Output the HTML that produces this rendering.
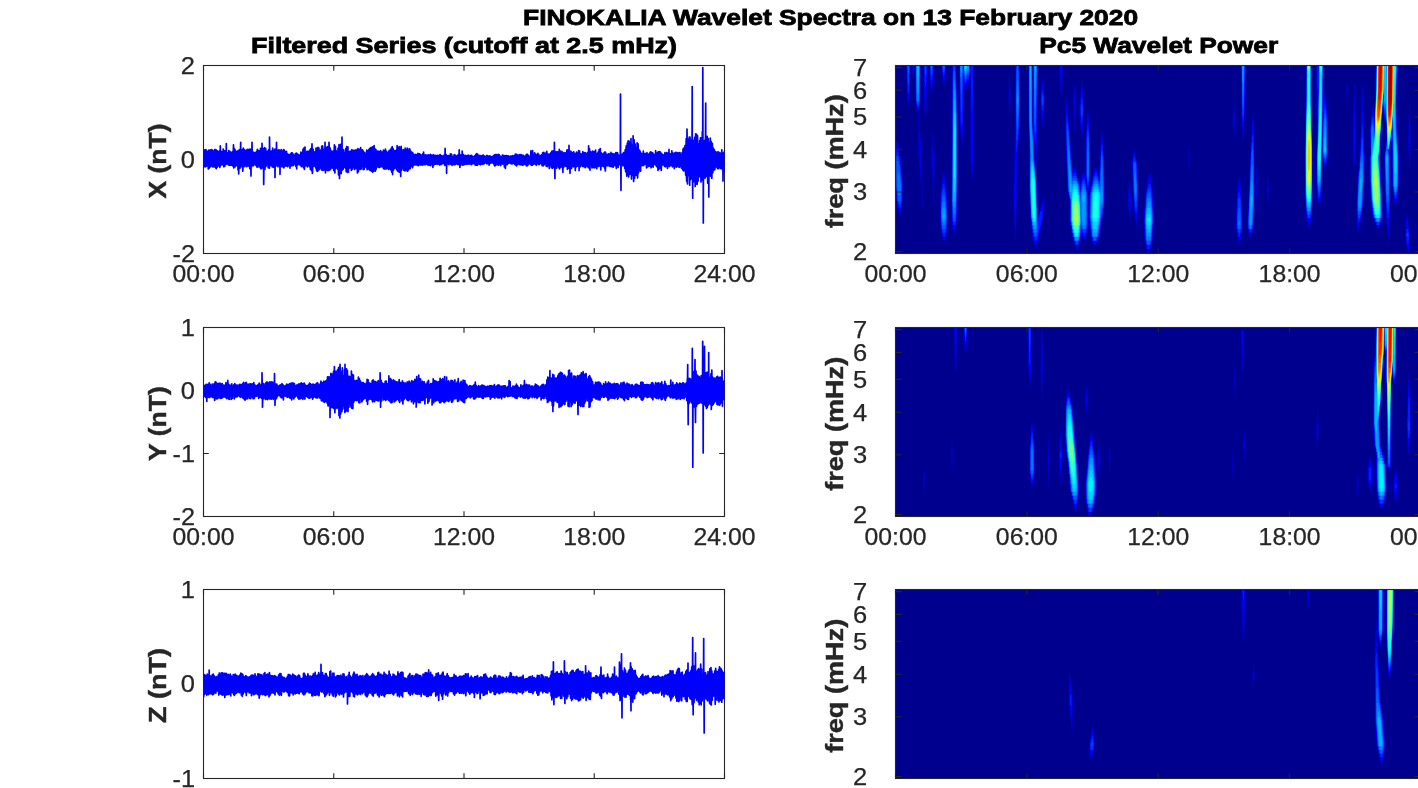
<!DOCTYPE html>
<html><head><meta charset="utf-8"><style>html,body{margin:0;padding:0;background:#fff;overflow:hidden}svg{display:block;will-change:transform}</style></head>
<body><svg width="1418" height="788" viewBox="0 0 1418 788">
<rect width="1418" height="788" fill="#fff"/>
<text x="830.60" y="25.25" font-family="&quot;Liberation Sans&quot;, sans-serif" font-size="22.7" font-weight="bold" text-anchor="middle" fill="#000" textLength="615" lengthAdjust="spacingAndGlyphs"  stroke="#000" stroke-width="0.8">FINOKALIA Wavelet Spectra on 13 February 2020</text>
<text x="464.00" y="53.30" font-family="&quot;Liberation Sans&quot;, sans-serif" font-size="22.7" font-weight="bold" text-anchor="middle" fill="#000" textLength="426" lengthAdjust="spacingAndGlyphs"  stroke="#000" stroke-width="0.8">Filtered Series (cutoff at 2.5 mHz)</text>
<text x="1158.70" y="53.30" font-family="&quot;Liberation Sans&quot;, sans-serif" font-size="22.7" font-weight="bold" text-anchor="middle" fill="#000" textLength="239" lengthAdjust="spacingAndGlyphs"  stroke="#000" stroke-width="0.8">Pc5 Wavelet Power</text>
<defs><filter id="blr" x="-5%" y="-5%" width="110%" height="110%"><feGaussianBlur stdDeviation="0.6"/></filter><clipPath id="cl1"><rect x="203.5" y="65.5" width="521" height="188"/></clipPath><clipPath id="cl2"><rect x="203.5" y="327.5" width="521" height="189"/></clipPath><clipPath id="cl3"><rect x="203.5" y="589.5" width="521" height="189"/></clipPath></defs>
<rect x="203.5" y="65.5" width="521.0" height="188.0" fill="none" stroke="#262626" stroke-width="1.1"/>
<path d="M203.50 253.5V248.2M203.50 65.5V70.8M333.75 253.5V248.2M333.75 65.5V70.8M464.00 253.5V248.2M464.00 65.5V70.8M594.25 253.5V248.2M594.25 65.5V70.8M724.50 253.5V248.2M724.50 65.5V70.8M203.5 65.50H208.8M724.5 65.50H719.2M203.5 159.50H208.8M724.5 159.50H719.2M203.5 253.50H208.8M724.5 253.50H719.2" stroke="#262626" stroke-width="1.1" fill="none"/>
<text x="195.00" y="73.70" font-family="&quot;Liberation Sans&quot;, sans-serif" font-size="23.2" font-weight="normal" text-anchor="end" fill="#262626" textLength="14.2" lengthAdjust="spacingAndGlyphs"  stroke="#262626" stroke-width="0.25">2</text>
<text x="195.00" y="167.70" font-family="&quot;Liberation Sans&quot;, sans-serif" font-size="23.2" font-weight="normal" text-anchor="end" fill="#262626" textLength="14.2" lengthAdjust="spacingAndGlyphs"  stroke="#262626" stroke-width="0.25">0</text>
<text x="195.00" y="261.70" font-family="&quot;Liberation Sans&quot;, sans-serif" font-size="23.2" font-weight="normal" text-anchor="end" fill="#262626" textLength="22.5" lengthAdjust="spacingAndGlyphs"  stroke="#262626" stroke-width="0.25">-2</text>
<text x="203.50" y="281.90" font-family="&quot;Liberation Sans&quot;, sans-serif" font-size="23.2" font-weight="normal" text-anchor="middle" fill="#262626" textLength="62" lengthAdjust="spacingAndGlyphs"  stroke="#262626" stroke-width="0.25">00:00</text>
<text x="333.75" y="281.90" font-family="&quot;Liberation Sans&quot;, sans-serif" font-size="23.2" font-weight="normal" text-anchor="middle" fill="#262626" textLength="62" lengthAdjust="spacingAndGlyphs"  stroke="#262626" stroke-width="0.25">06:00</text>
<text x="464.00" y="281.90" font-family="&quot;Liberation Sans&quot;, sans-serif" font-size="23.2" font-weight="normal" text-anchor="middle" fill="#262626" textLength="62" lengthAdjust="spacingAndGlyphs"  stroke="#262626" stroke-width="0.25">12:00</text>
<text x="594.25" y="281.90" font-family="&quot;Liberation Sans&quot;, sans-serif" font-size="23.2" font-weight="normal" text-anchor="middle" fill="#262626" textLength="62" lengthAdjust="spacingAndGlyphs"  stroke="#262626" stroke-width="0.25">18:00</text>
<text x="724.50" y="281.90" font-family="&quot;Liberation Sans&quot;, sans-serif" font-size="23.2" font-weight="normal" text-anchor="middle" fill="#262626" textLength="62" lengthAdjust="spacingAndGlyphs"  stroke="#262626" stroke-width="0.25">24:00</text>
<text transform="translate(165.5 161.0) rotate(-90)" font-family="&quot;Liberation Sans&quot;, sans-serif" font-size="23.2" font-weight="bold" text-anchor="middle" fill="#262626" stroke="#262626" stroke-width="0.4" textLength="75" lengthAdjust="spacingAndGlyphs">X (nT)</text>
<rect x="203.5" y="327.5" width="521.0" height="189.0" fill="none" stroke="#262626" stroke-width="1.1"/>
<path d="M203.50 516.5V511.2M203.50 327.5V332.8M333.75 516.5V511.2M333.75 327.5V332.8M464.00 516.5V511.2M464.00 327.5V332.8M594.25 516.5V511.2M594.25 327.5V332.8M724.50 516.5V511.2M724.50 327.5V332.8M203.5 327.50H208.8M724.5 327.50H719.2M203.5 390.50H208.8M724.5 390.50H719.2M203.5 453.50H208.8M724.5 453.50H719.2M203.5 516.50H208.8M724.5 516.50H719.2" stroke="#262626" stroke-width="1.1" fill="none"/>
<text x="195.00" y="335.70" font-family="&quot;Liberation Sans&quot;, sans-serif" font-size="23.2" font-weight="normal" text-anchor="end" fill="#262626" textLength="14.2" lengthAdjust="spacingAndGlyphs"  stroke="#262626" stroke-width="0.25">1</text>
<text x="195.00" y="398.70" font-family="&quot;Liberation Sans&quot;, sans-serif" font-size="23.2" font-weight="normal" text-anchor="end" fill="#262626" textLength="14.2" lengthAdjust="spacingAndGlyphs"  stroke="#262626" stroke-width="0.25">0</text>
<text x="195.00" y="461.70" font-family="&quot;Liberation Sans&quot;, sans-serif" font-size="23.2" font-weight="normal" text-anchor="end" fill="#262626" textLength="22.5" lengthAdjust="spacingAndGlyphs"  stroke="#262626" stroke-width="0.25">-1</text>
<text x="195.00" y="524.70" font-family="&quot;Liberation Sans&quot;, sans-serif" font-size="23.2" font-weight="normal" text-anchor="end" fill="#262626" textLength="22.5" lengthAdjust="spacingAndGlyphs"  stroke="#262626" stroke-width="0.25">-2</text>
<text x="203.50" y="544.90" font-family="&quot;Liberation Sans&quot;, sans-serif" font-size="23.2" font-weight="normal" text-anchor="middle" fill="#262626" textLength="62" lengthAdjust="spacingAndGlyphs"  stroke="#262626" stroke-width="0.25">00:00</text>
<text x="333.75" y="544.90" font-family="&quot;Liberation Sans&quot;, sans-serif" font-size="23.2" font-weight="normal" text-anchor="middle" fill="#262626" textLength="62" lengthAdjust="spacingAndGlyphs"  stroke="#262626" stroke-width="0.25">06:00</text>
<text x="464.00" y="544.90" font-family="&quot;Liberation Sans&quot;, sans-serif" font-size="23.2" font-weight="normal" text-anchor="middle" fill="#262626" textLength="62" lengthAdjust="spacingAndGlyphs"  stroke="#262626" stroke-width="0.25">12:00</text>
<text x="594.25" y="544.90" font-family="&quot;Liberation Sans&quot;, sans-serif" font-size="23.2" font-weight="normal" text-anchor="middle" fill="#262626" textLength="62" lengthAdjust="spacingAndGlyphs"  stroke="#262626" stroke-width="0.25">18:00</text>
<text x="724.50" y="544.90" font-family="&quot;Liberation Sans&quot;, sans-serif" font-size="23.2" font-weight="normal" text-anchor="middle" fill="#262626" textLength="62" lengthAdjust="spacingAndGlyphs"  stroke="#262626" stroke-width="0.25">24:00</text>
<text transform="translate(165.5 423.5) rotate(-90)" font-family="&quot;Liberation Sans&quot;, sans-serif" font-size="23.2" font-weight="bold" text-anchor="middle" fill="#262626" stroke="#262626" stroke-width="0.4" textLength="75" lengthAdjust="spacingAndGlyphs">Y (nT)</text>
<rect x="203.5" y="589.5" width="521.0" height="189.0" fill="none" stroke="#262626" stroke-width="1.1"/>
<path d="M203.50 778.5V773.2M203.50 589.5V594.8M333.75 778.5V773.2M333.75 589.5V594.8M464.00 778.5V773.2M464.00 589.5V594.8M594.25 778.5V773.2M594.25 589.5V594.8M724.50 778.5V773.2M724.50 589.5V594.8M203.5 589.50H208.8M724.5 589.50H719.2M203.5 684.00H208.8M724.5 684.00H719.2M203.5 778.50H208.8M724.5 778.50H719.2" stroke="#262626" stroke-width="1.1" fill="none"/>
<text x="195.00" y="597.70" font-family="&quot;Liberation Sans&quot;, sans-serif" font-size="23.2" font-weight="normal" text-anchor="end" fill="#262626" textLength="14.2" lengthAdjust="spacingAndGlyphs"  stroke="#262626" stroke-width="0.25">1</text>
<text x="195.00" y="692.20" font-family="&quot;Liberation Sans&quot;, sans-serif" font-size="23.2" font-weight="normal" text-anchor="end" fill="#262626" textLength="14.2" lengthAdjust="spacingAndGlyphs"  stroke="#262626" stroke-width="0.25">0</text>
<text x="195.00" y="786.70" font-family="&quot;Liberation Sans&quot;, sans-serif" font-size="23.2" font-weight="normal" text-anchor="end" fill="#262626" textLength="22.5" lengthAdjust="spacingAndGlyphs"  stroke="#262626" stroke-width="0.25">-1</text>
<text transform="translate(165.5 685.5) rotate(-90)" font-family="&quot;Liberation Sans&quot;, sans-serif" font-size="23.2" font-weight="bold" text-anchor="middle" fill="#262626" stroke="#262626" stroke-width="0.4" textLength="75" lengthAdjust="spacingAndGlyphs">Z (nT)</text>
<g clip-path="url(#cl1)">
<polyline points="203.5,166.2 203.7,167.2 203.8,157.8 204.0,150.1 204.2,152.2 204.3,159.1 204.5,166.4 204.7,166.1 204.8,155.3 205.0,149.8 205.2,153.0 205.3,159.9 205.5,166.8 205.7,164.5 205.8,156.2 206.0,149.5 206.2,155.4 206.3,166.3 206.5,166.2 206.7,156.9 206.8,152.0 207.0,155.5 207.2,162.6 207.3,163.8 207.5,159.1 207.7,151.5 207.8,151.1 208.0,153.8 208.2,164.9 208.3,169.1 208.5,158.6 208.7,150.4 208.8,150.2 209.0,164.3 209.2,168.2 209.3,155.6 209.5,151.1 209.7,150.1 209.8,154.6 210.0,162.3 210.2,166.1 210.3,166.9 210.5,163.1 210.7,151.3 210.8,149.9 211.0,157.6 211.2,165.7 211.3,165.8 211.5,154.8 211.7,149.6 211.8,153.3 212.0,158.9 212.2,164.8 212.3,166.6 212.5,162.0 212.7,155.3 212.8,150.3 213.0,153.9 213.2,160.4 213.3,166.9 213.5,164.4 213.7,160.3 213.8,155.3 214.0,151.0 214.2,157.3 214.3,166.6 214.5,163.2 214.7,156.0 214.8,149.5 215.0,153.8 215.2,163.1 215.3,167.6 215.5,159.3 215.7,151.8 215.8,149.5 216.0,152.0 216.2,160.7 216.3,168.7 216.5,158.6 216.7,150.6 216.8,153.0 217.0,164.1 217.2,167.2 217.3,158.5 217.5,151.1 217.7,151.2 217.8,156.5 218.0,164.9 218.2,165.2 218.3,156.9 218.5,152.7 218.7,152.0 218.8,161.3 219.0,166.2 219.2,159.2 219.3,151.1 219.5,152.6 219.7,158.1 219.8,167.5 220.0,165.3 220.2,153.0 220.3,145.9 220.5,154.9 220.7,165.6 220.8,164.8 221.0,156.5 221.2,151.4 221.3,153.8 221.5,158.6 221.7,164.5 221.8,161.9 222.0,154.2 222.2,152.1 222.3,153.7 222.5,159.7 222.7,164.8 222.8,163.2 223.0,156.6 223.2,149.0 223.3,154.3 223.5,161.1 223.7,165.1 223.8,166.8 224.0,155.9 224.2,150.7 224.3,150.8 224.5,160.3 224.7,166.5 224.8,162.9 225.0,158.0 225.2,151.1 225.3,153.2 225.5,158.2 225.7,164.7 225.8,161.3 226.0,152.9 226.2,154.2 226.3,143.5 226.5,164.0 226.7,157.7 226.8,153.5 227.0,153.6 227.2,159.0 227.3,163.5 227.5,164.0 227.7,161.0 227.8,157.1 228.0,152.5 228.2,153.3 228.3,161.0 228.5,165.0 228.7,158.1 228.8,150.7 229.0,155.1 229.2,163.6 229.3,165.5 229.5,161.5 229.7,156.9 229.8,151.3 230.0,153.4 230.2,161.6 230.3,165.1 230.5,163.4 230.7,157.5 230.8,152.4 231.0,152.9 231.2,155.7 231.3,161.2 231.5,165.1 231.7,161.6 231.8,156.7 232.0,152.1 232.2,154.4 232.3,163.2 232.5,165.8 232.7,164.3 232.8,159.4 233.0,153.1 233.2,150.6 233.3,150.9 233.5,144.9 233.7,163.9 233.8,168.1 234.0,160.8 234.2,152.2 234.3,148.4 234.5,149.8 234.7,157.8 234.8,164.4 235.0,167.0 235.2,158.4 235.3,150.0 235.5,151.6 235.7,155.1 235.8,160.6 236.0,166.0 236.2,164.6 236.3,156.1 236.5,152.1 236.7,151.6 236.8,158.3 237.0,164.5 237.2,164.8 237.3,155.3 237.5,151.0 237.7,151.1 237.8,158.3 238.0,169.8 238.2,163.1 238.3,151.4 238.5,150.5 238.7,173.8 238.8,168.3 239.0,165.7 239.2,156.2 239.3,150.0 239.5,149.6 239.7,155.5 239.8,161.4 240.0,168.3 240.2,160.1 240.3,150.4 240.5,151.2 240.7,142.3 240.8,163.4 241.0,165.8 241.2,158.3 241.3,151.0 241.5,155.5 241.7,162.5 241.8,166.9 242.0,163.6 242.2,154.6 242.3,149.7 242.5,151.0 242.7,161.9 242.8,171.2 243.0,166.5 243.2,156.3 243.3,148.2 243.5,149.9 243.7,156.8 243.8,164.7 244.0,166.4 244.2,154.6 244.3,149.5 244.5,155.7 244.7,165.3 244.8,166.6 245.0,161.9 245.2,152.8 245.3,150.6 245.5,158.9 245.7,165.0 245.8,163.9 246.0,155.6 246.2,150.3 246.3,154.9 246.5,161.2 246.7,165.1 246.8,166.7 247.0,161.5 247.2,151.9 247.3,149.3 247.5,157.9 247.7,164.6 247.8,165.7 248.0,161.0 248.2,154.0 248.3,149.7 248.5,151.9 248.7,159.7 248.8,166.1 249.0,164.5 249.2,154.2 249.3,149.4 249.5,153.2 249.7,165.9 249.8,168.6 250.0,158.3 250.2,149.1 250.3,153.6 250.5,163.0 250.7,167.2 250.8,161.2 251.0,175.9 251.2,153.0 251.3,158.2 251.5,163.5 251.7,163.1 251.8,158.0 252.0,142.3 252.2,154.6 252.3,159.8 252.5,164.8 252.7,165.8 252.8,159.0 253.0,152.2 253.2,152.1 253.3,155.8 253.5,164.0 253.7,165.6 253.8,160.7 254.0,152.6 254.2,152.9 254.3,156.8 254.5,163.9 254.7,162.4 254.8,155.8 255.0,152.6 255.2,154.6 255.3,160.3 255.5,164.1 255.7,165.2 255.9,162.7 256.0,157.8 256.2,152.6 256.4,151.8 256.5,159.6 256.7,167.0 256.9,162.5 257.0,156.6 257.2,150.1 257.4,149.4 257.5,155.8 257.7,162.5 257.9,167.2 258.0,167.0 258.2,161.6 258.4,151.3 258.5,150.6 258.7,158.2 258.9,163.6 259.0,165.9 259.2,161.5 259.4,156.4 259.5,150.8 259.7,153.3 259.9,163.8 260.0,167.6 260.2,165.3 260.4,151.9 260.5,148.3 260.7,151.3 260.9,165.8 261.0,168.9 261.2,163.1 261.4,152.5 261.5,149.6 261.7,159.6 261.9,167.8 262.0,143.3 262.2,154.0 262.4,149.2 262.5,154.4 262.7,165.1 262.9,168.0 263.0,161.7 263.2,151.3 263.4,148.9 263.5,154.1 263.7,184.5 263.9,168.1 264.0,164.7 264.2,154.2 264.4,147.7 264.5,150.2 264.7,155.4 264.9,169.4 265.0,168.2 265.2,165.5 265.4,156.2 265.5,148.9 265.7,148.3 265.9,160.9 266.0,166.4 266.2,165.4 266.4,159.1 266.5,151.3 266.7,151.5 266.9,157.0 267.0,162.8 267.2,164.6 267.4,158.6 267.5,151.2 267.7,152.0 267.9,155.7 268.0,162.7 268.2,167.8 268.4,163.4 268.5,154.6 268.7,149.7 268.9,149.8 269.0,159.1 269.2,164.9 269.4,168.2 269.5,137.2 269.7,150.4 269.9,150.8 270.0,156.1 270.2,165.4 270.4,165.5 270.5,158.8 270.7,153.4 270.9,151.2 271.0,158.3 271.2,162.9 271.4,165.3 271.5,163.0 271.7,153.7 271.9,151.1 272.0,157.3 272.2,166.0 272.4,167.0 272.5,153.1 272.7,148.2 272.9,150.8 273.0,156.7 273.2,166.4 273.4,167.3 273.5,156.5 273.7,151.7 273.9,150.7 274.0,157.9 274.2,164.0 274.4,166.8 274.5,161.2 274.7,150.5 274.9,149.0 275.0,177.4 275.2,161.1 275.4,166.7 275.5,162.1 275.7,153.4 275.9,150.6 276.0,154.0 276.2,164.6 276.4,164.5 276.5,142.3 276.7,150.2 276.9,157.6 277.0,165.6 277.2,165.0 277.4,160.6 277.5,151.9 277.7,151.5 277.9,162.8 278.0,166.8 278.2,160.9 278.4,153.9 278.5,149.9 278.7,161.3 278.9,166.0 279.0,165.9 279.2,156.3 279.4,150.2 279.5,157.4 279.7,162.7 279.9,165.6 280.0,174.3 280.2,155.7 280.4,150.8 280.5,153.5 280.7,165.1 280.9,164.7 281.0,157.8 281.2,149.5 281.4,151.8 281.5,159.5 281.7,165.4 281.9,166.9 282.0,162.2 282.2,157.1 282.4,151.0 282.5,151.4 282.7,160.3 282.9,165.8 283.0,166.5 283.2,162.7 283.4,153.5 283.5,149.6 283.7,159.4 283.9,168.0 284.0,163.2 284.2,153.4 284.4,150.2 284.5,151.8 284.7,163.0 284.9,166.3 285.0,161.8 285.2,156.6 285.4,152.2 285.5,152.0 285.7,157.1 285.9,165.9 286.0,166.0 286.2,159.0 286.4,154.2 286.5,151.4 286.7,156.4 286.9,164.0 287.0,166.0 287.2,162.4 287.4,154.4 287.5,153.8 287.7,158.7 287.9,166.8 288.0,165.6 288.2,160.8 288.4,157.0 288.5,154.6 288.7,157.9 288.9,164.5 289.0,165.2 289.2,161.8 289.4,156.6 289.5,154.6 289.7,160.8 289.9,164.5 290.0,168.2 290.2,159.8 290.4,154.9 290.5,154.0 290.7,160.8 290.9,166.2 291.0,163.8 291.2,156.9 291.4,152.9 291.5,157.0 291.7,165.2 291.9,164.8 292.0,156.2 292.2,152.8 292.4,158.7 292.5,165.3 292.7,165.6 292.9,161.5 293.0,154.2 293.2,154.2 293.4,159.8 293.5,165.3 293.7,164.1 293.9,157.3 294.0,155.5 294.2,157.0 294.4,162.0 294.5,164.0 294.7,163.7 294.9,160.8 295.0,156.6 295.2,153.9 295.4,156.9 295.5,161.8 295.7,166.3 295.9,162.7 296.0,154.6 296.2,153.2 296.4,158.5 296.5,163.9 296.7,168.9 296.9,158.7 297.0,153.7 297.2,154.6 297.4,161.3 297.5,165.2 297.7,162.9 297.9,156.4 298.0,154.3 298.2,155.2 298.4,161.1 298.5,164.3 298.7,159.7 298.9,155.5 299.0,156.6 299.2,159.3 299.4,162.0 299.5,164.4 299.7,161.4 299.9,155.3 300.0,154.7 300.2,158.1 300.4,165.4 300.5,165.4 300.7,159.8 300.9,152.0 301.0,155.7 301.2,161.8 301.4,166.7 301.5,163.4 301.7,157.1 301.9,153.0 302.0,154.3 302.2,160.7 302.4,165.6 302.5,164.2 302.7,156.6 302.9,151.1 303.0,149.4 303.2,164.3 303.4,167.7 303.5,162.1 303.7,154.6 303.9,148.0 304.0,154.8 304.2,162.6 304.4,169.5 304.5,167.4 304.7,158.5 304.9,147.9 305.0,147.2 305.2,158.0 305.4,165.0 305.5,165.9 305.7,158.6 305.9,152.9 306.0,154.0 306.2,163.0 306.4,165.7 306.5,159.7 306.7,153.9 306.9,151.3 307.0,156.7 307.2,163.2 307.4,166.9 307.5,165.4 307.7,159.7 307.9,151.3 308.0,155.4 308.2,160.5 308.4,165.1 308.5,163.8 308.7,153.3 308.9,151.5 309.0,158.0 309.2,164.3 309.4,166.6 309.5,156.7 309.7,150.2 309.9,150.7 310.0,154.2 310.2,166.6 310.4,169.4 310.5,164.9 310.7,153.2 310.9,148.6 311.0,152.8 311.2,161.9 311.4,168.8 311.5,170.7 311.7,161.8 311.9,147.3 312.0,143.9 312.2,152.7 312.4,173.4 312.5,171.9 312.7,167.1 312.9,155.5 313.0,150.0 313.2,149.5 313.4,157.3 313.5,166.1 313.7,165.2 313.9,156.9 314.0,152.5 314.2,152.3 314.4,159.6 314.5,166.2 314.7,166.1 314.9,159.7 315.0,153.1 315.2,151.6 315.4,157.7 315.5,164.7 315.7,167.9 315.9,157.8 316.0,148.1 316.2,155.0 316.4,164.8 316.5,170.6 316.7,163.7 316.9,150.2 317.0,148.4 317.2,158.1 317.4,171.3 317.5,170.6 317.7,164.8 317.9,149.1 318.0,147.3 318.2,156.1 318.4,170.5 318.5,167.2 318.7,155.5 318.9,147.9 319.0,158.3 319.2,169.4 319.4,167.7 319.5,161.0 319.7,153.7 319.9,150.3 320.0,155.7 320.2,165.9 320.4,168.0 320.5,165.7 320.7,157.6 320.9,149.8 321.0,154.9 321.2,164.8 321.4,169.6 321.5,158.2 321.7,146.3 321.9,149.6 322.0,162.6 322.2,170.3 322.4,160.0 322.5,145.9 322.7,147.6 322.9,154.2 323.0,165.0 323.2,170.3 323.4,162.4 323.5,150.4 323.7,149.6 323.9,161.2 324.0,167.3 324.2,169.9 324.4,164.5 324.5,151.3 324.7,149.5 324.9,161.3 325.0,142.3 325.2,163.4 325.4,150.1 325.5,172.8 325.7,164.4 325.9,168.6 326.0,157.0 326.2,147.5 326.4,150.5 326.5,155.9 326.7,169.9 326.9,170.1 327.0,161.5 327.2,152.9 327.4,146.7 327.5,150.4 327.7,166.1 327.9,170.7 328.0,164.1 328.2,148.9 328.4,146.5 328.5,160.6 328.7,170.5 328.9,164.0 329.0,142.3 329.2,147.0 329.4,149.9 329.5,164.5 329.7,170.2 329.9,166.4 330.0,155.2 330.2,148.0 330.4,151.8 330.5,166.2 330.7,169.1 330.9,167.1 331.0,158.7 331.2,150.9 331.4,152.1 331.5,163.2 331.7,167.7 331.9,166.4 332.0,161.4 332.2,151.7 332.4,151.9 332.5,158.1 332.7,167.6 332.9,168.1 333.0,163.3 333.2,151.1 333.4,150.9 333.5,159.7 333.7,169.7 333.9,170.6 334.0,164.0 334.2,150.0 334.4,144.9 334.5,153.6 334.7,169.7 334.9,173.0 335.0,163.3 335.2,152.4 335.4,146.6 335.5,153.5 335.7,166.5 335.9,168.5 336.0,159.6 336.2,151.7 336.4,151.0 336.5,158.4 336.7,167.3 336.9,165.6 337.0,157.7 337.2,151.0 337.4,152.6 337.5,164.1 337.7,169.4 337.9,163.1 338.0,148.4 338.2,149.2 338.4,162.1 338.5,174.8 338.7,166.8 338.9,150.9 339.0,144.7 339.2,155.2 339.4,165.8 339.5,178.4 339.7,157.1 339.9,146.5 340.0,148.4 340.2,165.5 340.4,172.7 340.5,158.4 340.7,144.4 340.9,148.5 341.0,164.0 341.2,173.7 341.4,164.5 341.5,154.6 341.7,145.0 341.9,148.3 342.0,137.2 342.2,170.1 342.4,165.2 342.5,152.6 342.7,149.8 342.9,159.5 343.0,168.1 343.2,169.2 343.4,164.1 343.5,153.8 343.7,149.6 343.9,155.0 344.0,161.5 344.2,167.2 344.4,167.1 344.5,157.1 344.7,152.6 344.9,152.5 345.0,159.6 345.2,165.5 345.4,168.1 345.5,160.4 345.7,153.2 345.9,148.4 346.0,159.5 346.2,171.6 346.4,169.5 346.5,160.8 346.7,146.7 346.9,149.1 347.0,158.4 347.2,170.2 347.4,172.5 347.5,162.7 347.7,151.7 347.9,146.9 348.0,152.6 348.2,167.3 348.4,172.2 348.5,168.0 348.7,155.8 348.9,151.9 349.0,153.5 349.2,161.5 349.4,168.2 349.5,164.8 349.7,153.2 349.9,151.4 350.0,153.3 350.2,162.6 350.4,167.9 350.5,166.3 350.7,156.2 350.9,151.1 351.0,153.1 351.2,162.7 351.4,170.5 351.5,167.5 351.7,160.1 351.9,149.7 352.0,150.5 352.2,158.0 352.4,169.1 352.5,166.5 352.7,162.1 352.9,156.0 353.0,151.1 353.2,157.6 353.4,167.3 353.5,166.8 353.7,161.4 353.9,155.0 354.0,150.0 354.2,151.9 354.4,163.3 354.5,169.5 354.7,166.8 354.9,157.7 355.0,150.8 355.2,151.2 355.4,161.9 355.5,168.7 355.7,165.0 355.9,153.3 356.0,149.6 356.2,158.4 356.4,168.2 356.5,166.4 356.7,157.0 356.9,150.8 357.0,151.8 357.2,161.9 357.4,173.0 357.5,166.8 357.7,152.5 357.9,148.6 358.0,158.8 358.2,170.6 358.4,171.7 358.5,166.4 358.7,156.7 358.9,149.7 359.0,151.2 359.2,158.0 359.4,168.8 359.5,167.3 359.7,158.4 359.9,149.1 360.1,156.8 360.2,169.5 360.4,167.1 360.6,153.2 360.7,147.5 360.9,157.6 361.1,164.5 361.2,169.1 361.4,161.9 361.6,153.2 361.7,150.4 361.9,156.1 362.1,166.7 362.2,166.5 362.4,155.8 362.6,149.8 362.7,152.4 362.9,157.9 363.1,168.3 363.2,169.7 363.4,164.6 363.6,156.3 363.7,151.5 363.9,160.1 364.1,169.4 364.2,165.0 364.4,159.8 364.6,152.8 364.7,153.2 364.9,159.3 365.1,166.0 365.2,166.3 365.4,161.7 365.6,153.6 365.7,153.4 365.9,163.5 366.1,167.6 366.2,165.9 366.4,161.2 366.6,153.3 366.7,150.1 366.9,150.2 367.1,163.1 367.2,169.7 367.4,168.1 367.6,159.8 367.7,151.5 367.9,150.9 368.1,157.1 368.2,165.5 368.4,168.9 368.6,164.4 368.7,151.9 368.9,149.4 369.1,151.9 369.2,162.0 369.4,169.9 369.6,169.6 369.7,155.5 369.9,148.4 370.1,154.6 370.2,167.0 370.4,170.6 370.6,168.1 370.7,162.7 370.9,147.7 371.1,151.3 371.2,157.7 371.4,165.2 371.6,170.7 371.7,171.1 371.9,164.1 372.1,147.1 372.2,151.0 372.4,168.6 372.6,172.2 372.7,158.4 372.9,146.8 373.1,150.3 373.2,163.5 373.4,171.5 373.6,169.2 373.7,154.3 373.9,149.1 374.1,145.5 374.2,162.9 374.4,170.8 374.6,169.4 374.7,161.5 374.9,151.4 375.1,148.9 375.2,160.2 375.4,171.2 375.6,165.5 375.7,151.5 375.9,149.7 376.1,162.2 376.2,169.2 376.4,165.8 376.6,158.9 376.7,150.8 376.9,151.3 377.1,157.9 377.2,166.6 377.4,166.5 377.6,155.5 377.7,151.0 377.9,156.3 378.1,164.8 378.2,167.2 378.4,161.7 378.6,151.9 378.7,151.4 378.9,155.6 379.1,166.2 379.2,167.6 379.4,158.0 379.6,152.2 379.7,151.5 379.9,157.4 380.1,167.0 380.2,165.9 380.4,157.3 380.6,150.5 380.7,153.2 380.9,160.5 381.1,167.0 381.2,165.6 381.4,157.8 381.6,152.4 381.7,156.8 381.9,166.1 382.1,165.4 382.2,160.1 382.4,152.2 382.6,152.3 382.7,157.0 382.9,166.0 383.1,167.9 383.2,157.1 383.4,150.2 383.6,150.4 383.7,158.9 383.9,169.0 384.1,168.2 384.2,162.8 384.4,152.2 384.6,151.1 384.7,162.4 384.9,168.1 385.1,168.9 385.2,156.3 385.4,149.1 385.6,152.2 385.7,157.6 385.9,169.0 386.1,168.0 386.2,159.9 386.4,151.3 386.6,154.5 386.7,166.0 386.9,168.7 387.1,161.6 387.2,154.5 387.4,153.0 387.6,161.5 387.7,167.4 387.9,161.7 388.1,154.2 388.2,152.1 388.4,156.2 388.6,169.5 388.7,168.4 388.9,162.9 389.1,157.0 389.2,150.3 389.4,153.3 389.6,164.0 389.7,169.0 389.9,166.3 390.1,154.7 390.2,150.1 390.4,156.9 390.6,166.0 390.7,169.8 390.9,165.4 391.1,158.6 391.2,148.3 391.4,152.6 391.6,162.1 391.7,172.1 391.9,171.9 392.1,157.1 392.2,146.7 392.4,158.4 392.6,174.6 392.7,166.8 392.9,156.4 393.1,148.6 393.2,149.5 393.4,159.0 393.6,170.1 393.7,164.9 393.9,154.4 394.1,150.6 394.2,156.9 394.4,166.3 394.6,168.3 394.7,160.9 394.9,155.3 395.1,150.8 395.2,156.7 395.4,163.5 395.6,167.9 395.7,163.6 395.9,156.7 396.1,150.3 396.2,152.6 396.4,160.0 396.6,169.7 396.7,168.4 396.9,156.8 397.1,145.7 397.2,155.8 397.4,164.0 397.6,171.1 397.7,166.2 397.9,154.5 398.1,147.9 398.2,156.0 398.4,164.2 398.6,171.8 398.7,160.3 398.9,148.9 399.1,146.6 399.2,156.8 399.4,171.7 399.6,172.2 399.7,163.6 399.9,154.4 400.1,148.1 400.2,149.3 400.4,163.4 400.6,170.2 400.7,176.5 400.9,162.2 401.1,146.3 401.2,147.3 401.4,157.7 401.6,166.3 401.7,170.1 401.9,160.4 402.1,152.6 402.2,153.9 402.4,163.6 402.6,168.0 402.7,163.7 402.9,153.3 403.1,149.5 403.2,152.8 403.4,159.6 403.6,167.1 403.7,170.1 403.9,164.9 404.1,150.0 404.2,150.7 404.4,157.5 404.6,167.6 404.7,170.8 404.9,166.8 405.1,155.5 405.2,148.2 405.4,156.6 405.6,166.9 405.7,170.6 405.9,158.8 406.1,150.9 406.2,149.9 406.4,158.1 406.6,165.8 406.7,170.6 406.9,163.2 407.1,155.7 407.2,148.2 407.4,155.1 407.6,162.4 407.7,171.2 407.9,161.5 408.1,151.8 408.2,150.8 408.4,162.6 408.6,169.8 408.7,165.5 408.9,153.5 409.1,148.8 409.2,155.3 409.4,168.7 409.6,168.0 409.7,155.4 409.9,149.1 410.1,160.7 410.2,168.6 410.4,167.0 410.6,156.1 410.7,151.2 410.9,154.1 411.1,158.5 411.2,164.1 411.4,166.2 411.6,161.5 411.7,155.0 411.9,152.2 412.1,156.1 412.2,163.2 412.4,167.2 412.6,167.6 412.7,158.0 412.9,153.1 413.1,154.0 413.2,158.7 413.4,162.8 413.6,165.3 413.7,162.3 413.9,158.2 414.1,155.4 414.2,157.0 414.4,162.1 414.6,164.9 414.7,163.0 414.9,158.4 415.1,154.4 415.2,154.8 415.4,156.9 415.6,162.7 415.7,164.8 415.9,158.6 416.1,154.6 416.2,157.5 416.4,163.0 416.6,164.7 416.7,159.5 416.9,154.8 417.1,156.7 417.2,161.9 417.4,165.5 417.6,163.2 417.7,159.3 417.9,153.3 418.1,154.3 418.2,162.3 418.4,165.6 418.6,162.9 418.7,154.1 418.9,153.8 419.1,156.2 419.2,164.6 419.4,164.2 419.6,157.2 419.7,153.9 419.9,158.7 420.1,164.9 420.2,163.7 420.4,156.8 420.6,154.9 420.7,156.7 420.9,164.1 421.1,164.8 421.2,158.5 421.4,155.3 421.6,155.6 421.7,160.5 421.9,164.1 422.1,165.2 422.2,162.8 422.4,156.2 422.6,154.0 422.7,158.4 422.9,161.9 423.1,164.9 423.2,163.1 423.4,157.8 423.6,152.0 423.7,157.3 423.9,161.0 424.1,164.3 424.2,162.7 424.4,156.9 424.6,155.4 424.7,155.6 424.9,161.6 425.1,164.4 425.2,164.8 425.4,159.8 425.6,154.8 425.7,157.4 425.9,162.5 426.1,164.1 426.2,160.5 426.4,157.6 426.6,155.4 426.7,157.6 426.9,162.3 427.1,164.1 427.2,162.0 427.4,155.9 427.6,155.0 427.7,160.5 427.9,164.9 428.1,165.1 428.2,161.0 428.4,156.2 428.6,154.8 428.7,158.4 428.9,164.2 429.1,164.9 429.2,161.2 429.4,156.0 429.6,155.8 429.7,161.2 429.9,165.4 430.1,162.4 430.2,157.0 430.4,154.4 430.6,160.6 430.7,165.6 430.9,165.1 431.1,160.7 431.2,156.2 431.4,155.2 431.6,156.5 431.7,162.2 431.9,164.1 432.1,161.9 432.2,158.5 432.4,155.9 432.6,156.5 432.7,160.6 432.9,167.4 433.1,161.8 433.2,154.5 433.4,156.0 433.6,162.4 433.7,164.8 433.9,164.8 434.1,162.4 434.2,156.5 434.4,155.4 434.6,157.8 434.7,161.8 434.9,164.3 435.1,161.4 435.2,157.6 435.4,155.4 435.6,156.6 435.7,161.9 435.9,164.1 436.1,162.5 436.2,159.3 436.4,156.4 436.6,155.5 436.7,158.8 436.9,163.4 437.1,164.0 437.2,157.5 437.4,155.4 437.6,157.4 437.7,163.0 437.9,164.5 438.1,161.5 438.2,156.0 438.4,156.7 438.6,159.4 438.7,163.5 438.9,163.0 439.1,158.7 439.2,155.2 439.4,156.4 439.6,161.6 439.7,165.1 439.9,161.8 440.1,157.1 440.2,154.6 440.4,157.8 440.6,161.4 440.7,164.5 440.9,163.4 441.1,157.6 441.2,155.6 441.4,157.7 441.6,164.3 441.7,163.5 441.9,158.9 442.1,155.9 442.2,157.1 442.4,159.5 442.6,162.4 442.7,163.5 442.9,162.5 443.1,158.5 443.2,156.0 443.4,156.9 443.6,161.6 443.7,163.4 443.9,163.6 444.1,160.2 444.2,156.2 444.4,154.5 444.6,156.7 444.7,161.7 444.9,165.5 445.1,148.4 445.2,154.2 445.4,154.6 445.6,158.6 445.7,165.1 445.9,163.9 446.1,156.8 446.2,154.7 446.4,156.1 446.6,173.3 446.7,163.9 446.9,164.0 447.1,161.8 447.2,156.8 447.4,155.9 447.6,159.4 447.7,162.8 447.9,163.7 448.1,160.9 448.2,156.4 448.4,155.6 448.6,158.5 448.7,161.8 448.9,164.6 449.1,160.4 449.2,157.1 449.4,155.9 449.6,156.4 449.7,159.6 449.9,163.4 450.1,162.7 450.2,158.4 450.4,153.8 450.6,157.7 450.7,162.2 450.9,164.5 451.1,164.0 451.2,159.2 451.4,154.1 451.6,154.6 451.7,160.7 451.9,164.1 452.1,165.3 452.2,161.7 452.4,156.0 452.6,156.7 452.7,161.2 452.9,163.0 453.1,161.3 453.2,157.2 453.4,156.5 453.6,162.0 453.7,164.6 453.9,161.4 454.1,157.9 454.2,154.6 454.4,156.2 454.6,159.7 454.7,164.3 454.9,164.8 455.1,159.3 455.2,155.2 455.4,155.3 455.6,157.4 455.7,162.9 455.9,164.2 456.1,159.3 456.2,155.9 456.4,157.4 456.6,159.9 456.7,163.3 456.9,161.2 457.1,158.5 457.2,156.0 457.4,157.7 457.6,162.6 457.7,164.4 457.9,161.7 458.1,155.6 458.2,154.5 458.4,157.6 458.6,164.1 458.7,164.5 458.9,162.0 459.1,158.2 459.2,149.8 459.4,154.5 459.6,157.2 459.7,163.8 459.9,167.5 460.1,162.5 460.2,157.7 460.4,155.0 460.6,156.5 460.7,162.4 460.9,165.0 461.1,160.6 461.2,155.7 461.4,154.9 461.6,159.0 461.7,164.3 461.9,162.9 462.1,158.6 462.2,151.1 462.4,156.5 462.6,162.6 462.7,165.1 462.9,161.1 463.1,157.2 463.2,154.5 463.4,156.8 463.6,161.1 463.7,165.0 463.9,162.9 464.1,159.3 464.3,155.5 464.4,156.5 464.6,160.8 464.8,164.5 464.9,164.1 465.1,160.2 465.3,155.3 465.4,156.6 465.6,160.5 465.8,164.1 465.9,163.4 466.1,157.2 466.3,155.8 466.4,158.1 466.6,161.4 466.8,164.2 466.9,163.0 467.1,159.6 467.3,155.6 467.4,156.5 467.6,159.0 467.8,163.9 467.9,163.6 468.1,160.1 468.3,156.2 468.4,155.0 468.6,156.3 468.8,162.0 468.9,164.2 469.1,163.4 469.3,158.3 469.4,156.1 469.6,156.4 469.8,158.6 469.9,162.2 470.1,163.7 470.3,162.7 470.4,160.3 470.6,155.7 470.8,155.4 470.9,161.9 471.1,164.3 471.3,164.7 471.4,158.2 471.6,155.9 471.8,155.5 471.9,159.4 472.1,163.9 472.3,163.8 472.4,159.4 472.6,156.6 472.8,156.9 472.9,158.7 473.1,161.6 473.3,163.5 473.4,163.3 473.6,159.8 473.8,156.7 473.9,157.4 474.1,162.3 474.3,164.0 474.4,161.3 474.6,156.0 474.8,155.6 474.9,158.0 475.1,162.8 475.3,165.1 475.4,160.6 475.6,155.4 475.8,154.4 475.9,157.0 476.1,162.1 476.3,165.2 476.4,164.7 476.6,159.8 476.8,153.7 476.9,155.6 477.1,159.9 477.3,165.2 477.4,164.9 477.6,159.3 477.8,154.8 477.9,154.4 478.1,159.5 478.3,164.0 478.4,162.4 478.6,159.6 478.8,156.1 478.9,156.8 479.1,160.1 479.3,164.2 479.4,163.3 479.6,159.8 479.8,156.8 479.9,155.3 480.1,158.6 480.3,161.8 480.4,164.8 480.6,163.8 480.8,159.0 480.9,156.3 481.1,155.9 481.3,161.0 481.4,163.8 481.6,164.0 481.8,161.9 481.9,157.0 482.1,155.6 482.3,157.9 482.4,161.0 482.6,164.3 482.8,161.0 482.9,156.1 483.1,155.1 483.3,160.1 483.4,163.1 483.6,164.0 483.8,161.7 483.9,155.7 484.1,156.3 484.3,160.5 484.4,163.7 484.6,162.6 484.8,158.7 484.9,156.3 485.1,157.1 485.3,160.9 485.4,162.5 485.6,162.1 485.8,157.7 485.9,156.4 486.1,158.0 486.3,161.0 486.4,163.3 486.6,163.6 486.8,159.5 486.9,155.4 487.1,157.1 487.3,161.0 487.4,163.6 487.6,160.9 487.8,156.9 487.9,156.1 488.1,157.3 488.3,161.4 488.4,163.5 488.6,159.4 488.8,156.1 488.9,157.9 489.1,165.2 489.3,163.6 489.4,159.9 489.6,157.2 489.8,155.9 489.9,157.7 490.1,160.8 490.3,163.3 490.4,160.0 490.6,156.8 490.8,156.5 490.9,161.4 491.1,162.8 491.3,159.0 491.4,157.0 491.6,156.9 491.8,159.1 491.9,161.6 492.1,163.0 492.3,160.4 492.4,156.6 492.6,157.4 492.8,159.6 492.9,162.9 493.1,162.8 493.3,159.8 493.4,156.5 493.6,155.6 493.8,157.9 493.9,163.5 494.1,164.9 494.3,160.5 494.4,155.4 494.6,154.8 494.8,160.8 494.9,165.9 495.1,160.0 495.3,154.6 495.4,154.6 495.6,160.3 495.8,165.4 495.9,163.4 496.1,158.7 496.3,154.6 496.4,154.6 496.6,160.1 496.8,164.0 496.9,163.9 497.1,159.1 497.3,155.1 497.4,158.0 497.6,162.3 497.8,164.9 497.9,163.5 498.1,158.3 498.3,154.4 498.4,155.5 498.6,161.6 498.8,165.3 498.9,163.6 499.1,156.9 499.3,154.8 499.4,158.0 499.6,162.8 499.8,163.9 499.9,161.1 500.1,157.0 500.3,156.2 500.4,159.6 500.6,162.6 500.8,165.6 500.9,159.9 501.1,156.9 501.3,156.8 501.4,158.5 501.6,161.6 501.8,163.5 501.9,161.9 502.1,158.0 502.3,155.2 502.4,157.2 502.6,161.0 502.8,164.1 502.9,163.0 503.1,158.1 503.3,155.3 503.4,157.7 503.6,163.8 503.8,163.0 503.9,158.2 504.1,155.5 504.3,160.6 504.4,167.0 504.6,163.5 504.8,159.1 504.9,156.0 505.1,157.4 505.3,161.0 505.4,168.4 505.6,161.9 505.8,156.1 505.9,155.5 506.1,159.1 506.3,164.3 506.4,164.6 506.6,161.1 506.8,155.6 506.9,156.2 507.1,162.5 507.3,164.6 507.4,159.9 507.6,156.3 507.8,155.8 507.9,160.6 508.1,163.3 508.3,163.1 508.4,158.2 508.6,156.0 508.8,159.2 508.9,163.2 509.1,163.1 509.3,159.0 509.4,156.8 509.6,158.0 509.8,162.4 509.9,162.8 510.1,158.9 510.3,156.2 510.4,157.7 510.6,159.8 510.8,162.3 510.9,163.7 511.1,159.7 511.3,156.4 511.4,157.4 511.6,161.0 511.8,163.4 511.9,164.0 512.1,158.8 512.3,155.7 512.4,158.3 512.6,162.4 512.8,163.6 512.9,160.6 513.1,157.2 513.3,156.0 513.4,158.1 513.6,163.2 513.8,162.8 513.9,160.2 514.1,156.0 514.3,155.7 514.4,157.6 514.6,161.6 514.8,164.5 514.9,162.6 515.1,157.5 515.3,154.2 515.4,155.6 515.6,162.9 515.8,165.2 515.9,161.7 516.1,155.7 516.3,154.4 516.4,161.0 516.6,165.9 516.8,162.1 516.9,154.9 517.1,154.6 517.3,156.6 517.4,161.6 517.6,164.3 517.8,163.2 517.9,157.6 518.1,155.8 518.3,156.8 518.4,159.8 518.6,163.7 518.8,163.3 518.9,157.0 519.1,154.6 519.3,158.5 519.4,164.6 519.6,163.7 519.8,158.1 519.9,155.1 520.1,154.9 520.3,157.7 520.4,161.9 520.6,164.8 520.8,163.4 520.9,159.9 521.1,154.6 521.3,155.7 521.4,159.4 521.6,164.8 521.8,162.7 521.9,158.0 522.1,155.1 522.3,155.7 522.4,161.6 522.6,165.2 522.8,163.6 522.9,160.5 523.1,156.0 523.3,155.3 523.4,158.1 523.6,164.8 523.8,163.0 523.9,158.5 524.1,156.2 524.3,156.4 524.4,161.5 524.6,164.0 524.8,163.7 524.9,161.9 525.1,156.6 525.3,156.2 525.4,161.2 525.6,164.8 525.8,162.5 525.9,156.4 526.1,154.8 526.3,159.4 526.4,163.7 526.6,165.8 526.8,164.6 526.9,159.3 527.1,154.2 527.3,156.3 527.4,160.9 527.6,165.6 527.8,162.4 527.9,156.1 528.1,155.0 528.3,160.7 528.4,164.3 528.6,163.2 528.8,159.4 528.9,156.4 529.1,156.1 529.3,160.1 529.4,162.8 529.6,163.4 529.8,161.0 529.9,156.8 530.1,156.2 530.3,162.1 530.4,164.3 530.6,160.6 530.8,155.2 530.9,150.8 531.1,160.6 531.3,165.3 531.4,163.5 531.6,155.8 531.8,154.1 531.9,158.0 532.1,163.7 532.3,165.2 532.4,159.6 532.6,150.7 532.8,156.2 532.9,162.4 533.1,164.3 533.3,164.2 533.4,158.2 533.6,155.7 533.8,156.7 533.9,159.7 534.1,163.9 534.3,162.3 534.4,156.4 534.6,152.8 534.8,157.6 534.9,161.9 535.1,164.2 535.3,162.3 535.4,158.6 535.6,155.5 535.8,154.2 535.9,159.0 536.1,162.6 536.3,165.3 536.4,163.7 536.6,157.3 536.8,155.1 536.9,155.7 537.1,160.3 537.3,163.4 537.4,163.0 537.6,158.8 537.8,156.0 537.9,153.4 538.1,161.5 538.3,164.4 538.4,161.5 538.6,156.7 538.8,154.6 538.9,157.7 539.1,164.0 539.3,164.5 539.4,160.6 539.6,156.0 539.8,156.3 539.9,160.0 540.1,163.0 540.3,163.3 540.4,158.5 540.6,155.6 540.8,156.4 540.9,160.9 541.1,163.4 541.3,161.5 541.4,158.8 541.6,154.8 541.8,156.4 541.9,163.5 542.1,165.7 542.3,164.7 542.4,159.6 542.6,152.8 542.8,155.1 542.9,164.3 543.1,166.0 543.3,162.2 543.4,157.4 543.6,153.5 543.8,152.3 543.9,158.0 544.1,165.0 544.3,163.4 544.4,157.1 544.6,153.3 544.8,156.9 544.9,162.7 545.1,163.5 545.3,160.7 545.4,154.6 545.6,153.2 545.8,155.7 545.9,160.8 546.1,166.2 546.3,166.1 546.4,162.2 546.6,154.8 546.8,151.4 546.9,157.3 547.1,161.7 547.3,166.7 547.4,165.1 547.6,158.5 547.8,154.6 547.9,154.2 548.1,160.2 548.3,165.5 548.4,164.7 548.6,159.2 548.8,155.3 548.9,154.0 549.1,159.9 549.3,168.6 549.4,163.3 549.6,160.1 549.8,154.0 549.9,155.1 550.1,158.2 550.3,165.3 550.4,164.7 550.6,160.3 550.8,155.6 550.9,152.7 551.1,158.0 551.3,166.9 551.4,167.6 551.6,162.3 551.8,156.9 551.9,151.2 552.1,152.3 552.3,161.8 552.4,168.2 552.6,167.7 552.8,159.7 552.9,151.5 553.1,150.9 553.3,160.5 553.4,167.7 553.6,166.6 553.8,157.9 553.9,151.2 554.1,155.6 554.3,166.1 554.4,142.3 554.6,164.0 554.8,156.4 554.9,178.4 555.1,154.3 555.3,159.7 555.4,165.4 555.6,166.4 555.8,156.8 555.9,151.9 556.1,152.2 556.3,157.0 556.4,162.8 556.6,168.2 556.8,163.9 556.9,154.4 557.1,151.6 557.3,153.0 557.4,158.0 557.6,166.5 557.8,166.0 557.9,158.5 558.1,153.6 558.3,152.1 558.4,158.0 558.6,164.3 558.8,167.8 558.9,159.9 559.1,153.1 559.3,149.4 559.4,161.0 559.6,169.0 559.8,159.9 559.9,154.1 560.1,150.9 560.3,156.1 560.4,165.5 560.6,167.1 560.8,159.2 560.9,152.3 561.1,154.3 561.3,160.9 561.4,166.8 561.6,166.7 561.8,160.2 561.9,151.4 562.1,152.1 562.3,159.2 562.4,166.9 562.6,168.0 562.8,157.7 562.9,172.3 563.1,154.3 563.3,159.9 563.4,167.6 563.6,167.5 563.8,159.6 563.9,152.5 564.1,152.7 564.3,158.5 564.4,163.1 564.6,165.6 564.8,157.9 564.9,153.0 565.1,157.8 565.3,162.8 565.4,166.1 565.6,161.7 565.8,155.2 565.9,152.8 566.1,155.1 566.3,159.6 566.4,165.8 566.6,166.3 566.8,157.8 566.9,150.0 567.1,155.5 567.3,167.4 567.4,169.4 567.6,162.0 567.8,152.2 567.9,149.8 568.1,151.3 568.3,157.2 568.5,166.7 568.6,168.1 568.8,164.6 569.0,145.4 569.1,153.1 569.3,161.2 569.5,166.9 569.6,160.6 569.8,152.6 570.0,173.3 570.1,168.5 570.3,167.7 570.5,162.3 570.6,155.3 570.8,151.2 571.0,155.2 571.1,166.0 571.3,167.4 571.5,168.4 571.6,159.0 571.8,152.4 572.0,154.3 572.1,158.6 572.3,166.0 572.5,164.9 572.6,158.0 572.8,152.7 573.0,157.9 573.1,163.4 573.3,167.0 573.5,164.0 573.6,156.1 573.8,151.9 574.0,152.9 574.1,158.4 574.3,165.4 574.5,166.5 574.6,160.8 574.8,154.2 575.0,154.8 575.1,163.2 575.3,170.6 575.5,163.6 575.6,154.7 575.8,153.4 576.0,159.7 576.1,167.3 576.3,164.2 576.5,155.9 576.6,152.1 576.8,155.2 577.0,163.7 577.1,166.2 577.3,159.7 577.5,154.6 577.6,153.6 577.8,155.8 578.0,161.6 578.1,166.2 578.3,162.9 578.5,154.3 578.6,150.6 578.8,153.2 579.0,163.0 579.1,170.6 579.3,161.6 579.5,151.7 579.6,151.0 579.8,157.4 580.0,164.7 580.1,166.9 580.3,162.9 580.5,154.8 580.6,153.8 580.8,161.9 581.0,165.1 581.1,165.4 581.3,161.3 581.5,156.2 581.6,154.0 581.8,157.0 582.0,161.6 582.1,164.9 582.3,166.4 582.5,160.7 582.6,155.4 582.8,151.7 583.0,153.7 583.1,162.5 583.3,166.5 583.5,162.5 583.6,157.7 583.8,152.8 584.0,159.4 584.1,165.4 584.3,166.8 584.5,163.4 584.6,158.0 584.8,152.7 585.0,152.7 585.1,158.8 585.3,167.7 585.5,165.8 585.6,160.5 585.8,153.2 586.0,154.5 586.1,160.6 586.3,166.3 586.5,165.6 586.6,158.1 586.8,154.2 587.0,153.5 587.1,161.9 587.3,166.4 587.5,161.1 587.6,152.7 587.8,154.0 588.0,159.4 588.1,166.7 588.3,167.7 588.5,161.9 588.6,145.9 588.8,153.2 589.0,166.0 589.1,168.0 589.3,158.1 589.5,148.8 589.6,153.5 589.8,167.7 590.0,170.2 590.1,158.9 590.3,151.3 590.5,152.6 590.6,159.3 590.8,164.5 591.0,163.4 591.1,157.1 591.3,152.4 591.5,154.8 591.6,161.0 591.8,166.0 592.0,167.9 592.1,161.9 592.3,156.1 592.5,151.0 592.6,159.1 592.8,167.2 593.0,166.0 593.1,161.4 593.3,154.1 593.5,151.6 593.6,155.9 593.8,163.3 594.0,167.2 594.1,167.9 594.3,160.9 594.5,151.5 594.6,154.2 594.8,161.0 595.0,167.6 595.1,164.6 595.3,158.5 595.5,154.9 595.6,150.2 595.8,162.2 596.0,165.7 596.1,162.4 596.3,154.2 596.5,153.6 596.6,160.5 596.8,168.7 597.0,163.7 597.1,157.8 597.3,153.3 597.5,155.5 597.6,158.8 597.8,165.3 598.0,165.9 598.1,159.4 598.3,151.8 598.5,156.6 598.6,166.5 598.8,165.1 599.0,158.6 599.1,149.6 599.3,153.4 599.5,157.3 599.6,165.7 599.8,165.4 600.0,161.1 600.1,156.6 600.3,148.6 600.5,160.6 600.6,165.8 600.8,169.9 601.0,162.4 601.1,153.2 601.3,152.9 601.5,160.7 601.6,165.8 601.8,165.7 602.0,155.7 602.1,153.7 602.3,157.3 602.5,162.1 602.6,166.1 602.8,162.2 603.0,155.2 603.1,154.4 603.3,159.8 603.5,166.0 603.6,166.3 603.8,157.1 604.0,152.9 604.1,152.8 604.3,159.2 604.5,168.1 604.6,163.6 604.8,156.1 605.0,151.8 605.1,157.4 605.3,171.0 605.5,168.1 605.6,161.9 605.8,152.9 606.0,155.0 606.1,163.0 606.3,165.8 606.5,161.3 606.6,154.8 606.8,155.4 607.0,161.6 607.1,164.9 607.3,165.6 607.5,163.4 607.6,160.3 607.8,156.8 608.0,154.0 608.1,156.1 608.3,163.9 608.5,165.7 608.6,162.1 608.8,157.6 609.0,153.6 609.1,157.9 609.3,164.3 609.5,166.1 609.6,160.9 609.8,154.7 610.0,154.5 610.1,157.8 610.3,162.3 610.5,166.4 610.6,164.8 610.8,157.9 611.0,152.3 611.1,159.7 611.3,166.7 611.5,166.3 611.6,161.8 611.8,153.6 612.0,156.3 612.1,160.8 612.3,165.1 612.5,167.0 612.6,164.2 612.8,156.1 613.0,153.6 613.1,157.9 613.3,167.1 613.5,165.4 613.6,162.4 613.8,154.6 614.0,155.0 614.1,160.4 614.3,164.9 614.5,164.3 614.6,157.6 614.8,153.9 615.0,159.0 615.1,165.6 615.3,165.6 615.5,160.8 615.6,153.0 615.8,152.7 616.0,157.3 616.1,164.8 616.3,168.5 616.5,160.6 616.6,153.2 616.8,152.5 617.0,159.0 617.1,166.7 617.3,165.7 617.5,156.2 617.6,152.8 617.8,155.2 618.0,163.1 618.1,167.5 618.3,165.0 618.5,154.8 618.6,155.0 618.8,161.0 619.0,164.3 619.1,161.9 619.3,155.9 619.5,155.8 619.6,159.2 619.8,163.8 620.0,164.9 620.1,162.2 620.3,156.7 620.5,94.1 620.6,158.2 620.8,165.1 621.0,190.3 621.1,161.8 621.3,157.4 621.5,154.6 621.6,156.6 621.8,161.7 622.0,164.7 622.1,163.9 622.3,156.6 622.5,154.2 622.6,155.9 622.8,163.6 623.0,165.9 623.1,161.5 623.3,156.7 623.5,152.5 623.6,159.2 623.8,165.0 624.0,164.5 624.1,156.9 624.3,152.8 624.5,157.1 624.6,163.0 624.8,168.5 625.0,158.4 625.1,151.2 625.3,149.7 625.5,162.5 625.6,171.6 625.8,170.1 626.0,160.7 626.1,148.2 626.3,145.8 626.5,157.7 626.6,173.1 626.8,176.2 627.0,169.5 627.1,154.6 627.3,143.1 627.5,149.9 627.6,172.9 627.8,173.3 628.0,149.4 628.1,140.8 628.3,152.7 628.5,172.2 628.6,177.1 628.8,169.9 629.0,157.7 629.1,141.2 629.3,152.6 629.5,167.5 629.6,174.5 629.8,169.9 630.0,149.2 630.1,143.3 630.3,149.9 630.5,163.0 630.6,174.2 630.8,174.2 631.0,138.7 631.1,145.4 631.3,144.3 631.5,178.9 631.6,171.0 631.8,171.9 632.0,156.6 632.1,146.5 632.3,146.1 632.5,168.8 632.6,175.5 632.8,168.1 633.0,147.7 633.1,135.8 633.3,152.9 633.5,169.0 633.6,181.5 633.8,162.2 634.0,150.0 634.1,139.8 634.3,153.7 634.5,176.4 634.6,178.3 634.8,167.2 635.0,154.2 635.1,144.0 635.3,152.1 635.5,164.4 635.6,175.3 635.8,167.9 636.0,149.0 636.1,148.1 636.3,155.9 636.5,165.9 636.6,175.3 636.8,171.0 637.0,152.8 637.1,142.8 637.3,147.2 637.5,159.9 637.6,177.9 637.8,167.6 638.0,145.5 638.1,143.9 638.3,152.9 638.5,173.0 638.6,172.1 638.8,157.6 639.0,149.7 639.1,152.9 639.3,160.1 639.5,168.9 639.6,170.4 639.8,158.7 640.0,152.9 640.1,151.2 640.3,155.4 640.5,161.2 640.6,171.2 640.8,161.5 641.0,154.0 641.1,153.2 641.3,156.7 641.5,161.6 641.6,165.6 641.8,163.6 642.0,156.2 642.1,154.1 642.3,158.7 642.5,164.9 642.6,165.4 642.8,163.8 643.0,160.4 643.1,154.4 643.3,151.2 643.5,158.7 643.6,164.3 643.8,165.7 644.0,159.0 644.1,155.0 644.3,158.1 644.5,163.4 644.6,164.2 644.8,159.9 645.0,156.0 645.1,153.4 645.3,159.9 645.5,162.9 645.6,164.2 645.8,160.4 646.0,155.2 646.1,154.0 646.3,161.1 646.5,168.0 646.6,166.1 646.8,156.5 647.0,152.7 647.1,154.9 647.3,162.6 647.5,166.9 647.6,163.0 647.8,154.0 648.0,155.1 648.1,162.6 648.3,166.5 648.5,159.9 648.6,154.6 648.8,154.1 649.0,161.0 649.1,165.7 649.3,161.9 649.5,154.9 649.6,153.1 649.8,159.8 650.0,165.7 650.1,166.4 650.3,162.1 650.5,154.8 650.6,151.9 650.8,154.7 651.0,160.2 651.1,167.8 651.3,161.6 651.5,156.1 651.6,152.4 651.8,157.1 652.0,162.3 652.1,166.2 652.3,164.2 652.5,157.9 652.6,152.8 652.8,157.3 653.0,164.5 653.1,167.2 653.3,161.4 653.5,156.5 653.6,154.2 653.8,158.5 654.0,164.3 654.1,164.2 654.3,161.9 654.5,155.7 654.6,155.6 654.8,159.0 655.0,164.3 655.1,164.4 655.3,159.0 655.5,154.6 655.6,150.6 655.8,161.5 656.0,165.8 656.1,165.7 656.3,158.0 656.5,154.0 656.6,153.6 656.8,162.8 657.0,167.0 657.1,164.7 657.3,156.5 657.5,152.3 657.6,154.5 657.8,163.5 658.0,170.5 658.1,163.5 658.3,155.7 658.5,151.9 658.6,156.9 658.8,166.7 659.0,169.1 659.1,165.7 659.3,159.3 659.5,151.5 659.6,153.8 659.8,160.0 660.0,168.3 660.1,165.4 660.3,160.6 660.5,152.1 660.6,152.4 660.8,155.6 661.0,162.5 661.1,167.7 661.3,170.5 661.5,160.3 661.6,155.8 661.8,153.5 662.0,158.9 662.1,163.7 662.3,165.1 662.5,162.2 662.6,158.6 662.8,155.7 663.0,154.8 663.1,158.7 663.3,164.5 663.5,164.8 663.6,161.6 663.8,157.0 664.0,155.2 664.1,157.8 664.3,164.9 664.5,166.5 664.6,163.4 664.8,153.8 665.0,152.5 665.1,155.2 665.3,161.9 665.5,166.8 665.6,164.0 665.8,158.2 666.0,153.5 666.1,158.5 666.3,165.6 666.5,166.1 666.6,157.3 666.8,152.5 667.0,153.0 667.1,156.3 667.3,161.8 667.5,168.5 667.6,164.8 667.8,159.0 668.0,153.1 668.1,153.4 668.3,157.4 668.5,163.9 668.6,166.5 668.8,159.3 669.0,149.4 669.1,156.8 669.3,165.3 669.5,166.4 669.6,160.9 669.8,153.5 670.0,154.6 670.1,158.7 670.3,165.7 670.5,163.5 670.6,158.1 670.8,154.4 671.0,155.9 671.1,161.4 671.3,165.2 671.5,164.4 671.6,157.6 671.8,150.9 672.0,156.1 672.1,164.1 672.3,166.5 672.5,166.8 672.7,159.1 672.8,152.9 673.0,153.9 673.2,159.4 673.3,163.8 673.5,166.1 673.7,162.5 673.8,155.1 674.0,153.9 674.2,157.4 674.3,168.6 674.5,165.5 674.7,161.2 674.8,156.4 675.0,152.5 675.2,154.2 675.3,160.8 675.5,166.7 675.7,165.3 675.8,155.5 676.0,152.4 676.2,156.0 676.3,165.4 676.5,167.1 676.7,160.4 676.8,156.0 677.0,152.5 677.2,153.8 677.3,162.2 677.5,166.5 677.7,160.4 677.8,155.2 678.0,153.4 678.2,158.9 678.3,164.0 678.5,166.9 678.7,160.9 678.8,154.5 679.0,152.6 679.2,155.2 679.3,160.9 679.5,167.3 679.7,164.6 679.8,156.1 680.0,152.6 680.2,155.9 680.3,164.6 680.5,166.3 680.7,161.6 680.8,154.5 681.0,154.6 681.2,158.6 681.3,166.0 681.5,168.2 681.7,166.2 681.8,161.8 682.0,152.9 682.2,153.1 682.3,160.7 682.5,167.3 682.7,169.9 682.8,161.5 683.0,149.4 683.2,149.0 683.3,153.7 683.5,163.6 683.7,170.9 683.8,168.2 684.0,153.6 684.2,147.7 684.3,162.7 684.5,170.3 684.7,170.3 684.8,158.3 685.0,145.6 685.2,149.8 685.3,160.7 685.5,169.3 685.7,175.1 685.8,163.7 686.0,149.3 686.2,138.7 686.3,144.9 686.5,177.1 686.7,181.3 686.8,148.9 687.0,129.0 687.2,145.5 687.3,178.6 687.5,184.0 687.7,162.1 687.8,148.7 688.0,139.4 688.2,142.2 688.3,156.8 688.5,175.4 688.7,175.6 688.8,159.9 689.0,144.3 689.2,137.2 689.3,148.4 689.5,165.4 689.7,185.2 689.8,163.8 690.0,137.2 690.2,144.4 690.3,174.0 690.5,179.8 690.7,166.2 690.8,140.1 691.0,144.9 691.2,172.9 691.3,177.8 691.5,158.9 691.7,140.3 691.8,141.6 692.0,156.8 692.2,86.5 692.3,179.3 692.5,163.3 692.7,198.2 692.8,143.1 693.0,155.9 693.2,176.3 693.3,177.8 693.5,162.0 693.7,140.3 693.8,148.6 694.0,175.2 694.2,181.7 694.3,167.9 694.5,149.8 694.7,137.4 694.8,142.0 695.0,164.4 695.2,186.5 695.3,179.6 695.5,156.7 695.7,133.9 695.8,148.8 696.0,170.6 696.2,184.1 696.3,178.8 696.5,157.6 696.7,134.4 696.8,147.2 697.0,177.4 697.2,184.3 697.3,155.1 697.5,135.5 697.7,141.1 697.8,166.1 698.0,181.4 698.2,179.5 698.3,159.4 698.5,146.2 698.7,143.8 698.8,158.6 699.0,169.7 699.2,176.8 699.3,166.8 699.5,151.5 699.7,140.7 699.8,163.8 700.0,176.3 700.2,175.7 700.3,157.8 700.5,137.8 700.7,152.8 700.8,174.3 701.0,182.1 701.2,163.2 701.3,137.9 701.5,144.3 701.7,166.1 701.8,180.1 702.0,178.1 702.2,160.4 702.3,131.8 702.5,138.5 702.7,163.4 702.8,67.5 703.0,176.7 703.2,157.8 703.3,223.0 703.5,141.7 703.7,154.5 703.8,167.1 704.0,174.8 704.2,164.1 704.3,141.3 704.5,140.7 704.7,148.6 704.8,172.7 705.0,178.3 705.2,166.2 705.3,140.8 705.5,137.1 705.7,103.0 705.8,176.7 706.0,176.6 706.2,152.6 706.3,139.9 706.5,147.0 706.7,174.4 706.8,175.1 707.0,156.1 707.2,136.4 707.3,142.1 707.5,166.1 707.7,183.1 707.8,179.2 708.0,147.9 708.2,138.5 708.3,143.1 708.5,155.5 708.7,170.7 708.8,197.0 709.0,155.3 709.2,142.5 709.3,145.7 709.5,158.0 709.7,175.3 709.8,168.6 710.0,157.1 710.2,142.9 710.3,138.2 710.5,147.7 710.7,176.2 710.8,175.5 711.0,157.4 711.2,141.5 711.3,148.2 711.5,163.8 711.7,176.4 711.8,178.4 712.0,169.9 712.2,157.4 712.3,143.4 712.5,149.5 712.7,162.9 712.8,172.8 713.0,162.1 713.2,152.2 713.3,148.0 713.5,154.9 713.7,163.8 713.8,170.2 714.0,165.9 714.2,156.7 714.3,149.6 714.5,150.8 714.7,159.5 714.8,169.7 715.0,164.1 715.2,152.1 715.3,151.5 715.5,158.5 715.7,167.3 715.8,165.0 716.0,156.3 716.2,152.0 716.3,154.8 716.5,162.9 716.7,166.6 716.8,160.8 717.0,153.6 717.2,155.2 717.3,162.2 717.5,168.6 717.7,163.5 717.8,156.5 718.0,151.7 718.2,154.7 718.3,160.8 718.5,166.5 718.7,168.7 718.8,160.6 719.0,152.4 719.2,153.5 719.3,158.0 719.5,166.8 719.7,166.0 719.8,161.0 720.0,154.3 720.2,153.2 720.3,161.2 720.5,168.4 720.7,163.9 720.8,153.9 721.0,153.0 721.2,160.9 721.3,168.7 721.5,167.1 721.7,158.0 721.8,149.8 722.0,157.8 722.2,167.9 722.3,169.2 722.5,159.5 722.7,153.1 722.8,153.5 723.0,181.0 723.2,169.0 723.3,163.6 723.5,153.4 723.7,153.0 723.8,162.8 724.0,171.1 724.2,168.9 724.3,159.7 724.5,151.0" fill="none" stroke="#0000ff" stroke-width="1.7" stroke-linejoin="round" stroke-linecap="round"/>
</g>
<g clip-path="url(#cl2)">
<polyline points="203.5,396.1 203.7,396.6 203.8,391.9 204.0,386.3 204.2,385.6 204.3,388.9 204.5,395.3 204.7,396.2 204.8,393.5 205.0,389.8 205.2,385.4 205.3,386.4 205.5,393.4 205.7,397.4 205.8,393.8 206.0,387.7 206.2,384.4 206.3,387.0 206.5,393.2 206.7,398.2 206.8,401.5 207.0,391.9 207.2,384.6 207.3,384.5 207.5,389.5 207.7,396.9 207.8,396.6 208.0,389.5 208.2,384.7 208.3,386.0 208.5,390.3 208.7,395.7 208.8,397.3 209.0,391.2 209.2,382.8 209.3,384.3 209.5,392.5 209.7,397.7 209.8,396.5 210.0,386.8 210.2,384.3 210.3,387.5 210.5,393.7 210.7,396.3 210.8,391.9 211.0,386.3 211.2,386.7 211.3,389.7 211.5,393.1 211.7,396.8 211.8,392.7 212.0,385.3 212.2,384.2 212.3,394.5 212.5,397.4 212.7,391.8 212.8,387.1 213.0,385.0 213.2,388.9 213.3,394.8 213.5,397.3 213.7,394.9 213.8,390.8 214.0,383.8 214.2,385.0 214.3,392.9 214.5,398.8 214.7,400.4 214.8,396.7 215.0,389.0 215.2,381.8 215.3,390.0 215.5,397.9 215.7,396.9 215.8,387.4 216.0,382.0 216.2,387.7 216.3,396.6 216.5,399.0 216.7,395.0 216.8,384.4 217.0,384.0 217.2,395.9 217.3,398.4 217.5,398.5 217.7,394.0 217.8,386.5 218.0,383.4 218.2,386.5 218.3,391.7 218.5,398.0 218.7,396.0 218.8,387.0 219.0,383.7 219.2,388.9 219.3,395.1 219.5,397.8 219.7,392.3 219.8,386.7 220.0,383.2 220.2,386.6 220.3,391.8 220.5,396.1 220.7,398.5 220.8,394.9 221.0,389.4 221.2,384.1 221.3,385.9 221.5,393.7 221.7,398.2 221.8,394.2 222.0,385.7 222.2,383.7 222.3,391.0 222.5,395.2 222.7,397.6 222.8,391.6 223.0,385.6 223.2,385.0 223.3,386.6 223.5,395.3 223.7,397.0 223.8,391.3 224.0,386.1 224.2,385.6 224.3,388.7 224.5,396.9 224.7,395.9 224.8,386.6 225.0,385.0 225.2,390.4 225.3,395.1 225.5,397.1 225.7,391.5 225.8,384.5 226.0,382.6 226.2,388.3 226.3,394.9 226.5,398.6 226.7,390.9 226.8,386.6 227.0,385.1 227.2,387.9 227.3,395.4 227.5,395.9 227.7,390.4 227.8,380.4 228.0,389.3 228.2,397.0 228.3,398.9 228.5,394.9 228.7,385.8 228.8,384.4 229.0,390.7 229.2,396.6 229.3,399.4 229.5,388.7 229.7,385.3 229.8,387.7 230.0,391.4 230.2,395.0 230.3,396.5 230.5,390.3 230.7,385.4 230.8,386.4 231.0,391.3 231.2,399.4 231.3,397.2 231.5,390.7 231.7,384.3 231.8,383.9 232.0,389.3 232.2,396.6 232.3,398.5 232.5,395.9 232.7,390.9 232.8,386.7 233.0,386.9 233.2,390.2 233.3,395.8 233.5,395.6 233.7,387.8 233.8,384.8 234.0,386.1 234.2,394.9 234.3,398.8 234.5,397.7 234.7,389.5 234.8,383.6 235.0,386.4 235.2,393.9 235.3,396.8 235.5,396.1 235.7,387.3 235.8,385.3 236.0,391.9 236.2,397.0 236.3,395.5 236.5,387.7 236.7,385.1 236.8,386.4 237.0,394.3 237.2,396.8 237.3,394.0 237.5,388.9 237.7,385.1 237.8,387.7 238.0,391.4 238.2,395.3 238.3,395.0 238.5,390.0 238.7,386.0 238.8,385.4 239.0,387.7 239.2,395.8 239.3,396.2 239.5,390.0 239.7,384.3 239.8,387.5 240.0,394.1 240.2,397.3 240.3,397.3 240.5,391.3 240.7,384.7 240.8,385.5 241.0,392.3 241.2,396.2 241.3,396.3 241.5,389.8 241.7,384.9 241.8,388.3 242.0,396.6 242.2,397.3 242.3,389.5 242.5,383.8 242.7,384.6 242.8,392.9 243.0,398.1 243.2,393.0 243.3,387.8 243.5,382.3 243.7,392.6 243.8,396.5 244.0,398.9 244.2,389.4 244.3,385.8 244.5,385.6 244.7,388.7 244.8,396.1 245.0,400.2 245.2,388.3 245.3,382.8 245.5,385.0 245.7,395.6 245.8,398.8 246.0,399.3 246.2,391.1 246.3,382.3 246.5,384.9 246.7,396.7 246.8,398.1 247.0,390.7 247.2,384.5 247.3,384.3 247.5,393.0 247.7,398.8 247.8,395.7 248.0,386.4 248.2,384.4 248.3,388.2 248.5,394.1 248.7,396.7 248.8,396.0 249.0,388.2 249.2,384.1 249.3,388.2 249.5,396.7 249.7,398.4 249.8,393.9 250.0,385.2 250.2,383.8 250.3,388.6 250.5,394.0 250.7,398.7 250.8,395.9 251.0,386.9 251.2,384.4 251.3,389.4 251.5,395.5 251.7,396.5 251.8,388.2 252.0,383.8 252.2,386.7 252.3,396.3 252.5,397.7 252.7,391.8 252.8,385.4 253.0,383.8 253.2,392.3 253.3,398.8 253.5,396.0 253.7,387.0 253.8,382.6 254.0,387.1 254.2,392.9 254.3,398.3 254.5,396.3 254.7,387.6 254.8,384.8 255.0,389.8 255.2,394.0 255.3,396.4 255.5,395.4 255.7,387.7 255.9,385.9 256.0,386.1 256.2,394.0 256.4,396.1 256.5,394.5 256.7,389.5 256.9,385.5 257.0,387.9 257.2,391.9 257.4,396.0 257.5,395.4 257.7,392.6 257.9,388.5 258.0,384.7 258.2,385.7 258.4,390.3 258.5,395.5 258.7,398.4 258.9,391.7 259.0,386.2 259.2,383.1 259.4,387.8 259.5,397.1 259.7,396.5 259.9,391.3 260.0,385.2 260.2,386.0 260.4,389.0 260.5,396.2 260.7,397.3 260.9,390.7 261.0,386.2 261.2,384.2 261.4,388.2 261.5,396.9 261.7,398.4 261.9,396.1 262.0,372.8 262.2,385.4 262.4,385.1 262.5,407.2 262.7,399.8 262.9,395.1 263.0,384.1 263.2,383.6 263.4,388.1 263.5,394.6 263.7,398.6 263.9,397.1 264.0,389.3 264.2,385.3 264.4,385.2 264.5,390.7 264.7,397.5 264.9,395.5 265.0,386.3 265.2,383.6 265.4,389.3 265.5,399.5 265.7,398.1 265.9,386.2 266.0,382.5 266.2,389.4 266.4,398.4 266.5,398.9 266.7,394.7 266.9,383.8 267.0,381.9 267.2,392.3 267.4,397.7 267.5,399.7 267.7,394.0 267.9,383.7 268.0,383.5 268.2,389.9 268.4,396.6 268.5,398.6 268.7,389.2 268.9,382.5 269.0,386.7 269.2,391.9 269.4,397.0 269.5,398.9 269.7,391.1 269.9,381.9 270.0,386.9 270.2,398.7 270.4,396.7 270.5,384.6 270.7,382.8 270.9,389.3 271.0,398.7 271.2,399.2 271.4,388.3 271.5,381.9 271.7,382.7 271.9,391.8 272.0,398.1 272.2,398.3 272.4,392.4 272.5,384.5 272.7,382.1 272.9,384.8 273.0,393.5 273.2,399.3 273.4,398.1 273.5,394.4 273.7,383.6 273.9,384.0 274.0,387.9 274.2,393.5 274.4,398.2 274.5,373.7 274.7,390.6 274.9,384.9 275.0,405.3 275.2,395.3 275.4,398.6 275.5,395.5 275.7,387.7 275.9,384.1 276.0,384.9 276.2,394.6 276.4,398.7 276.5,394.4 276.7,388.1 276.9,384.2 277.0,387.4 277.2,391.5 277.4,395.0 277.5,396.7 277.7,392.9 277.9,386.9 278.0,386.4 278.2,390.7 278.4,395.1 278.5,394.4 278.7,390.2 278.9,385.9 279.0,386.3 279.2,392.6 279.4,395.3 279.5,394.9 279.7,390.1 279.9,385.0 280.0,388.5 280.2,393.1 280.4,396.5 280.5,397.0 280.7,392.7 280.9,386.1 281.0,384.6 281.2,386.9 281.4,393.3 281.5,398.0 281.7,396.0 281.9,389.6 282.0,383.7 282.2,386.4 282.4,395.7 282.5,397.5 282.7,393.2 282.9,385.2 283.0,384.9 283.2,392.3 283.4,399.9 283.5,393.8 283.7,388.0 283.9,385.8 284.0,387.6 284.2,390.5 284.4,396.0 284.5,393.8 284.7,390.2 284.9,386.0 285.0,387.8 285.2,393.7 285.4,396.1 285.5,393.6 285.7,387.1 285.9,385.3 286.0,390.0 286.2,395.7 286.4,395.8 286.5,391.3 286.7,384.2 286.9,385.4 287.0,393.8 287.2,397.4 287.4,391.0 287.5,384.6 287.7,385.0 287.9,387.7 288.0,395.3 288.2,396.7 288.4,389.3 288.5,384.6 288.7,390.0 288.9,395.5 289.0,397.3 289.2,396.1 289.4,386.9 289.5,383.9 289.7,387.6 289.9,395.7 290.0,398.2 290.2,391.3 290.4,385.7 290.5,383.4 290.7,394.3 290.9,398.2 291.0,395.6 291.2,385.3 291.4,383.4 291.5,393.6 291.7,399.9 291.9,395.2 292.0,385.3 292.2,382.9 292.4,384.8 292.5,392.8 292.7,396.6 292.9,397.3 293.0,388.2 293.2,383.2 293.4,385.2 293.5,390.0 293.7,399.0 293.9,398.2 294.0,394.1 294.2,387.1 294.4,383.6 294.5,387.8 294.7,392.4 294.9,396.8 295.0,397.0 295.2,389.3 295.4,386.0 295.5,386.3 295.7,392.5 295.9,395.6 296.0,396.2 296.2,390.1 296.4,385.2 296.5,389.3 296.7,395.6 296.9,394.7 297.0,391.5 297.2,387.5 297.4,385.2 297.5,388.8 297.7,394.6 297.9,398.0 298.0,393.7 298.2,387.2 298.4,384.1 298.5,386.6 298.7,395.5 298.9,399.2 299.0,396.8 299.2,388.0 299.4,384.0 299.5,385.8 299.7,393.4 299.9,398.8 300.0,394.2 300.2,384.9 300.4,383.6 300.5,390.1 300.7,398.7 300.9,397.6 301.0,391.8 301.2,385.6 301.4,382.8 301.5,388.6 301.7,395.7 301.9,398.2 302.0,394.1 302.2,387.1 302.4,383.8 302.5,388.1 302.7,393.4 302.9,399.4 303.0,392.3 303.2,383.6 303.4,383.6 303.5,388.2 303.7,397.9 303.9,396.5 304.0,389.0 304.2,383.8 304.4,383.2 304.5,392.5 304.7,397.3 304.9,399.1 305.0,395.3 305.2,386.8 305.4,385.1 305.5,390.9 305.7,396.1 305.9,392.9 306.0,387.6 306.2,385.5 306.4,390.2 306.5,393.5 306.7,396.4 306.9,393.1 307.0,388.7 307.2,385.8 307.4,386.4 307.5,392.7 307.7,397.3 307.9,396.3 308.0,392.2 308.2,385.3 308.4,384.8 308.5,387.4 308.7,395.9 308.9,398.2 309.0,393.3 309.2,385.8 309.4,383.1 309.5,389.3 309.7,394.6 309.9,398.2 310.0,397.5 310.2,389.8 310.4,383.8 310.5,387.5 310.7,394.3 310.9,397.0 311.0,393.3 311.2,386.5 311.4,385.7 311.5,389.8 311.7,397.5 311.9,397.4 312.0,390.0 312.2,384.3 312.4,386.2 312.5,396.2 312.7,399.2 312.9,395.3 313.0,389.4 313.2,384.2 313.4,386.7 313.5,395.3 313.7,397.4 313.9,391.5 314.0,385.2 314.2,384.5 314.4,389.1 314.5,396.5 314.7,395.6 314.9,389.4 315.0,385.2 315.2,384.9 315.4,390.6 315.5,397.5 315.7,397.7 315.9,395.2 316.0,387.9 316.2,383.6 316.4,389.3 316.5,395.5 316.7,398.0 316.9,390.4 317.0,382.8 317.2,388.5 317.4,396.8 317.5,398.0 317.7,390.9 317.9,383.0 318.0,385.0 318.2,389.5 318.4,394.4 318.5,396.6 318.7,391.0 318.9,387.0 319.0,385.7 319.2,387.5 319.4,393.3 319.5,397.9 319.7,392.2 319.9,384.0 320.0,384.4 320.2,389.0 320.4,398.5 320.5,397.5 320.7,389.9 320.9,381.2 321.0,388.9 321.2,398.5 321.4,400.8 321.5,399.1 321.7,390.0 321.9,382.7 322.0,385.0 322.2,395.1 322.4,400.6 322.5,392.4 322.7,385.8 322.9,382.6 323.0,386.5 323.2,395.0 323.4,401.7 323.5,396.6 323.7,388.7 323.9,381.2 324.0,383.5 324.2,392.2 324.4,402.3 324.5,397.8 324.7,384.5 324.9,381.8 325.0,392.1 325.2,400.3 325.4,401.6 325.5,393.4 325.7,382.0 325.9,380.8 326.0,388.5 326.2,396.1 326.4,401.5 326.5,390.5 326.7,380.0 326.9,385.5 327.0,400.1 327.2,403.2 327.4,388.4 327.5,376.9 327.7,379.2 327.9,390.3 328.0,405.2 328.2,405.9 328.4,393.2 328.5,380.0 328.7,376.9 328.9,387.1 329.0,398.8 329.2,404.3 329.4,395.9 329.5,384.8 329.7,377.1 329.9,378.8 330.0,417.5 330.2,401.8 330.4,407.9 330.5,399.8 330.7,379.7 330.9,373.3 331.0,387.2 331.2,404.5 331.4,407.3 331.5,388.9 331.7,378.7 331.9,374.6 332.0,380.0 332.2,401.0 332.4,407.6 332.5,392.3 332.7,373.9 332.9,384.5 333.0,407.6 333.2,404.1 333.4,379.8 333.5,371.6 333.7,393.4 333.9,407.7 334.0,408.6 334.2,389.2 334.4,366.6 334.5,380.2 334.7,399.5 334.9,412.7 335.0,403.7 335.2,390.7 335.4,371.3 335.5,371.9 335.7,385.1 335.9,405.3 336.0,408.5 336.2,393.9 336.4,372.8 336.5,371.4 336.7,378.9 336.9,397.0 337.0,407.7 337.2,399.6 337.4,388.0 337.5,376.0 337.7,369.7 337.9,382.6 338.0,403.6 338.2,408.6 338.4,391.2 338.5,367.8 338.7,377.7 338.9,407.0 339.0,415.6 339.2,395.3 339.4,366.9 339.5,372.4 339.7,397.4 339.9,417.9 340.0,364.4 340.2,371.9 340.4,372.8 340.5,392.6 340.7,413.9 340.9,406.5 341.0,393.8 341.2,373.6 341.4,371.5 341.5,380.5 341.7,397.1 341.9,411.6 342.0,402.5 342.2,381.0 342.4,367.8 342.5,379.1 342.7,405.1 342.9,409.0 343.0,394.9 343.2,384.0 343.4,376.1 343.5,377.1 343.7,384.8 343.9,398.8 344.0,406.3 344.2,404.6 344.4,382.9 344.5,369.9 344.7,390.6 344.9,412.5 345.0,364.4 345.2,390.8 345.4,371.6 345.5,370.7 345.7,387.8 345.9,407.4 346.0,411.1 346.2,391.8 346.4,370.5 346.5,368.8 346.7,391.2 346.9,409.0 347.0,410.9 347.2,394.0 347.4,370.6 347.5,374.3 347.7,394.5 347.9,405.9 348.0,411.6 348.2,387.1 348.4,376.4 348.5,376.4 348.7,391.1 348.9,407.2 349.0,397.6 349.2,378.2 349.4,376.4 349.5,392.8 349.7,404.4 349.9,402.2 350.0,384.6 350.2,377.0 350.4,382.5 350.5,390.8 350.7,401.2 350.9,406.9 351.0,402.7 351.2,385.5 351.4,371.0 351.5,379.5 351.7,404.6 351.9,408.4 352.0,393.3 352.2,375.1 352.4,374.6 352.5,384.3 352.7,399.3 352.9,408.6 353.0,395.4 353.2,383.9 353.4,375.1 353.5,380.1 353.7,396.1 353.9,402.1 354.0,392.9 354.2,381.9 354.4,380.5 354.5,386.0 354.7,393.2 354.9,400.5 355.0,395.9 355.2,385.8 355.4,381.1 355.5,386.6 355.7,394.0 355.9,400.1 356.0,396.2 356.2,387.7 356.4,381.7 356.5,380.3 356.7,392.9 356.9,400.3 357.0,400.8 357.2,385.7 357.4,381.1 357.5,386.7 357.7,398.8 357.9,400.0 358.0,392.8 358.2,381.7 358.4,377.2 358.5,385.6 358.7,396.6 358.9,402.6 359.0,396.1 359.2,386.9 359.4,378.9 359.5,382.1 359.7,392.1 359.9,402.8 360.1,397.0 360.2,389.1 360.4,381.0 360.6,385.1 360.7,392.7 360.9,398.8 361.1,396.6 361.2,389.5 361.4,382.5 361.6,389.1 361.7,395.3 361.9,401.9 362.1,390.9 362.2,383.2 362.4,382.9 362.6,393.9 362.7,400.1 362.9,396.7 363.1,385.1 363.2,382.6 363.4,389.5 363.6,398.7 363.7,399.1 363.9,395.0 364.1,387.1 364.2,383.7 364.4,388.6 364.6,394.1 364.7,398.1 364.9,397.7 365.1,392.4 365.2,384.3 365.4,387.2 365.6,395.1 365.7,398.5 365.9,396.4 366.1,384.8 366.2,383.2 366.4,394.1 366.6,401.2 366.7,399.2 366.9,388.1 367.1,379.4 367.2,382.4 367.4,398.9 367.6,404.4 367.7,395.2 367.9,382.5 368.1,379.9 368.2,387.3 368.4,394.6 368.6,399.8 368.7,398.2 368.9,388.0 369.1,382.9 369.2,386.2 369.4,391.5 369.6,398.9 369.7,397.8 369.9,392.5 370.1,384.9 370.2,383.4 370.4,391.3 370.6,399.1 370.7,394.0 370.9,386.5 371.1,384.1 371.2,386.7 371.4,392.4 371.6,399.7 371.7,398.8 371.9,387.9 372.1,381.9 372.2,380.9 372.4,393.0 372.6,401.9 372.7,400.0 372.9,391.2 373.1,379.8 373.2,386.5 373.4,394.5 373.6,399.3 373.7,401.1 373.9,389.9 374.1,381.3 374.2,383.8 374.4,393.6 374.6,401.7 374.7,399.7 374.9,389.9 375.1,381.4 375.2,381.6 375.4,389.6 375.6,400.0 375.7,399.9 375.9,396.5 376.1,390.5 376.2,382.1 376.4,385.4 376.6,392.8 376.7,400.2 376.9,391.8 377.1,383.3 377.2,382.4 377.4,390.3 377.6,396.9 377.7,400.7 377.9,397.6 378.1,389.5 378.2,380.7 378.4,382.8 378.6,392.3 378.7,400.9 378.9,398.9 379.1,391.9 379.2,381.3 379.4,385.0 379.6,390.7 379.7,396.4 379.9,399.4 380.1,372.8 380.2,382.5 380.4,386.4 380.6,407.2 380.7,401.3 380.9,395.9 381.1,384.0 381.2,380.4 381.4,391.5 381.6,399.5 381.7,400.9 381.9,395.8 382.1,386.9 382.2,382.8 382.4,386.5 382.6,395.5 382.7,397.6 382.9,392.8 383.1,387.7 383.2,383.8 383.4,391.2 383.6,397.9 383.7,400.0 383.9,392.8 384.1,385.3 384.2,383.8 384.4,385.8 384.6,392.4 384.7,399.1 384.9,395.9 385.1,386.0 385.2,381.4 385.4,385.2 385.6,391.9 385.7,400.4 385.9,397.8 386.1,390.6 386.2,381.0 386.4,386.2 386.6,398.1 386.7,399.5 386.9,392.3 387.1,386.6 387.2,383.5 387.4,387.2 387.6,396.1 387.7,399.0 387.9,392.5 388.1,384.0 388.2,384.9 388.4,394.1 388.6,400.3 388.7,393.2 388.9,375.9 389.1,387.0 389.2,398.3 389.4,400.8 389.6,391.2 389.7,379.7 389.9,385.7 390.1,398.3 390.2,401.6 390.4,389.6 390.6,378.7 390.7,384.5 390.9,394.9 391.1,403.0 391.2,399.7 391.4,390.6 391.6,380.1 391.7,387.7 391.9,397.4 392.1,402.5 392.2,392.6 392.4,383.7 392.6,381.6 392.7,388.8 392.9,399.1 393.1,399.3 393.2,390.8 393.4,379.9 393.6,383.4 393.7,392.7 393.9,399.2 394.1,402.0 394.2,390.1 394.4,380.8 394.6,381.3 394.7,393.4 394.9,401.4 395.1,398.4 395.2,386.7 395.4,381.4 395.6,382.3 395.7,390.8 395.9,396.9 396.1,400.3 396.2,389.1 396.4,381.9 396.6,386.3 396.7,393.2 396.9,399.1 397.1,393.0 397.2,383.9 397.4,383.5 397.6,391.9 397.7,399.2 397.9,394.7 398.1,386.5 398.2,381.8 398.4,391.8 398.6,398.4 398.7,400.6 398.9,392.6 399.1,383.8 399.2,379.5 399.4,384.5 399.6,394.6 399.7,402.4 399.9,401.4 400.1,393.2 400.2,384.0 400.4,382.6 400.6,387.3 400.7,395.6 400.9,397.9 401.1,392.2 401.2,387.2 401.4,383.2 401.6,385.7 401.7,395.7 401.9,400.9 402.1,395.7 402.2,386.8 402.4,380.9 402.6,384.3 402.7,396.0 402.9,403.9 403.1,397.5 403.2,386.9 403.4,382.6 403.6,385.3 403.7,391.3 403.9,399.7 404.1,394.5 404.2,385.3 404.4,384.5 404.6,394.3 404.7,398.7 404.9,391.0 405.1,382.8 405.2,387.8 405.4,397.2 405.6,397.3 405.7,393.8 405.9,388.4 406.1,383.9 406.2,384.4 406.4,387.7 406.6,395.4 406.7,399.1 406.9,399.3 407.1,388.0 407.2,381.8 407.4,388.4 407.6,400.4 407.7,399.1 407.9,391.9 408.1,383.1 408.2,383.6 408.4,395.5 408.6,400.7 408.7,394.3 408.9,383.0 409.1,381.1 409.2,387.5 409.4,399.6 409.6,399.5 409.7,388.0 409.9,381.9 410.1,382.9 410.2,390.1 410.4,397.3 410.6,398.2 410.7,392.8 410.9,383.9 411.1,383.8 411.2,393.9 411.4,401.8 411.6,396.1 411.7,389.7 411.9,380.5 412.1,385.7 412.2,393.2 412.4,400.4 412.6,396.5 412.7,385.2 412.9,382.1 413.1,385.3 413.2,395.3 413.4,403.8 413.6,394.8 413.7,386.3 413.9,381.4 414.1,382.4 414.2,392.5 414.4,401.7 414.6,394.4 414.7,383.1 414.9,379.4 415.1,387.6 415.2,397.9 415.4,401.7 415.6,395.5 415.7,384.3 415.9,380.2 416.1,390.5 416.2,407.1 416.4,399.8 416.6,386.9 416.7,376.6 416.9,382.7 417.1,396.6 417.2,401.0 417.4,393.3 417.6,383.1 417.7,379.9 417.9,384.8 418.1,396.3 418.2,402.3 418.4,391.4 418.6,382.3 418.7,375.0 418.9,383.8 419.1,397.6 419.2,402.6 419.4,393.7 419.6,378.6 419.7,381.5 419.9,389.5 420.1,402.1 420.2,402.6 420.4,388.5 420.6,379.0 420.7,387.1 420.9,398.5 421.1,400.3 421.2,389.2 421.4,382.4 421.6,386.2 421.7,393.3 421.9,398.4 422.1,400.5 422.2,386.3 422.4,381.4 422.6,384.9 422.7,392.3 422.9,398.1 423.1,400.1 423.2,392.1 423.4,383.9 423.6,382.1 423.7,391.7 423.9,399.2 424.1,396.1 424.2,381.8 424.4,383.8 424.6,391.1 424.7,395.4 424.9,404.0 425.1,394.0 425.2,389.3 425.4,384.0 425.6,385.0 425.7,393.5 425.9,397.8 426.1,395.3 426.2,386.5 426.4,384.0 426.6,387.6 426.7,395.7 426.9,397.0 427.1,392.6 427.2,382.8 427.4,382.0 427.6,385.3 427.7,393.1 427.9,403.2 428.1,396.7 428.2,386.8 428.4,380.3 428.6,381.1 428.7,390.3 428.9,401.3 429.1,399.8 429.2,396.1 429.4,388.8 429.6,384.8 429.7,385.6 429.9,391.4 430.1,396.7 430.2,398.1 430.4,394.4 430.6,389.8 430.7,383.5 430.9,387.1 431.1,395.8 431.2,397.1 431.4,390.7 431.6,385.1 431.7,385.2 431.9,392.5 432.1,404.9 432.2,391.5 432.4,383.2 432.6,382.9 432.7,396.5 432.9,402.5 433.1,389.1 433.2,378.8 433.4,386.7 433.6,401.3 433.7,402.8 433.9,389.8 434.1,380.6 434.2,382.5 434.4,392.7 434.6,400.8 434.7,398.1 434.9,386.8 435.1,380.8 435.2,381.4 435.4,386.9 435.6,397.7 435.7,401.1 435.9,393.5 436.1,385.3 436.2,381.4 436.4,388.2 436.6,400.5 436.7,396.3 436.9,385.4 437.1,383.1 437.2,391.2 437.4,399.7 437.6,393.9 437.7,388.3 437.9,381.8 438.1,387.7 438.2,398.3 438.4,400.7 438.6,398.6 438.7,390.6 438.9,381.7 439.1,381.6 439.2,388.9 439.4,397.7 439.6,402.6 439.7,397.7 439.9,381.6 440.1,378.3 440.2,396.9 440.4,402.6 440.6,399.1 440.7,385.3 440.9,379.6 441.1,389.2 441.2,402.0 441.4,401.1 441.6,396.3 441.7,385.2 441.9,379.8 442.1,389.5 442.2,397.7 442.4,401.0 442.6,392.6 442.7,378.7 442.9,382.7 443.1,392.8 443.2,401.3 443.4,396.7 443.6,384.4 443.7,380.7 443.9,394.3 444.1,402.7 444.2,393.5 444.4,381.7 444.6,376.5 444.7,389.2 444.9,400.5 445.1,401.7 445.2,392.7 445.4,382.9 445.6,382.3 445.7,393.1 445.9,400.9 446.1,399.9 446.2,389.9 446.4,384.5 446.6,377.1 446.7,387.4 446.9,398.1 447.1,400.9 447.2,394.7 447.4,382.7 447.6,381.6 447.7,387.4 447.9,400.7 448.1,400.5 448.2,395.9 448.4,383.6 448.6,380.8 448.7,391.5 448.9,401.6 449.1,393.8 449.2,382.0 449.4,384.2 449.6,395.6 449.7,399.9 449.9,398.0 450.1,386.8 450.2,383.6 450.4,394.1 450.6,400.0 450.7,388.9 450.9,381.2 451.1,380.4 451.2,385.1 451.4,392.5 451.6,401.9 451.7,402.2 451.9,396.6 452.1,383.1 452.2,380.7 452.4,392.2 452.6,401.8 452.7,394.1 452.9,386.2 453.1,381.3 453.2,385.9 453.4,395.7 453.6,399.7 453.7,393.6 453.9,384.4 454.1,383.0 454.2,389.0 454.4,397.5 454.6,398.1 454.7,389.9 454.9,379.8 455.1,388.8 455.2,395.5 455.4,398.6 455.6,394.0 455.7,389.0 455.9,384.1 456.1,386.4 456.2,393.4 456.4,398.4 456.6,396.3 456.7,391.1 456.9,384.2 457.1,382.1 457.2,384.3 457.4,394.8 457.6,401.4 457.7,401.5 457.9,393.6 458.1,383.3 458.2,378.6 458.4,387.0 458.6,394.5 458.7,401.0 458.9,392.6 459.1,385.0 459.2,384.7 459.4,392.5 459.6,397.3 459.7,398.5 459.9,394.2 460.1,383.1 460.2,383.5 460.4,393.2 460.6,399.8 460.7,397.0 460.9,386.8 461.1,381.3 461.2,386.1 461.4,399.2 461.6,400.5 461.7,395.2 461.9,389.3 462.1,384.2 462.2,383.2 462.4,393.7 462.6,401.4 462.7,400.1 462.9,390.7 463.1,380.1 463.2,382.4 463.4,395.0 463.6,402.3 463.7,398.1 463.9,389.5 464.1,381.4 464.3,381.0 464.4,393.5 464.6,402.7 464.8,394.9 464.9,380.7 465.1,383.5 465.3,396.9 465.4,398.7 465.6,394.1 465.8,388.1 465.9,383.9 466.1,388.9 466.3,395.6 466.4,398.3 466.6,394.1 466.8,388.0 466.9,384.8 467.1,388.9 467.3,394.6 467.4,397.2 467.6,394.1 467.8,390.2 467.9,386.7 468.1,387.5 468.3,392.7 468.4,396.8 468.6,395.6 468.8,391.0 468.9,386.3 469.1,389.7 469.3,395.0 469.4,396.8 469.6,393.4 469.8,388.9 469.9,385.7 470.1,389.2 470.3,397.9 470.4,396.1 470.6,391.8 470.8,387.7 470.9,385.9 471.1,387.0 471.3,389.9 471.4,393.6 471.6,397.0 471.8,394.9 471.9,391.2 472.1,387.1 472.3,386.5 472.4,389.6 472.6,396.1 472.8,396.2 472.9,390.5 473.1,385.7 473.3,387.5 473.4,392.2 473.6,398.8 473.8,397.4 473.9,394.7 474.1,390.7 474.3,384.6 474.4,388.6 474.6,393.9 474.8,398.9 474.9,396.8 475.1,388.8 475.3,382.2 475.4,387.6 475.6,391.8 475.8,396.5 475.9,397.8 476.1,390.8 476.3,385.5 476.4,386.0 476.6,390.3 476.8,394.1 476.9,396.8 477.1,395.7 477.3,390.7 477.4,387.5 477.6,387.1 477.8,389.3 477.9,395.3 478.1,396.8 478.3,393.1 478.4,388.1 478.6,385.7 478.8,388.8 478.9,395.5 479.1,397.1 479.3,395.2 479.4,390.4 479.6,386.9 479.8,387.5 479.9,394.4 480.1,396.6 480.3,392.5 480.4,386.0 480.6,386.1 480.8,389.8 480.9,394.3 481.1,397.2 481.3,395.0 481.4,390.1 481.6,386.0 481.8,385.1 481.9,389.6 482.1,396.2 482.3,398.2 482.4,395.9 482.6,391.4 482.8,385.4 482.9,386.6 483.1,390.5 483.3,398.1 483.4,398.3 483.6,392.9 483.8,387.0 483.9,385.6 484.1,388.1 484.3,391.3 484.4,396.5 484.6,395.5 484.8,391.0 484.9,387.9 485.1,386.4 485.3,389.8 485.4,394.9 485.6,396.8 485.8,392.6 485.9,387.3 486.1,386.8 486.3,388.6 486.4,394.4 486.6,396.3 486.8,394.5 486.9,391.6 487.1,386.7 487.3,389.6 487.4,395.3 487.6,396.5 487.8,390.5 487.9,386.2 488.1,387.9 488.3,394.6 488.4,396.2 488.6,393.6 488.8,388.7 488.9,386.7 489.1,390.9 489.3,394.2 489.4,396.6 489.6,394.8 489.8,390.8 489.9,385.6 490.1,387.6 490.3,392.7 490.4,399.2 490.6,395.0 490.8,386.2 490.9,385.9 491.1,395.1 491.3,397.7 491.4,393.0 491.6,388.3 491.8,385.7 491.9,392.0 492.1,397.1 492.3,396.7 492.4,391.4 492.6,386.6 492.8,387.9 492.9,393.0 493.1,396.7 493.3,393.8 493.4,388.6 493.6,385.9 493.8,388.4 493.9,397.3 494.1,396.2 494.3,386.9 494.4,384.5 494.6,389.0 494.8,394.9 494.9,398.2 495.1,394.4 495.3,386.8 495.4,388.2 495.6,392.7 495.8,395.6 495.9,393.0 496.1,388.5 496.3,386.4 496.4,387.3 496.6,391.3 496.8,395.2 496.9,397.1 497.1,393.2 497.3,385.7 497.4,387.8 497.6,395.6 497.8,397.8 497.9,393.0 498.1,384.9 498.3,386.6 498.4,393.3 498.6,397.6 498.8,397.8 498.9,391.1 499.1,385.0 499.3,389.1 499.4,394.9 499.6,397.8 499.8,395.1 499.9,391.5 500.1,386.1 500.3,389.4 500.4,395.0 500.6,397.1 500.8,393.3 500.9,388.5 501.1,386.7 501.3,390.0 501.4,395.4 501.6,398.8 501.8,390.6 501.9,386.3 502.1,388.3 502.3,392.1 502.4,396.0 502.6,396.5 502.8,393.0 502.9,389.5 503.1,385.9 503.3,387.8 503.4,390.8 503.6,394.3 503.8,396.8 503.9,396.4 504.1,391.4 504.3,386.5 504.4,385.8 504.6,390.6 504.8,397.3 504.9,396.0 505.1,389.0 505.3,385.9 505.4,389.7 505.6,394.4 505.8,395.9 505.9,392.9 506.1,388.6 506.3,387.5 506.4,390.4 506.6,395.4 506.8,394.7 506.9,389.4 507.1,387.4 507.3,391.0 507.4,394.7 507.6,396.6 507.8,394.6 507.9,388.0 508.1,386.3 508.3,389.4 508.4,395.4 508.6,396.2 508.8,390.4 508.9,387.3 509.1,380.6 509.3,391.3 509.4,396.1 509.6,395.1 509.8,392.0 509.9,387.3 510.1,381.6 510.3,393.1 510.4,395.8 510.6,394.1 510.8,390.6 510.9,387.7 511.1,387.9 511.3,389.8 511.4,393.5 511.6,395.4 511.8,391.6 511.9,388.1 512.1,388.5 512.3,391.4 512.4,396.4 512.6,394.8 512.8,390.1 512.9,386.2 513.1,390.5 513.3,394.3 513.4,396.4 513.6,391.0 513.8,386.6 513.9,388.0 514.1,393.4 514.3,396.8 514.4,391.8 514.6,386.8 514.8,386.4 514.9,395.4 515.1,398.0 515.3,395.3 515.4,387.0 515.6,385.8 515.8,389.9 515.9,397.3 516.1,397.8 516.3,392.6 516.4,384.1 516.6,385.2 516.8,393.7 516.9,398.5 517.1,397.7 517.3,393.7 517.4,388.5 517.6,385.8 517.8,388.3 517.9,392.7 518.1,396.1 518.3,396.4 518.4,392.7 518.6,390.0 518.8,387.5 518.9,389.5 519.1,392.9 519.3,394.9 519.4,395.6 519.6,392.1 519.8,387.8 519.9,388.0 520.1,391.2 520.3,394.5 520.4,397.1 520.6,392.1 520.8,386.7 520.9,384.9 521.1,392.5 521.3,396.2 521.4,393.5 521.6,388.3 521.8,387.2 521.9,393.1 522.1,396.7 522.3,395.2 522.4,388.1 522.6,386.2 522.8,390.8 522.9,396.9 523.1,397.9 523.3,393.9 523.4,386.6 523.6,385.0 523.8,389.6 523.9,397.9 524.1,396.5 524.3,388.5 524.4,380.7 524.6,384.6 524.8,390.0 524.9,395.2 525.1,398.2 525.3,394.1 525.4,388.9 525.6,385.4 525.8,393.1 525.9,397.7 526.1,395.6 526.3,390.5 526.4,384.3 526.6,386.9 526.8,392.2 526.9,397.4 527.1,396.9 527.3,393.5 527.4,385.0 527.6,386.6 527.8,394.2 527.9,398.8 528.1,397.5 528.3,392.6 528.4,386.7 528.6,385.0 528.8,388.6 528.9,397.2 529.1,398.1 529.3,393.9 529.4,387.0 529.6,385.2 529.8,387.3 529.9,393.5 530.1,396.9 530.3,394.8 530.4,388.5 530.6,387.0 530.8,391.2 530.9,394.8 531.1,395.4 531.3,393.0 531.4,388.3 531.6,386.0 531.8,388.0 531.9,393.6 532.1,397.6 532.3,393.9 532.4,390.0 532.6,386.1 532.8,389.0 532.9,393.9 533.1,395.9 533.3,395.1 533.4,392.0 533.6,388.5 533.8,387.3 533.9,391.6 534.1,396.3 534.3,397.6 534.4,391.5 534.6,385.8 534.8,386.0 534.9,390.1 535.1,396.4 535.3,396.6 535.4,384.1 535.6,385.2 535.8,388.5 535.9,394.3 536.1,397.5 536.3,391.6 536.4,384.8 536.6,386.0 536.8,391.4 536.9,397.0 537.1,398.3 537.3,393.6 537.4,385.5 537.6,386.3 537.8,391.6 537.9,397.2 538.1,397.0 538.3,392.0 538.4,386.3 538.6,386.2 538.8,389.7 538.9,394.6 539.1,396.5 539.3,394.2 539.4,391.2 539.6,387.9 539.8,388.0 539.9,391.2 540.1,395.8 540.3,394.1 540.4,388.7 540.6,386.3 540.8,387.7 540.9,394.0 541.1,400.0 541.3,394.9 541.4,390.0 541.6,386.3 541.8,385.1 541.9,387.8 542.1,394.0 542.3,397.6 542.4,397.8 542.6,395.0 542.8,386.9 542.9,384.3 543.1,385.8 543.3,394.5 543.4,398.6 543.6,389.3 543.8,384.7 543.9,387.1 544.1,395.1 544.3,398.2 544.4,395.4 544.6,390.2 544.8,386.3 544.9,386.5 545.1,388.9 545.3,393.5 545.4,396.1 545.6,396.0 545.8,391.7 545.9,384.7 546.1,385.9 546.3,390.3 546.4,398.4 546.6,395.8 546.8,386.7 546.9,380.5 547.1,379.6 547.3,392.6 547.4,402.4 547.6,394.8 547.8,377.0 547.9,380.6 548.1,398.5 548.3,401.8 548.4,398.0 548.6,384.4 548.8,377.8 548.9,384.3 549.1,393.4 549.3,400.6 549.4,395.7 549.6,388.1 549.8,380.0 549.9,370.7 550.1,394.6 550.3,399.8 550.4,393.6 550.6,386.5 550.8,378.4 550.9,380.7 551.1,395.0 551.3,401.3 551.4,394.8 551.6,384.4 551.8,378.2 551.9,386.1 552.1,395.7 552.3,405.5 552.4,404.2 552.6,392.2 552.8,374.4 552.9,411.4 553.1,386.4 553.3,399.6 553.4,406.2 553.6,403.1 553.8,382.2 553.9,375.1 554.1,380.6 554.3,392.3 554.4,400.7 554.6,397.2 554.8,386.7 554.9,378.5 555.1,382.4 555.3,397.7 555.4,401.0 555.6,391.1 555.8,378.1 555.9,383.4 556.1,396.9 556.3,400.9 556.4,390.8 556.6,378.0 556.8,378.5 556.9,386.4 557.1,397.4 557.3,402.4 557.4,399.9 557.6,384.7 557.8,375.9 557.9,385.6 558.1,400.6 558.3,400.3 558.4,380.8 558.6,374.1 558.8,383.7 558.9,400.9 559.1,407.4 559.3,393.7 559.4,375.9 559.6,373.3 559.8,393.6 559.9,406.0 560.1,403.3 560.3,386.8 560.4,372.3 560.6,382.7 560.8,398.6 560.9,406.7 561.1,399.0 561.3,381.5 561.4,373.0 561.6,372.7 561.8,388.9 561.9,402.3 562.1,405.4 562.3,386.5 562.4,373.6 562.6,375.3 562.8,391.7 562.9,403.0 563.1,402.3 563.3,394.4 563.4,380.6 563.6,376.2 563.8,385.5 563.9,399.1 564.1,404.3 564.3,387.3 564.4,375.2 564.6,377.0 564.8,391.9 564.9,404.4 565.1,396.7 565.3,383.7 565.4,376.3 565.6,382.5 565.8,393.3 565.9,401.5 566.1,398.3 566.3,382.6 566.4,378.4 566.6,379.4 566.8,388.6 566.9,397.9 567.1,399.7 567.3,390.7 567.4,380.5 567.6,376.3 567.8,384.0 567.9,397.1 568.1,406.2 568.3,400.3 568.5,385.5 568.6,370.6 568.8,384.6 569.0,399.5 569.1,406.6 569.3,386.5 569.5,370.0 569.6,372.3 569.8,385.3 570.0,399.4 570.1,401.8 570.3,390.4 570.5,380.7 570.6,374.1 570.8,382.5 571.0,400.1 571.1,406.6 571.3,398.5 571.5,375.1 571.6,373.2 571.8,379.9 572.0,393.0 572.1,404.8 572.3,395.5 572.5,385.2 572.6,379.3 572.8,379.9 573.0,391.1 573.1,402.2 573.3,400.3 573.5,383.6 573.6,376.2 573.8,383.3 574.0,392.7 574.1,403.0 574.3,399.3 574.5,386.2 574.6,376.0 574.8,379.2 575.0,394.5 575.1,403.2 575.3,391.6 575.5,381.2 575.6,376.6 575.8,380.6 576.0,390.8 576.1,400.8 576.3,390.2 576.5,379.6 576.6,379.2 576.8,391.5 577.0,398.7 577.1,400.5 577.3,385.9 577.5,375.7 577.6,388.9 577.8,398.4 578.0,414.4 578.1,397.9 578.3,378.3 578.5,378.8 578.6,399.1 578.8,404.8 579.0,390.1 579.1,376.4 579.3,375.6 579.5,382.3 579.6,403.3 579.8,405.1 580.0,399.9 580.1,388.1 580.3,375.1 580.5,379.9 580.6,395.5 580.8,406.3 581.0,402.2 581.1,388.1 581.3,372.8 581.5,381.7 581.6,394.0 581.8,403.5 582.0,405.8 582.1,394.0 582.3,373.6 582.5,380.9 582.6,399.4 582.8,406.6 583.0,388.4 583.1,371.5 583.3,377.7 583.5,391.1 583.6,401.2 583.8,406.5 584.0,392.3 584.1,374.4 584.3,377.9 584.5,391.7 584.6,403.5 584.8,400.8 585.0,381.8 585.1,374.4 585.3,385.9 585.5,400.1 585.6,401.4 585.8,392.9 586.0,382.3 586.1,373.5 586.3,389.6 586.5,397.7 586.6,398.2 586.8,385.4 587.0,379.5 587.1,381.0 587.3,395.1 587.5,400.7 587.6,390.9 587.8,378.9 588.0,381.2 588.1,397.8 588.3,400.6 588.5,389.7 588.6,376.8 588.8,376.6 589.0,398.7 589.1,407.3 589.3,390.8 589.5,377.3 589.6,375.5 589.8,398.9 590.0,406.7 590.1,402.7 590.3,388.4 590.5,377.6 590.6,379.7 590.8,388.0 591.0,401.8 591.1,400.2 591.3,390.1 591.5,379.3 591.6,380.1 591.8,396.3 592.0,400.4 592.1,397.8 592.3,389.7 592.5,383.4 592.6,381.8 592.8,388.4 593.0,397.1 593.1,396.5 593.3,389.9 593.5,385.7 593.6,385.0 593.8,391.9 594.0,397.6 594.1,393.1 594.3,387.5 594.5,385.1 594.6,386.3 594.8,389.6 595.0,397.2 595.1,398.0 595.3,390.1 595.5,382.4 595.6,384.0 595.8,391.8 596.0,399.0 596.1,399.1 596.3,393.2 596.5,386.5 596.6,382.7 596.8,382.4 597.0,392.5 597.1,396.8 597.3,398.3 597.5,395.1 597.6,389.0 597.8,382.4 598.0,385.7 598.1,399.7 598.3,399.1 598.5,388.9 598.6,382.2 598.8,387.6 599.0,396.6 599.1,399.7 599.3,393.4 599.5,385.2 599.6,382.4 599.8,386.5 600.0,400.0 600.1,398.3 600.3,393.2 600.5,386.2 600.6,383.4 600.8,387.3 601.0,396.3 601.1,397.4 601.3,393.5 601.5,386.1 601.6,385.4 601.8,389.4 602.0,395.6 602.1,393.8 602.3,389.6 602.5,386.3 602.6,386.4 602.8,391.9 603.0,395.1 603.1,397.2 603.3,393.2 603.5,386.9 603.6,383.7 603.8,387.6 604.0,393.9 604.1,396.8 604.3,397.2 604.5,391.4 604.6,385.3 604.8,388.8 605.0,392.2 605.1,396.4 605.3,391.6 605.5,387.3 605.6,381.9 605.8,391.2 606.0,396.1 606.1,395.4 606.3,388.3 606.5,386.1 606.6,388.5 606.8,395.3 607.0,397.4 607.1,389.2 607.3,384.0 607.5,383.6 607.6,388.5 607.8,394.4 608.0,400.3 608.1,396.6 608.3,389.4 608.5,382.1 608.6,389.0 608.8,398.0 609.0,399.3 609.1,395.1 609.3,384.9 609.5,383.3 609.6,387.9 609.8,397.5 610.0,396.9 610.1,390.1 610.3,383.4 610.5,384.9 610.6,395.7 610.8,398.2 611.0,390.9 611.1,385.5 611.3,385.0 611.5,393.7 611.6,398.0 611.8,395.2 612.0,386.4 612.1,384.0 612.3,386.1 612.5,390.4 612.6,395.5 612.8,398.1 613.0,391.7 613.1,384.4 613.3,385.6 613.5,394.6 613.6,398.1 613.8,398.0 614.0,393.6 614.1,386.5 614.3,383.4 614.5,387.6 614.6,392.8 614.8,398.7 615.0,396.1 615.1,387.0 615.3,384.4 615.5,391.3 615.6,396.4 615.8,397.2 616.0,391.1 616.1,383.8 616.3,388.9 616.5,396.7 616.6,397.0 616.8,388.0 617.0,383.6 617.1,388.3 617.3,393.2 617.5,399.2 617.6,394.7 617.8,386.0 618.0,384.0 618.1,392.1 618.3,398.2 618.5,395.5 618.6,391.7 618.8,387.1 619.0,385.5 619.1,390.2 619.3,394.2 619.5,396.0 619.6,394.4 619.8,387.1 620.0,385.0 620.1,388.0 620.3,397.0 620.5,397.2 620.6,393.0 620.8,385.7 621.0,382.8 621.1,387.4 621.3,395.9 621.5,397.6 621.6,391.1 621.8,385.6 622.0,384.8 622.1,386.2 622.3,395.0 622.5,397.7 622.6,395.6 622.8,383.3 623.0,382.7 623.1,384.6 623.3,392.0 623.5,399.3 623.6,394.8 623.8,385.3 624.0,382.2 624.1,387.1 624.3,397.8 624.5,400.6 624.6,390.2 624.8,385.1 625.0,384.0 625.1,392.0 625.3,397.3 625.5,396.4 625.6,392.0 625.8,386.2 626.0,385.7 626.1,389.1 626.3,394.7 626.5,398.2 626.6,394.6 626.8,388.5 627.0,383.0 627.1,390.2 627.3,395.5 627.5,399.2 627.6,389.3 627.8,383.9 628.0,384.6 628.1,388.4 628.3,396.5 628.5,399.5 628.6,396.0 628.8,388.5 629.0,384.1 629.1,385.4 629.3,388.7 629.5,395.7 629.6,396.4 629.8,388.7 630.0,385.0 630.1,388.0 630.3,392.8 630.5,396.2 630.6,395.6 630.8,390.6 631.0,385.4 631.1,386.7 631.3,392.0 631.5,397.4 631.6,395.9 631.8,391.3 632.0,386.9 632.1,384.5 632.3,386.4 632.5,391.4 632.6,396.0 632.8,396.3 633.0,392.3 633.1,387.1 633.3,386.1 633.5,389.6 633.6,395.0 633.8,396.4 634.0,393.0 634.1,386.8 634.3,386.4 634.5,392.3 634.6,396.3 634.8,394.0 635.0,386.5 635.1,384.8 635.3,389.6 635.5,395.9 635.6,397.6 635.8,393.7 636.0,386.9 636.1,384.2 636.3,389.4 636.5,396.6 636.6,397.5 636.8,392.9 637.0,384.7 637.1,385.5 637.3,388.8 637.5,396.0 637.6,395.9 637.8,389.0 638.0,385.1 638.1,389.6 638.3,394.4 638.5,395.4 638.6,392.7 638.8,387.6 639.0,386.0 639.1,388.7 639.3,392.5 639.5,397.0 639.6,391.8 639.8,386.7 640.0,385.5 640.1,392.3 640.3,397.5 640.5,397.6 640.6,387.2 640.8,382.4 641.0,386.8 641.1,394.5 641.3,399.8 641.5,394.9 641.6,387.9 641.8,383.9 642.0,382.1 642.1,387.6 642.3,396.4 642.5,400.2 642.6,396.0 642.8,387.1 643.0,382.6 643.1,385.1 643.3,394.8 643.5,399.0 643.6,391.9 643.8,384.7 644.0,385.0 644.1,394.1 644.3,396.9 644.5,393.6 644.6,386.7 644.8,384.5 645.0,386.6 645.1,393.4 645.3,396.5 645.5,394.5 645.6,386.8 645.8,385.1 646.0,390.1 646.1,396.2 646.3,396.4 646.5,389.0 646.6,384.5 646.8,388.7 647.0,395.2 647.1,397.6 647.3,396.7 647.5,387.4 647.6,384.6 647.8,385.9 648.0,390.8 648.1,395.7 648.3,397.2 648.5,390.9 648.6,384.8 648.8,387.1 649.0,392.2 649.1,396.7 649.3,395.4 649.5,388.0 649.6,385.1 649.8,390.0 650.0,396.6 650.1,396.2 650.3,392.1 650.5,386.8 650.6,384.9 650.8,391.3 651.0,396.8 651.1,397.4 651.3,389.6 651.5,383.1 651.6,389.6 651.8,397.6 652.0,398.3 652.1,393.2 652.3,386.9 652.5,382.6 652.6,390.8 652.8,399.8 653.0,398.9 653.1,393.3 653.3,386.2 653.5,384.2 653.6,390.9 653.8,395.3 654.0,395.9 654.1,390.4 654.3,385.9 654.5,386.4 654.6,388.9 654.8,394.5 655.0,397.5 655.1,396.6 655.3,391.4 655.5,385.2 655.6,382.6 655.8,384.3 656.0,392.6 656.1,398.0 656.3,398.3 656.5,388.5 656.6,384.4 656.8,383.7 657.0,392.6 657.1,396.5 657.3,397.1 657.5,389.0 657.6,384.9 657.8,383.0 658.0,389.9 658.1,398.1 658.3,398.7 658.5,392.3 658.6,387.0 658.8,382.9 659.0,385.2 659.1,393.4 659.3,397.9 659.5,394.0 659.6,387.8 659.8,384.5 660.0,385.6 660.1,389.7 660.3,397.6 660.5,396.0 660.6,387.0 660.8,383.3 661.0,387.0 661.1,392.7 661.3,399.7 661.5,399.0 661.6,390.3 661.8,381.9 662.0,386.3 662.1,391.5 662.3,399.2 662.5,397.8 662.6,389.2 662.8,385.0 663.0,384.8 663.1,389.3 663.3,394.3 663.5,395.6 663.6,392.2 663.8,387.1 664.0,385.5 664.1,391.7 664.3,397.0 664.5,398.8 664.6,389.5 664.8,381.4 665.0,384.6 665.1,394.4 665.3,400.5 665.5,396.7 665.6,391.1 665.8,383.9 666.0,388.6 666.1,395.0 666.3,398.0 666.5,394.9 666.6,390.3 666.8,385.8 667.0,387.6 667.1,393.8 667.3,396.0 667.5,393.9 667.6,387.2 667.8,386.3 668.0,391.5 668.1,395.9 668.3,394.1 668.5,389.5 668.6,385.7 668.8,387.3 669.0,391.4 669.1,395.8 669.3,394.0 669.5,390.8 669.6,386.7 669.8,385.9 670.0,389.3 670.1,395.4 670.3,397.8 670.5,394.6 670.6,385.8 670.8,380.0 671.0,389.3 671.1,393.7 671.3,396.5 671.5,392.4 671.6,385.6 671.8,384.8 672.0,389.4 672.1,397.0 672.3,397.9 672.5,392.9 672.7,386.0 672.8,382.4 673.0,387.2 673.2,392.5 673.3,397.8 673.5,397.6 673.7,390.2 673.8,385.4 674.0,385.1 674.2,394.1 674.3,397.6 674.5,393.5 674.7,388.6 674.8,385.0 675.0,386.7 675.2,395.0 675.3,397.6 675.5,390.9 675.7,384.5 675.8,387.1 676.0,393.0 676.2,399.3 676.3,393.0 676.5,387.8 676.7,382.9 676.8,385.5 677.0,391.8 677.2,398.8 677.3,397.1 677.5,389.0 677.7,384.0 677.8,385.1 678.0,391.0 678.2,398.3 678.3,398.6 678.5,390.9 678.7,384.5 678.8,385.0 679.0,392.3 679.2,397.0 679.3,396.9 679.5,386.1 679.7,383.2 679.8,385.8 680.0,393.9 680.2,399.5 680.3,396.0 680.5,391.3 680.7,383.5 680.8,387.8 681.0,395.0 681.2,398.3 681.3,396.4 681.5,387.7 681.7,384.2 681.8,384.1 682.0,393.7 682.2,398.3 682.3,397.9 682.5,390.7 682.7,383.6 682.8,382.8 683.0,390.7 683.2,396.7 683.3,397.7 683.5,386.9 683.7,383.2 683.8,389.8 684.0,398.1 684.2,398.6 684.3,394.4 684.5,388.2 684.7,384.3 684.8,390.5 685.0,397.1 685.2,394.9 685.3,386.7 685.5,384.0 685.7,387.9 685.8,396.1 686.0,396.7 686.2,392.6 686.3,384.3 686.5,382.6 686.7,389.2 686.8,400.4 687.0,399.6 687.2,387.4 687.3,379.1 687.5,380.5 687.7,364.6 687.8,403.4 688.0,387.0 688.2,424.6 688.3,379.7 688.5,392.4 688.7,400.9 688.8,404.0 689.0,391.5 689.2,380.4 689.3,378.4 689.5,393.6 689.7,402.7 689.8,398.1 690.0,390.7 690.2,381.0 690.3,378.8 690.5,387.3 690.7,398.5 690.8,400.9 691.0,396.0 691.2,387.7 691.3,380.0 691.5,381.0 691.7,396.7 691.8,403.0 692.0,397.5 692.2,379.2 692.3,348.4 692.5,393.1 692.7,403.6 692.8,467.2 693.0,387.8 693.2,376.0 693.3,378.7 693.5,395.3 693.7,407.0 693.8,390.3 694.0,371.7 694.2,379.5 694.3,397.5 694.5,405.0 694.7,397.3 694.8,378.6 695.0,359.6 695.2,392.7 695.3,408.7 695.5,422.5 695.7,390.3 695.8,376.5 696.0,371.1 696.2,380.8 696.3,404.9 696.5,406.2 696.7,393.4 696.8,382.8 697.0,374.9 697.2,384.9 697.3,398.6 697.5,404.1 697.7,397.5 697.8,384.6 698.0,377.9 698.2,376.1 698.3,388.6 698.5,399.2 698.7,403.5 698.8,399.5 699.0,381.8 699.2,376.5 699.3,382.5 699.5,392.0 699.7,402.8 699.8,402.9 700.0,395.4 700.2,378.2 700.3,378.3 700.5,389.5 700.7,402.1 700.8,397.2 701.0,383.9 701.2,375.6 701.3,384.2 701.5,393.0 701.7,402.9 701.8,402.4 702.0,391.3 702.2,377.7 702.3,382.0 702.5,399.9 702.7,341.3 702.8,390.4 703.0,383.0 703.2,453.0 703.3,386.7 703.5,397.4 703.7,400.2 703.8,393.7 704.0,384.7 704.2,378.2 704.3,385.4 704.5,346.4 704.7,404.6 704.8,392.0 705.0,378.0 705.2,374.9 705.3,383.1 705.5,403.4 705.7,406.3 705.8,390.6 706.0,372.8 706.2,378.3 706.3,397.5 706.5,408.5 706.7,394.7 706.8,372.4 707.0,374.0 707.2,392.4 707.3,407.4 707.5,403.6 707.7,381.2 707.8,372.2 708.0,380.3 708.2,399.2 708.3,405.2 708.5,398.7 708.7,352.5 708.8,378.1 709.0,384.9 709.2,398.0 709.3,403.3 709.5,399.4 709.7,383.1 709.8,377.6 710.0,384.1 710.2,395.6 710.3,403.5 710.5,404.2 710.7,394.1 710.8,378.1 711.0,373.6 711.2,391.3 711.3,409.5 711.5,400.4 711.7,381.1 711.8,370.0 712.0,381.5 712.2,402.8 712.3,405.3 712.5,388.1 712.7,379.2 712.8,377.4 713.0,391.9 713.2,404.5 713.3,399.9 713.5,386.8 713.7,378.4 713.8,378.4 714.0,395.1 714.2,402.9 714.3,397.3 714.5,383.2 714.7,378.2 714.8,384.2 715.0,396.7 715.2,400.8 715.3,395.2 715.5,382.2 715.7,382.5 715.8,393.9 716.0,400.9 716.2,401.9 716.3,388.5 716.5,377.1 716.7,380.5 716.8,398.8 717.0,404.5 717.2,392.4 717.3,377.7 717.5,376.3 717.7,383.2 717.8,391.3 718.0,404.8 718.2,396.8 718.3,378.8 718.5,377.6 718.7,382.7 718.8,394.2 719.0,404.6 719.2,399.1 719.3,381.7 719.5,377.7 719.7,385.3 719.8,405.2 720.0,403.4 720.2,392.4 720.3,377.0 720.5,383.0 720.7,399.4 720.8,403.3 721.0,395.0 721.2,385.4 721.3,379.1 721.5,381.3 721.7,394.7 721.8,402.3 722.0,370.7 722.2,389.9 722.3,378.8 722.5,406.3 722.7,399.9 722.8,396.5 723.0,390.3 723.2,384.2 723.3,382.2 723.5,385.8 723.7,394.0 723.8,399.5 724.0,388.3 724.2,380.9 724.3,382.2 724.5,385.9" fill="none" stroke="#0000ff" stroke-width="1.7" stroke-linejoin="round" stroke-linecap="round"/>
</g>
<g clip-path="url(#cl3)">
<polyline points="203.5,694.4 203.7,696.7 203.8,685.2 204.0,677.9 204.2,674.7 204.3,680.8 204.5,694.4 204.7,691.4 204.8,682.2 205.0,676.0 205.2,675.2 205.3,680.8 205.5,691.4 205.7,693.5 205.8,685.7 206.0,680.0 206.2,675.9 206.3,678.0 206.5,686.4 206.7,693.0 206.8,695.3 207.0,685.9 207.2,674.0 207.3,675.3 207.5,685.6 207.7,692.4 207.8,694.2 208.0,682.5 208.2,675.0 208.3,678.5 208.5,688.5 208.7,694.6 208.8,689.7 209.0,679.8 209.2,670.1 209.3,681.4 209.5,689.3 209.7,693.3 209.8,689.8 210.0,678.7 210.2,675.9 210.3,676.7 210.5,683.3 210.7,690.0 210.8,693.8 211.0,690.2 211.2,682.5 211.3,677.2 211.5,676.4 211.7,684.3 211.8,692.9 212.0,694.0 212.2,686.1 212.3,674.7 212.5,676.0 212.7,683.2 212.8,694.8 213.0,689.8 213.2,675.9 213.3,674.2 213.5,684.9 213.7,694.2 213.8,693.0 214.0,686.0 214.2,675.8 214.3,676.0 214.5,680.9 214.7,690.0 214.8,692.6 215.0,685.6 215.2,677.5 215.3,679.2 215.5,684.7 215.7,690.6 215.8,693.2 216.0,690.5 216.2,684.5 216.3,676.6 216.5,677.4 216.7,681.6 216.8,689.9 217.0,690.4 217.2,681.4 217.3,677.6 217.5,680.3 217.7,688.3 217.8,691.1 218.0,682.1 218.2,675.2 218.3,675.9 218.5,681.5 218.7,691.1 218.8,695.1 219.0,685.1 219.2,673.9 219.3,673.1 219.5,683.8 219.7,693.5 219.8,692.6 220.0,686.3 220.2,676.6 220.3,675.3 220.5,684.2 220.7,693.9 220.8,691.7 221.0,683.9 221.2,672.8 221.3,675.0 221.5,681.8 221.7,692.6 221.8,694.8 222.0,681.6 222.2,674.5 222.3,672.9 222.5,681.7 222.7,689.7 222.8,695.2 223.0,693.0 223.2,685.5 223.3,673.4 223.5,676.2 223.7,683.4 223.8,691.5 224.0,694.6 224.2,683.9 224.3,675.6 224.5,673.4 224.7,687.0 224.8,697.4 225.0,688.8 225.2,680.6 225.3,673.5 225.5,682.4 225.7,695.0 225.8,694.4 226.0,679.0 226.2,673.4 226.3,680.3 226.5,687.9 226.7,694.6 226.8,692.6 227.0,683.3 227.2,676.1 227.3,674.7 227.5,681.0 227.7,694.5 227.8,694.3 228.0,687.4 228.2,674.4 228.3,674.9 228.5,685.9 228.7,694.4 228.8,692.2 229.0,682.6 229.2,675.3 229.3,677.0 229.5,684.1 229.7,692.6 229.8,693.9 230.0,687.7 230.2,681.2 230.3,674.1 230.5,683.8 230.7,692.9 230.8,696.0 231.0,685.4 231.2,676.7 231.3,676.0 231.5,683.7 231.7,692.1 231.8,691.8 232.0,684.1 232.2,677.7 232.3,678.6 232.5,686.9 232.7,692.8 232.8,687.8 233.0,680.0 233.2,674.5 233.3,681.9 233.5,692.8 233.7,694.7 233.8,684.4 234.0,675.2 234.2,677.5 234.3,693.2 234.5,695.3 234.7,692.4 234.8,684.2 235.0,675.6 235.2,674.0 235.3,684.0 235.5,693.3 235.7,693.6 235.8,680.0 236.0,675.2 236.2,677.5 236.3,689.3 236.5,693.1 236.7,688.0 236.8,678.2 237.0,675.5 237.2,681.1 237.3,690.2 237.5,692.2 237.7,686.8 237.8,679.7 238.0,677.9 238.2,683.9 238.3,691.8 238.5,688.6 238.7,680.2 238.8,676.0 239.0,681.0 239.2,687.8 239.3,692.7 239.5,687.8 239.7,679.1 239.8,675.1 240.0,679.4 240.2,685.9 240.3,692.1 240.5,692.3 240.7,684.1 240.8,673.1 241.0,677.4 241.2,687.2 241.3,695.0 241.5,692.4 241.7,681.2 241.8,673.9 242.0,678.5 242.2,689.9 242.3,696.3 242.5,689.0 242.7,681.9 242.8,674.4 243.0,681.4 243.2,692.1 243.3,694.0 243.5,686.7 243.7,680.7 243.8,676.7 244.0,680.6 244.2,689.0 244.3,691.1 244.5,683.4 244.7,677.0 244.8,678.1 245.0,683.6 245.2,691.3 245.3,692.4 245.5,686.7 245.7,676.1 245.8,675.6 246.0,678.1 246.2,690.2 246.3,695.4 246.5,691.5 246.7,684.6 246.8,678.3 247.0,676.5 247.2,684.1 247.3,691.7 247.5,688.5 247.7,683.5 247.8,678.5 248.0,680.0 248.2,689.4 248.3,691.6 248.5,688.3 248.7,679.5 248.8,677.0 249.0,680.3 249.2,687.2 249.3,692.9 249.5,689.3 249.7,680.0 249.8,676.9 250.0,679.1 250.2,689.4 250.3,692.7 250.5,692.8 250.7,683.3 250.8,676.7 251.0,675.5 251.2,680.2 251.3,690.5 251.5,695.7 251.7,692.7 251.8,684.6 252.0,675.2 252.2,676.0 252.3,683.3 252.5,693.0 252.7,691.7 252.8,685.1 253.0,675.2 253.2,677.6 253.3,687.5 253.5,694.7 253.7,685.9 253.8,677.3 254.0,676.4 254.2,683.8 254.3,690.2 254.5,694.3 254.7,688.3 254.8,676.3 255.0,673.9 255.2,682.3 255.3,691.7 255.5,693.6 255.7,690.6 255.9,679.2 256.0,676.2 256.2,685.3 256.4,692.9 256.5,687.6 256.7,677.2 256.9,677.5 257.0,681.6 257.2,691.7 257.4,694.5 257.5,691.8 257.7,682.9 257.9,673.8 258.0,675.7 258.2,685.4 258.4,694.8 258.5,688.0 258.7,676.9 258.9,674.1 259.0,682.4 259.2,698.1 259.4,696.5 259.5,688.8 259.7,679.7 259.9,674.3 260.0,687.6 260.2,694.7 260.4,692.3 260.5,686.4 260.7,679.2 260.9,675.1 261.0,678.6 261.2,687.5 261.4,693.6 261.5,689.7 261.7,679.1 261.9,674.8 262.0,679.8 262.2,688.1 262.4,694.7 262.5,691.9 262.7,685.8 262.9,676.7 263.0,677.0 263.2,682.9 263.4,691.8 263.5,693.8 263.7,690.1 263.9,678.4 264.0,673.5 264.2,681.0 264.4,694.7 264.5,691.4 264.7,683.5 264.9,672.7 265.0,676.8 265.2,691.3 265.4,695.6 265.5,682.9 265.7,675.6 265.9,677.7 266.0,687.0 266.2,694.6 266.4,688.9 266.5,675.7 266.7,674.7 266.9,684.7 267.0,691.2 267.2,694.7 267.4,685.6 267.5,678.3 267.7,674.2 267.9,681.2 268.0,693.0 268.2,693.4 268.4,683.4 268.5,674.8 268.7,680.9 268.9,693.9 269.0,697.0 269.2,687.8 269.4,672.5 269.5,672.9 269.7,684.5 269.9,694.0 270.0,695.4 270.2,689.2 270.4,677.0 270.5,675.7 270.7,686.9 270.9,693.7 271.0,686.3 271.2,677.4 271.4,675.9 271.5,682.0 271.7,691.6 271.9,692.6 272.0,686.4 272.2,676.4 272.4,675.9 272.5,679.5 272.7,686.7 272.9,692.8 273.0,690.2 273.2,681.5 273.4,676.6 273.5,678.3 273.7,691.0 273.9,693.1 274.0,690.8 274.2,681.3 274.4,675.7 274.5,679.5 274.7,685.9 274.9,694.0 275.0,694.9 275.2,687.6 275.4,681.0 275.5,676.0 275.7,680.1 275.9,685.3 276.0,690.9 276.2,691.3 276.4,686.3 276.5,680.4 276.7,677.2 276.9,683.0 277.0,688.3 277.2,691.8 277.4,690.3 277.5,680.0 277.7,677.0 277.9,681.6 278.0,687.2 278.2,693.8 278.4,690.1 278.5,681.5 278.7,674.9 278.9,674.8 279.0,687.0 279.2,694.3 279.4,695.1 279.5,687.9 279.7,676.2 279.9,673.5 280.0,675.6 280.2,688.9 280.4,694.5 280.5,692.9 280.7,683.6 280.9,673.6 281.0,679.4 281.2,690.1 281.4,695.3 281.5,688.1 281.7,678.6 281.9,676.3 282.0,680.6 282.2,688.9 282.4,691.0 282.5,688.6 282.7,680.7 282.9,677.6 283.0,681.8 283.2,689.5 283.4,692.0 283.5,689.8 283.7,684.8 283.9,677.3 284.0,677.7 284.2,684.8 284.4,691.8 284.5,689.9 284.7,683.9 284.9,678.3 285.0,679.5 285.2,686.2 285.4,690.2 285.5,690.9 285.7,687.9 285.9,682.7 286.0,678.4 286.2,678.6 286.4,685.5 286.5,690.6 286.7,691.7 286.9,690.2 287.0,680.5 287.2,676.9 287.4,679.3 287.5,688.2 287.7,692.4 287.9,685.6 288.0,679.0 288.2,674.7 288.4,680.5 288.5,694.2 288.7,695.6 288.9,683.9 289.0,674.5 289.2,676.9 289.4,689.2 289.5,696.0 289.7,694.4 289.9,681.4 290.0,674.9 290.2,682.6 290.4,692.4 290.5,689.2 290.7,679.4 290.9,675.8 291.0,682.4 291.2,690.7 291.4,693.0 291.5,686.7 291.7,677.5 291.9,680.9 292.0,688.6 292.2,692.9 292.4,688.3 292.5,679.8 292.7,674.0 292.9,676.4 293.0,690.8 293.2,694.9 293.4,693.1 293.5,685.1 293.7,675.1 293.9,676.3 294.0,684.8 294.2,693.0 294.4,690.7 294.5,682.2 294.7,675.7 294.9,681.8 295.0,687.4 295.2,693.9 295.4,688.9 295.5,679.1 295.7,676.1 295.9,679.9 296.0,686.1 296.2,693.1 296.4,688.0 296.5,678.6 296.7,677.6 296.9,681.2 297.0,690.4 297.2,692.8 297.4,691.0 297.5,679.9 297.7,676.0 297.9,680.3 298.0,689.1 298.2,693.1 298.4,684.8 298.5,677.2 298.7,675.1 298.9,686.5 299.0,693.2 299.2,693.7 299.4,686.0 299.5,675.6 299.7,676.7 299.9,683.6 300.0,690.2 300.2,691.7 300.4,683.5 300.5,678.0 300.7,682.3 300.9,688.2 301.0,691.8 301.2,687.5 301.4,678.8 301.5,679.1 301.7,688.4 301.9,691.9 302.0,688.7 302.2,684.0 302.4,678.9 302.5,678.3 302.7,687.8 302.9,694.0 303.0,693.0 303.2,687.7 303.4,677.2 303.5,673.4 303.7,684.2 303.9,695.0 304.0,688.7 304.2,680.6 304.4,673.4 304.5,679.2 304.7,688.0 304.9,694.0 305.0,693.7 305.2,689.4 305.4,678.8 305.5,675.3 305.7,679.3 305.9,687.4 306.0,692.2 306.2,690.0 306.4,685.4 306.5,680.1 306.7,677.1 306.9,680.0 307.0,687.4 307.2,691.0 307.4,691.4 307.5,687.4 307.7,679.4 307.9,673.8 308.0,681.7 308.2,692.0 308.4,690.8 308.5,678.4 308.7,675.6 308.9,682.4 309.0,687.5 309.2,692.9 309.4,684.5 309.5,677.0 309.7,680.3 309.9,685.7 310.0,691.8 310.2,687.4 310.4,681.2 310.5,676.2 310.7,681.9 310.9,691.5 311.0,693.1 311.2,685.2 311.4,677.6 311.5,676.9 311.7,690.5 311.9,695.8 312.0,693.7 312.2,684.7 312.4,675.9 312.5,675.9 312.7,690.0 312.9,696.0 313.0,688.9 313.2,678.7 313.4,673.7 313.5,678.7 313.7,691.5 313.9,693.9 314.0,686.7 314.2,675.2 314.4,674.8 314.5,682.7 314.7,695.1 314.9,694.6 315.0,680.1 315.2,672.4 315.4,684.5 315.5,692.2 315.7,695.4 315.9,684.9 316.0,675.3 316.2,677.0 316.4,688.6 316.5,693.3 316.7,690.8 316.9,678.0 317.0,675.7 317.2,689.2 317.4,694.8 317.5,687.7 317.7,675.0 317.9,676.6 318.0,688.1 318.2,694.2 318.4,694.7 318.5,681.8 318.7,672.7 318.9,682.1 319.0,695.7 319.2,692.1 319.4,682.7 319.5,674.2 319.7,676.1 319.9,683.1 320.0,690.4 320.2,690.7 320.4,683.3 320.5,677.6 320.7,679.8 320.9,685.3 321.0,664.4 321.2,691.6 321.4,685.5 321.5,677.3 321.7,678.2 321.9,685.4 322.0,692.1 322.2,690.6 322.4,680.8 322.5,672.6 322.7,682.4 322.9,690.7 323.0,691.4 323.2,681.9 323.4,675.8 323.5,675.5 323.7,685.1 323.9,691.5 324.0,693.7 324.2,685.1 324.4,675.8 324.5,677.5 324.7,692.7 324.9,696.7 325.0,688.4 325.2,675.8 325.4,673.5 325.5,688.5 325.7,695.3 325.9,693.4 326.0,682.1 326.2,673.7 326.4,679.3 326.5,694.3 326.7,693.3 326.9,684.9 327.0,675.8 327.2,680.1 327.4,690.3 327.5,692.9 327.7,685.2 327.9,680.6 328.0,678.2 328.2,679.8 328.4,684.8 328.5,691.4 328.7,689.6 328.9,679.9 329.0,677.1 329.2,683.2 329.4,692.7 329.5,695.4 329.7,681.8 329.9,671.6 330.0,682.6 330.2,690.4 330.4,692.7 330.5,683.9 330.7,671.2 330.9,681.7 331.0,689.7 331.2,690.9 331.4,686.2 331.5,679.1 331.7,677.5 331.9,682.4 332.0,688.6 332.2,694.6 332.4,689.2 332.5,680.2 332.7,673.4 332.9,678.4 333.0,688.9 333.2,696.2 333.4,695.6 333.5,688.1 333.7,679.1 333.9,673.2 334.0,676.3 334.2,682.5 334.4,692.8 334.5,689.6 334.7,678.8 334.9,677.2 335.0,680.7 335.2,688.0 335.4,696.9 335.5,687.2 335.7,677.1 335.9,677.2 336.0,686.5 336.2,695.6 336.4,691.2 336.5,684.9 336.7,676.2 336.9,679.2 337.0,686.9 337.2,691.8 337.4,691.0 337.5,680.9 337.7,675.7 337.9,677.3 338.0,685.5 338.2,691.6 338.4,694.0 338.5,690.6 338.7,683.9 338.9,675.7 339.0,676.8 339.2,682.9 339.4,690.8 339.5,694.9 339.7,688.8 339.9,678.2 340.0,676.3 340.2,685.1 340.4,693.3 340.5,690.0 340.7,681.5 340.9,675.0 341.0,676.2 341.2,680.7 341.4,690.6 341.5,694.1 341.7,690.8 341.9,682.8 342.0,677.8 342.2,676.7 342.4,686.0 342.5,693.6 342.7,687.0 342.9,676.6 343.0,673.8 343.2,676.8 343.4,690.2 343.5,697.0 343.7,686.0 343.9,678.9 344.0,674.1 344.2,679.4 344.4,690.9 344.5,693.0 344.7,686.6 344.9,681.6 345.0,677.6 345.2,679.8 345.4,685.7 345.5,690.7 345.7,691.7 345.9,684.7 346.0,677.6 346.2,676.7 346.4,685.1 346.5,689.2 346.7,692.0 346.9,686.3 347.0,678.3 347.2,678.7 347.4,685.7 347.5,704.0 347.7,691.2 347.9,686.2 348.0,678.1 348.2,675.4 348.4,677.6 348.5,686.7 348.7,694.4 348.9,696.4 349.0,681.1 349.2,672.4 349.4,676.2 349.5,681.5 349.7,688.2 349.9,696.2 350.0,689.5 350.2,678.7 350.4,676.2 350.5,681.3 350.7,691.5 350.9,691.5 351.0,683.9 351.2,677.9 351.4,680.6 351.5,687.8 351.7,691.6 351.9,683.8 352.0,679.6 352.2,677.0 352.4,683.8 352.5,690.9 352.7,693.0 352.9,688.1 353.0,675.5 353.2,674.2 353.4,684.8 353.5,696.2 353.7,691.6 353.9,676.5 354.0,672.1 354.2,680.5 354.4,692.8 354.5,696.9 354.7,684.9 354.9,674.3 355.0,677.0 355.2,689.5 355.4,693.7 355.5,689.2 355.7,677.9 355.9,675.3 356.0,685.8 356.2,692.2 356.4,694.0 356.5,690.1 356.7,680.7 356.9,675.4 357.0,674.4 357.2,678.5 357.4,685.8 357.5,694.8 357.7,691.4 357.9,682.9 358.0,676.6 358.2,676.8 358.4,684.6 358.5,693.1 358.7,693.9 358.9,688.6 359.0,677.7 359.2,676.3 359.4,685.8 359.5,693.6 359.7,689.6 359.9,683.2 360.1,675.5 360.2,680.4 360.4,690.2 360.6,694.5 360.7,691.1 360.9,686.5 361.1,676.4 361.2,679.3 361.4,690.3 361.6,692.3 361.7,683.0 361.9,676.6 362.1,676.0 362.2,684.9 362.4,693.6 362.6,688.7 362.7,682.2 362.9,675.7 363.1,680.0 363.2,690.2 363.4,692.2 363.6,682.5 363.7,678.3 363.9,678.6 364.1,681.9 364.2,689.5 364.4,691.6 364.6,684.2 364.7,679.1 364.9,675.9 365.1,686.7 365.2,694.8 365.4,692.7 365.6,675.5 365.7,675.0 365.9,680.1 366.1,693.6 366.2,696.2 366.4,689.0 366.6,678.8 366.7,673.7 366.9,684.6 367.1,696.8 367.2,693.1 367.4,686.8 367.6,674.9 367.7,679.0 367.9,690.8 368.1,694.9 368.2,689.1 368.4,683.2 368.6,677.0 368.7,676.0 368.9,680.4 369.1,690.7 369.2,692.6 369.4,685.4 369.6,679.1 369.7,677.4 369.9,687.5 370.1,693.3 370.2,689.3 370.4,683.9 370.6,678.9 370.7,676.4 370.9,685.7 371.1,691.4 371.2,688.5 371.4,678.0 371.6,675.0 371.7,682.0 371.9,690.9 372.1,694.9 372.2,694.6 372.4,687.8 372.6,679.8 372.7,673.6 372.9,677.7 373.1,686.7 373.2,696.1 373.4,693.7 373.6,685.0 373.7,678.5 373.9,675.2 374.1,683.3 374.2,693.3 374.4,693.0 374.6,681.7 374.7,676.0 374.9,677.8 375.1,686.3 375.2,691.9 375.4,692.9 375.6,685.3 375.7,679.6 375.9,676.8 376.1,682.1 376.2,689.9 376.4,692.0 376.6,683.6 376.7,676.2 376.9,676.9 377.1,682.3 377.2,691.4 377.4,694.6 377.6,689.8 377.7,679.7 377.9,672.9 378.1,680.2 378.2,695.4 378.4,694.1 378.6,679.6 378.7,672.3 378.9,678.8 379.1,690.7 379.2,696.9 379.4,693.9 379.6,682.7 379.7,676.4 379.9,674.7 380.1,680.5 380.2,691.5 380.4,693.8 380.6,689.0 380.7,680.0 380.9,674.1 381.1,680.7 381.2,692.5 381.4,695.3 381.6,691.1 381.7,684.2 381.9,676.3 382.1,675.6 382.2,686.4 382.4,691.9 382.6,694.7 382.7,686.6 382.9,677.6 383.1,675.1 383.2,678.2 383.4,687.3 383.6,695.6 383.7,690.8 383.9,678.4 384.1,672.4 384.2,684.7 384.4,696.6 384.6,690.7 384.7,681.8 384.9,673.8 385.1,674.9 385.2,684.1 385.4,694.3 385.6,693.7 385.7,682.4 385.9,674.7 386.1,676.6 386.2,684.3 386.4,693.5 386.6,690.8 386.7,681.4 386.9,675.3 387.1,675.9 387.2,683.5 387.4,689.2 387.6,693.1 387.7,689.5 387.9,675.6 388.1,675.8 388.2,682.7 388.4,692.6 388.6,693.4 388.7,688.0 388.9,681.2 389.1,671.2 389.2,679.5 389.4,689.5 389.6,693.3 389.7,685.6 389.9,677.9 390.1,674.4 390.2,677.5 390.4,683.3 390.6,690.2 390.7,693.5 390.9,689.3 391.1,677.7 391.2,676.9 391.4,684.4 391.6,692.2 391.7,690.9 391.9,684.7 392.1,677.2 392.2,679.8 392.4,689.6 392.6,693.9 392.7,688.6 392.9,680.4 393.1,674.0 393.2,677.3 393.4,689.6 393.6,694.9 393.7,686.1 393.9,675.4 394.1,674.9 394.2,679.8 394.4,692.0 394.6,693.3 394.7,685.0 394.9,675.9 395.1,678.0 395.2,685.8 395.4,692.2 395.6,691.3 395.7,684.4 395.9,676.3 396.1,677.8 396.2,683.8 396.4,691.8 396.6,690.2 396.7,683.8 396.9,676.2 397.1,676.5 397.2,687.4 397.4,695.8 397.6,694.4 397.7,684.6 397.9,671.9 398.1,678.5 398.2,694.7 398.4,694.4 398.6,686.7 398.7,677.9 398.9,674.1 399.1,680.2 399.2,689.5 399.4,696.8 399.6,690.9 399.7,682.3 399.9,673.9 400.1,680.3 400.2,692.2 400.4,691.6 400.6,681.9 400.7,672.7 400.9,677.0 401.1,687.0 401.2,693.8 401.4,695.5 401.6,689.5 401.7,677.2 401.9,672.0 402.1,683.1 402.2,692.1 402.4,695.9 402.6,696.9 402.7,680.0 402.9,672.5 403.1,678.7 403.2,691.7 403.4,691.5 403.6,686.7 403.7,679.9 403.9,677.5 404.1,678.4 404.2,681.8 404.4,687.9 404.6,691.3 404.7,687.7 404.9,682.7 405.1,678.0 405.2,678.2 405.4,684.5 405.6,689.3 405.7,691.1 405.9,685.8 406.1,678.4 406.2,680.5 406.4,685.5 406.6,690.9 406.7,691.3 406.9,686.1 407.1,679.2 407.2,679.4 407.4,687.7 407.6,690.7 407.7,688.9 407.9,678.5 408.1,676.2 408.2,681.4 408.4,689.9 408.6,693.5 408.7,682.3 408.9,675.6 409.1,674.9 409.2,684.4 409.4,694.0 409.6,691.0 409.7,681.0 409.9,673.5 410.1,683.0 410.2,695.3 410.4,692.6 410.6,683.5 410.7,676.9 410.9,679.6 411.1,687.4 411.2,691.1 411.4,691.1 411.6,686.9 411.7,677.6 411.9,675.6 412.1,684.1 412.2,694.1 412.4,694.3 412.6,688.1 412.7,676.7 412.9,675.5 413.1,685.3 413.2,692.0 413.4,692.9 413.6,689.7 413.7,682.8 413.9,677.8 414.1,681.1 414.2,689.5 414.4,691.1 414.6,684.9 414.7,678.9 414.9,675.9 415.1,679.2 415.2,691.2 415.4,693.7 415.6,688.5 415.7,681.8 415.9,674.1 416.1,679.3 416.2,688.4 416.4,693.9 416.6,689.8 416.7,679.6 416.9,674.0 417.1,677.6 417.2,690.9 417.4,694.1 417.6,689.7 417.7,679.8 417.9,675.4 418.1,683.7 418.2,693.5 418.4,690.1 418.6,681.9 418.7,675.2 418.9,678.2 419.1,686.9 419.2,694.2 419.4,691.8 419.6,678.4 419.7,675.9 419.9,681.3 420.1,689.0 420.2,693.8 420.4,692.6 420.6,684.9 420.7,675.6 420.9,677.3 421.1,683.9 421.2,696.3 421.4,689.4 421.6,681.6 421.7,677.7 421.9,678.0 422.1,681.9 422.2,687.6 422.4,692.4 422.6,692.3 422.7,687.2 422.9,678.8 423.1,674.1 423.2,680.6 423.4,691.9 423.6,694.4 423.7,687.4 423.9,679.1 424.1,674.7 424.2,677.2 424.4,686.5 424.6,692.9 424.7,695.0 424.9,687.7 425.1,675.3 425.2,672.8 425.4,691.1 425.6,694.5 425.7,681.2 425.9,672.6 426.1,676.1 426.2,684.2 426.4,694.5 426.6,696.5 426.7,682.6 426.9,673.0 427.1,680.6 427.2,692.2 427.4,695.2 427.6,683.4 427.7,673.7 427.9,676.6 428.1,690.1 428.2,696.5 428.4,689.1 428.6,676.6 428.7,669.9 428.9,683.4 429.1,694.4 429.2,694.8 429.4,690.5 429.6,681.8 429.7,673.8 429.9,677.4 430.1,693.3 430.2,695.5 430.4,692.1 430.6,681.3 430.7,672.4 430.9,679.7 431.1,695.1 431.2,695.3 431.4,689.8 431.6,676.7 431.7,674.8 431.9,686.9 432.1,692.7 432.2,691.2 432.4,679.7 432.6,675.4 432.7,682.9 432.9,691.9 433.1,689.7 433.2,682.3 433.4,678.7 433.6,678.9 433.7,683.4 433.9,691.2 434.1,688.4 434.2,679.8 434.4,677.3 434.6,683.1 434.7,688.4 434.9,691.4 435.1,687.0 435.2,676.9 435.4,677.3 435.6,686.3 435.7,695.6 435.9,696.0 436.1,687.8 436.2,673.7 436.4,676.4 436.6,689.0 436.7,694.7 436.9,690.7 437.1,676.6 437.2,674.0 437.4,677.0 437.6,690.9 437.7,694.9 437.9,685.4 438.1,678.0 438.2,672.8 438.4,678.2 438.6,686.5 438.7,700.5 438.9,694.3 439.1,681.7 439.2,675.5 439.4,678.2 439.6,686.1 439.7,691.6 439.9,690.6 440.1,682.5 440.2,675.3 440.4,675.8 440.6,689.2 440.7,693.3 440.9,683.8 441.1,675.3 441.2,675.6 441.4,679.4 441.6,691.8 441.7,696.0 441.9,693.5 442.1,676.0 442.2,673.3 442.4,681.3 442.6,699.2 442.7,693.0 442.9,683.4 443.1,672.1 443.2,674.0 443.4,680.5 443.6,691.7 443.7,693.9 443.9,690.3 444.1,681.2 444.2,676.0 444.4,678.8 444.6,685.1 444.7,689.8 444.9,691.4 445.1,686.8 445.2,679.3 445.4,676.7 445.6,681.1 445.7,694.9 445.9,689.4 446.1,680.7 446.2,676.1 446.4,677.2 446.6,694.5 446.7,694.0 446.9,688.3 447.1,675.2 447.2,673.7 447.4,680.2 447.6,688.5 447.7,695.9 447.9,688.6 448.1,677.2 448.2,675.8 448.4,686.6 448.6,692.0 448.7,692.4 448.9,684.6 449.1,677.4 449.2,680.3 449.4,688.6 449.6,690.5 449.7,687.4 449.9,682.0 450.1,678.0 450.2,679.3 450.4,688.8 450.6,691.3 450.7,689.5 450.9,683.7 451.1,677.8 451.2,682.4 451.4,689.4 451.6,691.4 451.7,687.5 451.9,682.4 452.1,677.6 452.2,679.8 452.4,689.2 452.6,691.3 452.7,685.9 452.9,678.8 453.1,677.3 453.2,681.7 453.4,689.7 453.6,693.9 453.7,691.5 453.9,682.0 454.1,674.4 454.2,680.7 454.4,690.5 454.6,695.2 454.7,689.2 454.9,677.8 455.1,676.2 455.2,685.0 455.4,693.4 455.6,691.5 455.7,679.2 455.9,675.9 456.1,683.6 456.2,689.8 456.4,692.8 456.6,688.4 456.7,680.8 456.9,677.3 457.1,677.7 457.2,682.9 457.4,687.8 457.6,691.4 457.7,687.7 457.9,680.6 458.1,678.1 458.2,680.5 458.4,686.8 458.6,691.9 458.7,689.2 458.9,677.7 459.1,676.6 459.2,687.6 459.4,693.3 459.6,690.5 459.7,684.7 459.9,676.3 460.1,676.9 460.2,683.4 460.4,691.6 460.6,693.0 460.7,683.0 460.9,676.2 461.1,680.1 461.2,689.4 461.4,693.2 461.6,685.2 461.7,676.8 461.9,678.5 462.1,686.0 462.2,692.3 462.4,690.8 462.6,681.3 462.7,676.3 462.9,679.3 463.1,689.9 463.2,693.6 463.4,690.9 463.6,682.4 463.7,675.6 463.9,684.7 464.1,692.0 464.3,688.9 464.4,680.4 464.6,676.4 464.8,679.7 464.9,688.0 465.1,693.7 465.3,682.0 465.4,673.8 465.6,683.4 465.8,695.7 465.9,694.2 466.1,683.1 466.3,674.2 466.4,683.1 466.6,690.6 466.8,691.6 466.9,687.3 467.1,682.1 467.3,678.8 467.4,685.4 467.6,690.0 467.8,688.4 467.9,681.9 468.1,673.6 468.3,678.8 468.4,685.6 468.6,690.9 468.8,692.5 468.9,689.0 469.1,684.2 469.3,678.3 469.4,679.0 469.6,685.4 469.8,694.2 469.9,689.6 470.1,685.1 470.3,678.3 470.4,677.4 470.6,684.1 470.8,690.0 470.9,692.8 471.1,686.6 471.3,676.2 471.4,677.2 471.6,687.4 471.8,692.2 471.9,691.4 472.1,687.7 472.3,678.4 472.4,678.0 472.6,684.4 472.8,692.1 472.9,686.7 473.1,678.0 473.3,680.9 473.4,687.5 473.6,693.4 473.8,685.7 473.9,678.7 474.1,678.7 474.3,686.5 474.4,697.5 474.6,685.5 474.8,676.6 474.9,679.0 475.1,690.0 475.3,691.1 475.4,682.1 475.6,677.1 475.8,683.9 475.9,690.0 476.1,692.2 476.3,686.5 476.4,679.8 476.6,676.3 476.8,684.6 476.9,690.5 477.1,693.6 477.3,690.3 477.4,677.9 477.6,675.7 477.8,687.8 477.9,693.2 478.1,690.6 478.3,680.6 478.4,678.5 478.6,678.8 478.8,684.6 478.9,688.6 479.1,689.9 479.3,684.2 479.4,677.9 479.6,678.4 479.8,681.4 479.9,688.4 480.1,698.8 480.3,691.0 480.4,684.4 480.6,677.4 480.8,677.0 480.9,678.9 481.1,687.5 481.3,692.7 481.4,689.2 481.6,680.0 481.8,677.0 481.9,677.9 482.1,687.1 482.3,692.7 482.4,689.2 482.6,681.8 482.8,677.9 482.9,677.8 483.1,688.0 483.3,695.4 483.4,691.4 483.6,680.2 483.8,674.8 483.9,684.8 484.1,695.2 484.3,690.2 484.4,680.2 484.6,674.4 484.8,678.8 484.9,689.8 485.1,694.5 485.3,690.3 485.4,679.1 485.6,674.2 485.8,683.4 485.9,693.5 486.1,690.9 486.3,681.9 486.4,676.1 486.6,676.6 486.8,681.9 486.9,689.2 487.1,693.9 487.3,688.5 487.4,680.6 487.6,678.0 487.8,682.3 487.9,687.6 488.1,689.9 488.3,684.6 488.4,680.6 488.6,678.8 488.8,682.7 488.9,689.6 489.1,688.8 489.3,683.9 489.4,678.4 489.6,679.3 489.8,685.8 489.9,690.6 490.1,692.3 490.3,682.9 490.4,678.4 490.6,677.1 490.8,684.3 490.9,692.6 491.1,690.7 491.3,684.6 491.4,679.7 491.6,678.1 491.8,681.9 491.9,687.6 492.1,690.8 492.3,688.6 492.4,684.4 492.6,679.2 492.8,679.8 492.9,686.2 493.1,691.2 493.3,690.1 493.4,684.8 493.6,678.4 493.8,676.1 493.9,686.3 494.1,692.8 494.3,694.3 494.4,690.6 494.6,680.2 494.8,675.1 494.9,680.6 495.1,693.6 495.3,694.5 495.4,684.9 495.6,676.4 495.8,675.7 495.9,683.1 496.1,689.8 496.3,692.8 496.4,686.5 496.6,678.3 496.8,678.3 496.9,685.0 497.1,690.8 497.3,687.5 497.4,680.5 497.6,678.3 497.8,678.4 497.9,686.5 498.1,692.6 498.3,689.8 498.4,682.0 498.6,676.0 498.8,681.1 498.9,689.9 499.1,693.6 499.3,684.1 499.4,676.2 499.6,680.9 499.8,691.4 499.9,693.4 500.1,692.0 500.3,680.8 500.4,676.3 500.6,681.8 500.8,688.7 500.9,692.0 501.1,690.5 501.3,680.4 501.4,677.5 501.6,679.9 501.8,685.4 501.9,691.1 502.1,692.7 502.3,689.9 502.4,684.2 502.6,677.8 502.8,677.2 502.9,683.4 503.1,692.2 503.3,688.0 503.4,682.9 503.6,678.2 503.8,677.7 503.9,683.1 504.1,691.5 504.3,687.3 504.4,681.0 504.6,679.0 504.8,681.1 504.9,686.6 505.1,689.9 505.3,687.7 505.4,681.0 505.6,678.7 505.8,685.2 505.9,689.8 506.1,692.1 506.3,685.5 506.4,676.8 506.6,679.1 506.8,685.4 506.9,691.3 507.1,686.8 507.3,678.9 507.4,678.9 507.6,685.3 507.8,690.9 507.9,690.1 508.1,681.0 508.3,678.2 508.4,685.9 508.6,691.4 508.8,691.7 508.9,681.6 509.1,677.4 509.3,676.2 509.4,682.7 509.6,688.0 509.8,691.9 509.9,692.3 510.1,683.0 510.3,672.6 510.4,680.0 510.6,687.3 510.8,691.6 510.9,689.4 511.1,685.0 511.3,673.3 511.4,679.4 511.6,683.8 511.8,690.0 511.9,692.0 512.1,689.3 512.3,679.2 512.4,676.9 512.6,682.8 512.8,692.8 512.9,691.5 513.1,680.5 513.3,676.5 513.4,681.1 513.6,690.6 513.8,692.5 513.9,691.4 514.1,680.2 514.3,677.1 514.4,677.9 514.6,685.8 514.8,691.8 514.9,692.2 515.1,682.4 515.3,677.4 515.4,679.1 515.6,683.6 515.8,692.6 515.9,692.8 516.1,685.0 516.3,676.3 516.4,680.8 516.6,690.2 516.8,693.7 516.9,686.3 517.1,679.6 517.3,677.2 517.4,683.1 517.6,690.7 517.8,689.6 517.9,683.6 518.1,677.9 518.3,680.2 518.4,689.5 518.6,691.5 518.8,690.1 518.9,684.2 519.1,678.0 519.3,679.1 519.4,687.1 519.6,692.1 519.8,684.7 519.9,677.9 520.1,677.2 520.3,682.6 520.4,689.2 520.6,692.1 520.8,687.3 520.9,682.0 521.1,677.5 521.3,681.2 521.4,690.3 521.6,690.8 521.8,683.9 521.9,678.0 522.1,676.8 522.3,688.8 522.4,693.7 522.6,692.0 522.8,685.6 522.9,680.0 523.1,675.3 523.3,679.0 523.4,688.1 523.6,692.2 523.8,687.0 523.9,678.8 524.1,679.6 524.3,683.8 524.4,689.5 524.6,689.5 524.8,686.4 524.9,680.2 525.1,679.3 525.3,681.2 525.4,686.8 525.6,691.0 525.8,690.9 525.9,682.4 526.1,678.6 526.3,680.5 526.4,687.0 526.6,690.0 526.8,689.8 526.9,683.5 527.1,678.9 527.3,680.6 527.4,684.0 527.6,687.4 527.8,689.9 527.9,688.3 528.1,683.1 528.3,679.2 528.4,677.7 528.6,683.8 528.8,690.1 528.9,692.2 529.1,690.2 529.3,681.5 529.4,676.9 529.6,680.0 529.8,687.4 529.9,691.9 530.1,692.1 530.3,686.4 530.4,679.0 530.6,676.7 530.8,679.9 530.9,687.2 531.1,692.2 531.3,687.2 531.4,679.4 531.6,678.0 531.8,683.7 531.9,692.2 532.1,691.7 532.3,681.9 532.4,675.9 532.6,680.8 532.8,690.5 532.9,693.7 533.1,683.7 533.3,678.5 533.4,678.1 533.6,685.1 533.8,689.9 533.9,691.6 534.1,684.5 534.3,680.1 534.4,677.5 534.6,682.9 534.8,690.3 534.9,687.6 535.1,681.1 535.3,679.0 535.4,680.0 535.6,685.0 535.8,688.4 535.9,690.2 536.1,687.0 536.3,680.4 536.4,678.0 536.6,685.5 536.8,692.0 536.9,693.1 537.1,683.5 537.3,675.4 537.4,678.7 537.6,689.9 537.8,695.2 537.9,688.4 538.1,676.1 538.3,675.7 538.4,681.7 538.6,692.0 538.8,695.0 538.9,688.6 539.1,678.9 539.3,675.7 539.4,684.3 539.6,691.2 539.8,691.8 539.9,686.6 540.1,678.0 540.3,679.3 540.4,685.6 540.6,689.6 540.8,690.4 540.9,687.6 541.1,680.9 541.3,674.7 541.4,683.0 541.6,689.8 541.8,690.9 541.9,686.0 542.1,678.7 542.3,675.2 542.4,677.3 542.6,690.3 542.8,692.8 542.9,685.8 543.1,676.1 543.3,680.5 543.4,691.3 543.6,690.5 543.8,685.1 543.9,680.9 544.1,679.2 544.3,682.6 544.4,686.3 544.6,691.5 544.8,687.8 544.9,682.4 545.1,676.9 545.3,678.1 545.4,684.3 545.6,690.1 545.8,692.5 545.9,688.5 546.1,678.1 546.3,677.2 546.4,681.2 546.6,686.3 546.8,692.6 546.9,684.6 547.1,678.7 547.3,677.0 547.4,679.6 547.6,686.3 547.8,692.9 547.9,691.9 548.1,683.9 548.3,678.6 548.4,678.7 548.6,688.9 548.8,690.9 548.9,689.9 549.1,685.2 549.3,680.0 549.4,678.2 549.6,679.6 549.8,682.9 549.9,690.3 550.1,691.6 550.3,689.4 550.4,679.6 550.6,675.4 550.8,681.3 550.9,689.0 551.1,696.0 551.3,685.1 551.4,671.5 551.6,676.6 551.8,687.7 551.9,699.8 552.1,685.3 552.3,671.0 552.4,673.4 552.6,687.0 552.8,697.7 552.9,689.5 553.1,679.2 553.3,675.6 553.4,661.9 553.6,685.9 553.8,692.2 553.9,704.6 554.1,682.8 554.3,675.5 554.4,680.4 554.6,692.6 554.8,692.7 554.9,679.6 555.1,673.7 555.3,675.1 555.4,684.2 555.6,695.6 555.8,697.4 555.9,692.8 556.1,682.2 556.3,672.4 556.4,678.2 556.6,689.6 556.8,697.3 556.9,693.7 557.1,675.8 557.3,671.9 557.4,677.0 557.6,692.3 557.8,696.0 557.9,689.9 558.1,673.5 558.3,675.4 558.4,686.3 558.6,695.9 558.8,693.3 558.9,686.3 559.1,674.4 559.3,673.5 559.4,684.8 559.6,692.4 559.8,695.2 559.9,690.0 560.1,674.2 560.3,676.6 560.4,691.7 560.6,698.4 560.8,698.3 560.9,689.5 561.1,671.0 561.3,671.2 561.4,680.1 561.6,690.1 561.8,698.3 561.9,694.9 562.1,685.3 562.3,673.5 562.4,678.4 562.6,686.5 562.8,694.1 562.9,693.8 563.1,680.5 563.3,674.8 563.4,678.5 563.6,691.1 563.8,696.1 563.9,690.6 564.1,679.4 564.3,673.6 564.4,660.9 564.6,689.8 564.8,698.7 564.9,703.5 565.1,681.2 565.3,671.9 565.4,679.5 565.6,688.0 565.8,696.8 565.9,696.0 566.1,685.1 566.3,674.0 566.4,673.7 566.6,684.0 566.8,698.7 566.9,687.8 567.1,672.4 567.3,672.8 567.4,681.5 567.6,691.1 567.8,696.7 567.9,693.4 568.1,682.2 568.3,675.2 568.5,681.6 568.6,693.3 568.8,690.5 569.0,677.6 569.1,676.8 569.3,685.3 569.5,691.3 569.6,694.3 569.8,686.8 570.0,677.0 570.1,672.8 570.3,678.9 570.5,688.8 570.6,698.2 570.8,690.0 571.0,679.8 571.1,671.7 571.3,677.7 571.5,697.4 571.6,700.6 571.8,695.0 572.0,683.8 572.1,670.4 572.3,675.5 572.5,686.2 572.6,699.2 572.8,689.0 573.0,678.6 573.1,670.5 573.3,676.0 573.5,690.7 573.6,697.7 573.8,695.5 574.0,682.0 574.1,673.9 574.3,672.6 574.5,678.2 574.6,693.2 574.8,698.4 575.0,682.9 575.1,673.5 575.3,675.3 575.5,690.1 575.6,698.8 575.8,683.0 576.0,670.9 576.1,671.3 576.3,688.2 576.5,698.9 576.6,695.2 576.8,677.3 577.0,669.6 577.1,670.9 577.3,685.6 577.5,695.8 577.6,699.6 577.8,686.3 578.0,672.5 578.1,669.2 578.3,683.1 578.5,698.5 578.6,700.9 578.8,685.2 579.0,671.1 579.1,673.9 579.3,684.3 579.5,700.5 579.6,700.2 579.8,685.9 580.0,674.4 580.1,671.1 580.3,690.3 580.5,699.7 580.6,689.1 580.8,676.7 581.0,672.5 581.1,683.3 581.3,693.0 581.5,694.7 581.6,680.4 581.8,671.9 582.0,678.7 582.1,691.0 582.3,697.4 582.5,687.1 582.6,676.1 582.8,671.5 583.0,675.1 583.1,687.2 583.3,698.1 583.5,690.9 583.6,678.2 583.8,675.2 584.0,684.4 584.1,693.5 584.3,692.5 584.5,682.6 584.6,674.7 584.8,677.4 585.0,691.7 585.1,696.8 585.3,692.9 585.5,681.7 585.6,665.9 585.8,675.8 586.0,692.1 586.1,700.4 586.3,694.9 586.5,687.1 586.6,673.4 586.8,678.9 587.0,687.7 587.1,697.3 587.3,696.3 587.5,687.2 587.6,675.8 587.8,673.0 588.0,681.4 588.1,692.3 588.3,697.8 588.5,688.1 588.6,677.8 588.8,671.1 589.0,672.3 589.1,690.3 589.3,699.3 589.5,685.9 589.6,673.0 589.8,673.7 590.0,688.4 590.1,695.2 590.3,699.5 590.5,690.7 590.6,676.7 590.8,672.8 591.0,682.4 591.1,692.3 591.3,692.7 591.5,685.9 591.6,679.3 591.8,678.4 592.0,681.2 592.1,686.3 592.3,690.6 592.5,689.0 592.6,683.7 592.8,678.2 593.0,680.8 593.1,690.8 593.3,691.2 593.5,681.4 593.6,677.6 593.8,682.2 594.0,687.8 594.1,691.6 594.3,686.4 594.5,678.6 594.6,678.4 594.8,684.9 595.0,691.3 595.1,690.9 595.3,681.7 595.5,677.9 595.6,676.0 595.8,685.3 596.0,692.9 596.1,689.5 596.3,684.5 596.5,675.6 596.6,681.5 596.8,691.5 597.0,692.9 597.1,688.3 597.3,680.3 597.5,676.9 597.6,681.6 597.8,692.2 598.0,689.5 598.1,684.5 598.3,678.1 598.5,678.9 598.6,685.2 598.8,692.0 599.0,686.1 599.1,680.3 599.3,676.9 599.5,686.0 599.6,695.0 599.8,687.3 600.0,677.8 600.1,674.9 600.3,681.7 600.5,693.5 600.6,696.1 600.8,674.7 601.0,667.0 601.1,682.6 601.3,694.2 601.5,698.5 601.6,683.3 601.8,675.1 602.0,680.4 602.1,688.1 602.3,692.0 602.5,691.4 602.6,682.2 602.8,676.0 603.0,675.9 603.1,681.5 603.3,692.7 603.5,690.6 603.6,677.8 603.8,675.2 604.0,679.7 604.1,691.7 604.3,690.9 604.5,682.1 604.6,677.8 604.8,679.3 605.0,683.5 605.1,691.0 605.3,689.7 605.5,683.2 605.6,678.3 605.8,681.5 606.0,689.0 606.1,691.9 606.3,686.3 606.5,677.5 606.6,678.0 606.8,685.8 607.0,691.1 607.1,693.8 607.3,688.4 607.5,680.2 607.6,674.2 607.8,681.1 608.0,691.9 608.1,690.9 608.3,683.7 608.5,677.0 608.6,680.2 608.8,688.2 609.0,691.4 609.1,688.8 609.3,682.7 609.5,679.3 609.6,678.8 609.8,683.4 610.0,689.0 610.1,692.4 610.3,688.0 610.5,678.5 610.6,678.8 610.8,687.9 611.0,691.7 611.1,687.6 611.3,682.3 611.5,677.4 611.6,681.3 611.8,686.3 612.0,693.0 612.1,692.0 612.3,686.5 612.5,679.6 612.6,674.1 612.8,679.2 613.0,687.2 613.1,694.8 613.3,689.8 613.5,676.9 613.6,674.9 613.8,681.2 614.0,695.1 614.1,694.9 614.3,683.2 614.5,667.0 614.6,682.6 614.8,689.1 615.0,693.1 615.1,686.5 615.3,677.5 615.5,681.0 615.6,690.3 615.8,691.6 616.0,687.1 616.1,680.9 616.3,676.2 616.5,681.6 616.6,692.0 616.8,692.2 617.0,688.0 617.1,679.8 617.3,677.7 617.5,683.1 617.6,688.7 617.8,690.7 618.0,687.7 618.1,682.7 618.3,678.9 618.5,678.0 618.6,686.4 618.8,694.1 619.0,692.9 619.1,685.3 619.3,676.9 619.5,662.0 619.6,675.7 619.8,690.8 620.0,698.5 620.1,700.6 620.3,692.9 620.5,672.7 620.6,665.4 620.8,671.4 621.0,695.2 621.1,699.4 621.3,689.1 621.5,653.8 621.6,671.6 621.8,686.5 622.0,717.8 622.1,691.8 622.3,677.2 622.5,670.8 622.6,677.2 622.8,688.2 623.0,693.9 623.1,691.7 623.3,681.6 623.5,673.6 623.6,675.9 623.8,682.7 624.0,696.3 624.1,691.0 624.3,678.7 624.5,668.2 624.6,680.0 624.8,693.1 625.0,697.1 625.1,683.9 625.3,670.8 625.5,670.3 625.6,690.2 625.8,695.9 626.0,697.2 626.1,686.8 626.3,673.4 626.5,676.8 626.6,686.0 626.8,694.3 627.0,690.9 627.1,680.2 627.3,673.4 627.5,675.0 627.6,683.5 627.8,693.8 628.0,693.4 628.1,687.0 628.3,677.9 628.5,671.0 628.6,684.9 628.8,693.7 629.0,694.7 629.1,677.5 629.3,669.8 629.5,682.8 629.6,695.3 629.8,695.4 630.0,687.9 630.1,673.4 630.3,670.1 630.5,662.9 630.6,699.6 630.8,694.9 631.0,710.7 631.1,666.6 631.3,672.1 631.5,684.9 631.6,695.7 631.8,698.7 632.0,689.8 632.1,672.7 632.3,668.9 632.5,676.1 632.6,686.8 632.8,702.1 633.0,694.9 633.1,682.8 633.3,671.1 633.5,678.8 633.6,694.4 633.8,693.6 634.0,686.7 634.1,670.8 634.3,675.9 634.5,690.5 634.6,698.6 634.8,688.2 635.0,677.2 635.1,670.4 635.3,672.0 635.5,681.8 635.6,694.1 635.8,693.6 636.0,685.1 636.1,675.1 636.3,677.6 636.5,685.6 636.6,692.8 636.8,687.4 637.0,680.1 637.1,678.2 637.3,677.2 637.5,688.4 637.6,691.2 637.8,684.9 638.0,678.3 638.1,679.3 638.3,687.9 638.5,690.6 638.6,684.9 638.8,680.2 639.0,678.8 639.1,680.8 639.3,688.2 639.5,691.1 639.6,687.3 639.8,678.3 640.0,679.5 640.1,687.2 640.3,692.9 640.5,688.8 640.6,683.1 640.8,676.9 641.0,683.5 641.1,692.0 641.3,691.3 641.5,685.5 641.6,677.5 641.8,675.4 642.0,681.7 642.1,688.2 642.3,694.1 642.5,688.2 642.6,680.8 642.8,674.3 643.0,685.3 643.1,695.0 643.3,690.1 643.5,681.6 643.6,676.9 643.8,681.3 644.0,688.5 644.1,691.5 644.3,689.7 644.5,682.1 644.6,677.1 644.8,679.6 645.0,688.6 645.1,693.7 645.3,690.0 645.5,678.1 645.6,676.2 645.8,686.2 646.0,693.8 646.1,690.3 646.3,678.3 646.5,676.3 646.6,682.5 646.8,693.1 647.0,691.3 647.1,677.8 647.3,676.5 647.5,679.3 647.6,691.7 647.8,692.6 648.0,684.3 648.1,675.7 648.3,676.7 648.5,684.8 648.6,691.2 648.8,691.5 649.0,687.1 649.1,682.1 649.3,678.3 649.5,680.9 649.6,687.4 649.8,691.0 650.0,687.7 650.1,682.1 650.3,679.0 650.5,682.4 650.6,689.9 650.8,690.9 651.0,687.3 651.1,680.8 651.3,678.4 651.5,683.2 651.6,688.6 651.8,691.6 652.0,690.8 652.1,687.4 652.3,679.6 652.5,676.8 652.6,683.2 652.8,691.7 653.0,693.4 653.1,689.8 653.3,683.7 653.5,676.0 653.6,679.4 653.8,687.5 654.0,692.5 654.1,687.0 654.3,678.3 654.5,677.6 654.6,685.5 654.8,692.5 655.0,690.5 655.1,683.7 655.3,676.9 655.5,679.6 655.6,689.0 655.8,693.1 656.0,691.0 656.1,679.5 656.3,676.6 656.5,678.8 656.6,688.9 656.8,692.6 657.0,689.3 657.1,679.3 657.3,677.2 657.5,686.3 657.6,692.9 657.8,689.1 658.0,681.9 658.1,675.5 658.3,682.8 658.5,688.9 658.6,693.0 658.8,690.4 659.0,682.8 659.1,676.9 659.3,682.1 659.5,688.4 659.6,691.9 659.8,689.1 660.0,683.4 660.1,677.3 660.3,678.5 660.5,685.4 660.6,689.7 660.8,690.1 661.0,686.8 661.1,678.5 661.3,677.5 661.5,680.9 661.6,689.7 661.8,695.2 662.0,688.1 662.1,681.2 662.3,676.5 662.5,679.5 662.6,686.3 662.8,693.4 663.0,692.3 663.1,685.1 663.3,677.4 663.5,677.4 663.6,680.0 663.8,689.1 664.0,696.8 664.1,686.6 664.3,678.5 664.5,676.0 664.6,680.9 664.8,690.4 665.0,693.6 665.1,685.0 665.3,675.2 665.5,679.6 665.6,689.7 665.8,694.0 666.0,689.9 666.1,678.6 666.3,675.8 666.5,682.6 666.6,692.6 666.8,694.0 667.0,690.5 667.1,676.8 667.3,674.7 667.5,682.7 667.6,694.6 667.8,694.8 668.0,689.6 668.1,675.9 668.3,674.6 668.5,685.2 668.6,693.5 668.8,693.9 669.0,685.8 669.1,673.9 669.3,675.1 669.5,681.8 669.6,696.8 669.8,696.0 670.0,680.7 670.1,670.6 670.3,673.5 670.5,685.1 670.6,696.9 670.8,700.6 671.0,691.6 671.1,681.3 671.3,671.2 671.5,678.2 671.6,696.6 671.8,698.6 672.0,683.2 672.1,671.5 672.3,677.7 672.5,696.2 672.7,696.7 672.8,677.8 673.0,670.9 673.2,680.2 673.3,696.4 673.5,692.3 673.7,678.8 673.8,674.7 674.0,682.1 674.2,693.4 674.3,694.8 674.5,689.4 674.7,676.7 674.8,675.1 675.0,683.0 675.2,695.0 675.3,689.9 675.5,675.4 675.7,676.4 675.8,691.4 676.0,698.2 676.2,692.3 676.3,678.1 676.5,672.2 676.7,689.0 676.8,701.2 677.0,696.5 677.2,675.6 677.3,670.1 677.5,674.0 677.7,690.0 677.8,700.9 678.0,698.2 678.2,684.0 678.3,668.4 678.5,669.7 678.7,689.3 678.8,701.6 679.0,698.3 679.2,678.1 679.3,668.6 679.5,676.0 679.7,696.4 679.8,700.2 680.0,687.8 680.2,677.7 680.3,675.0 680.5,685.4 680.7,696.1 680.8,690.7 681.0,678.9 681.2,672.9 681.3,687.1 681.5,695.0 681.7,700.8 681.8,692.7 682.0,674.6 682.2,672.2 682.3,680.9 682.5,694.9 682.7,694.7 682.8,680.9 683.0,675.3 683.2,685.4 683.3,695.9 683.5,696.6 683.7,690.9 683.8,676.9 684.0,675.3 684.2,679.5 684.3,695.6 684.5,694.5 684.7,682.6 684.8,674.5 685.0,674.1 685.2,689.2 685.3,699.2 685.5,697.0 685.7,688.4 685.8,671.7 686.0,677.3 686.2,696.8 686.3,701.5 686.5,680.1 686.7,670.0 686.8,674.5 687.0,691.5 687.2,701.5 687.3,692.9 687.5,673.8 687.7,672.6 687.8,691.0 688.0,663.0 688.2,695.5 688.3,680.5 688.5,673.8 688.7,673.0 688.8,685.4 689.0,696.4 689.2,696.5 689.3,688.3 689.5,675.5 689.7,672.7 689.8,684.0 690.0,698.1 690.2,698.8 690.3,693.3 690.5,676.5 690.7,671.7 690.8,670.9 691.0,689.1 691.2,699.3 691.3,695.1 691.5,681.4 691.7,666.8 691.8,674.0 692.0,694.9 692.2,704.6 692.3,695.7 692.5,669.8 692.7,637.5 692.8,676.5 693.0,700.5 693.2,714.7 693.3,681.8 693.5,669.7 693.7,665.9 693.8,681.1 694.0,702.8 694.2,695.7 694.3,679.0 694.5,672.9 694.7,682.0 694.8,695.3 695.0,695.1 695.2,682.8 695.3,674.1 695.5,652.8 695.7,695.9 695.8,698.3 696.0,681.5 696.2,671.0 696.3,684.4 696.5,700.3 696.7,696.4 696.8,677.2 697.0,672.5 697.2,679.2 697.3,694.0 697.5,697.9 697.7,682.7 697.8,669.8 698.0,681.1 698.2,696.7 698.3,702.0 698.5,688.2 698.7,668.6 698.8,676.3 699.0,688.3 699.2,704.7 699.3,693.3 699.5,676.8 699.7,670.0 699.8,683.7 700.0,697.8 700.2,703.1 700.3,684.9 700.5,674.3 700.7,664.1 700.8,677.4 701.0,693.0 701.2,705.0 701.3,695.6 701.5,671.4 701.7,669.2 701.8,684.2 702.0,697.5 702.2,701.0 702.3,685.5 702.5,674.2 702.7,675.6 702.8,683.8 703.0,694.5 703.2,698.2 703.3,684.0 703.5,676.0 703.7,638.6 703.8,678.7 704.0,695.0 704.2,733.0 704.3,680.2 704.5,672.8 704.7,679.1 704.8,690.9 705.0,698.9 705.2,688.2 705.3,679.0 705.5,672.6 705.7,674.1 705.8,686.1 706.0,697.4 706.2,691.4 706.3,676.5 706.5,677.7 706.7,693.5 706.8,699.5 707.0,692.7 707.2,675.0 707.3,675.9 707.5,693.6 707.7,701.0 707.8,689.8 708.0,671.7 708.2,675.8 708.3,684.4 708.5,697.8 708.7,696.2 708.8,690.3 709.0,676.9 709.2,676.2 709.3,691.0 709.5,703.0 709.7,694.0 709.8,668.8 710.0,671.0 710.2,692.4 710.3,704.1 710.5,703.1 710.7,686.0 710.8,670.5 711.0,667.6 711.2,691.0 711.3,705.0 711.5,693.1 711.7,681.7 711.8,670.9 712.0,673.2 712.2,688.2 712.3,700.2 712.5,690.9 712.7,679.1 712.8,674.1 713.0,677.9 713.2,690.6 713.3,696.2 713.5,693.4 713.7,679.2 713.8,673.9 714.0,683.3 714.2,695.9 714.3,692.5 714.5,679.6 714.7,671.0 714.8,674.4 715.0,688.6 715.2,704.2 715.3,694.6 715.5,681.2 715.7,668.3 715.8,680.1 716.0,694.2 716.2,700.1 716.3,692.1 716.5,671.1 716.7,673.0 716.8,678.6 717.0,687.4 717.2,697.8 717.3,693.5 717.5,676.6 717.7,671.9 717.8,689.3 718.0,700.5 718.2,699.8 718.3,689.2 718.5,676.7 718.7,669.6 718.8,687.0 719.0,701.9 719.2,694.3 719.3,674.5 719.5,666.8 719.7,676.1 719.8,692.8 720.0,699.6 720.2,691.2 720.3,670.9 720.5,668.4 720.7,684.4 720.8,700.5 721.0,695.9 721.2,678.6 721.3,669.1 721.5,675.3 721.7,688.4 721.8,702.2 722.0,687.7 722.2,677.4 722.3,671.0 722.5,674.9 722.7,692.7 722.8,698.9 723.0,696.4 723.2,684.3 723.3,672.6 723.5,674.9 723.7,682.0 723.8,693.0 724.0,697.8 724.2,696.2 724.3,680.9 724.5,672.5" fill="none" stroke="#0000ff" stroke-width="1.7" stroke-linejoin="round" stroke-linecap="round"/>
</g>
<clipPath id="cr0"><rect x="895.5" y="65.5" width="525.5" height="188.0"/></clipPath>
<g clip-path="url(#cr0)"><rect x="895.5" y="65.5" width="525.5" height="188.0" fill="#00008f"/>
<g filter="url(#blr)"><path fill="#0000bf" fill-rule="evenodd" d="M1405.9 214.6 1405.4 221.6 1405.1 236.6 1405.6 236.9 1406.1 244.6 1406.9 244.9 1406.9 248.9 1407.6 249.1 1407.6 253.4 1409.4 253.4 1409.9 232.9 1409.4 232.6 1409.4 229.1 1408.9 228.9 1408.9 225.4 1408.4 225.1 1408.4 221.6 1407.9 221.4 1407.4 214.6ZM1128.6 181.1 1127.4 201.4 1127.9 201.6 1128.4 211.1 1128.9 211.4 1129.4 221.4 1130.4 221.4 1131.6 198.4 1131.1 198.1 1130.9 192.4 1130.4 192.1 1129.6 181.1ZM1267.4 175.9 1266.9 181.1 1266.6 192.1 1267.4 204.4 1268.1 204.4 1268.9 189.6 1268.1 175.9ZM1238.6 175.9 1236.4 201.6 1235.9 225.1 1236.1 228.9 1236.6 229.1 1236.6 232.6 1237.1 232.9 1237.1 236.6 1237.6 236.9 1237.6 240.6 1238.4 240.9 1238.4 244.6 1240.1 244.6 1240.1 240.9 1240.9 240.6 1240.9 236.9 1241.4 236.6 1241.4 232.9 1241.9 232.6 1242.4 225.1 1242.4 214.6 1241.9 198.4 1239.9 175.9ZM1085.9 175.6 1085.9 178.4ZM1150.9 173.1 1148.9 173.1 1148.4 178.1 1147.6 178.4 1147.6 180.9 1147.1 181.1 1147.1 183.6 1146.6 183.9 1146.6 186.4 1146.1 186.6 1146.1 189.4 1145.6 189.6 1145.6 192.1 1145.1 192.4 1144.6 204.4 1143.6 214.6 1143.6 225.1 1144.1 229.1 1144.4 240.6 1145.1 240.9 1145.1 244.6 1146.1 244.9 1146.1 248.9 1147.1 249.1 1147.1 253.4 1149.9 253.4 1149.9 249.1 1150.9 248.9 1150.9 244.9 1151.9 244.6 1151.9 240.9 1152.6 240.6 1153.1 229.1 1153.6 228.9 1154.1 221.4 1153.1 195.4 1151.4 175.9 1150.9 175.6ZM942.9 170.6 942.4 178.1 941.9 178.4 940.9 192.1 940.4 192.4 939.9 217.9 940.9 232.6 941.6 232.9 941.6 236.6 942.4 236.9 942.4 240.6 945.6 240.6 945.6 236.9 946.4 236.6 946.4 232.9 947.1 232.6 947.6 225.1 947.6 207.9 947.1 195.4 945.6 178.4 945.1 178.1 944.4 170.6ZM1256.4 165.6 1255.6 181.1 1255.6 189.4 1256.1 195.4 1256.1 204.4 1256.6 211.1 1257.1 211.1 1258.1 183.9 1257.1 165.6ZM1133.6 147.1 1132.1 163.1 1132.9 192.1 1133.9 204.6 1133.9 211.1 1134.4 211.4 1134.4 214.4 1134.9 214.6 1134.9 217.9 1135.4 218.1 1135.4 221.4 1135.9 221.6 1135.9 225.1 1137.1 225.1 1138.1 204.4 1138.1 186.6 1137.6 170.6 1136.9 160.9 1136.4 160.6 1135.4 151.6 1134.9 151.4 1134.4 147.1ZM1188.6 145.1 1187.9 158.1 1188.6 167.9 1189.4 167.9 1190.1 156.1 1189.4 149.1 1189.4 145.1ZM896.1 140.9 895.6 145.1 895.6 195.1 896.1 201.4 896.9 201.6 897.4 207.6 897.9 207.9 897.9 211.1 898.9 211.4 898.9 214.4 901.1 214.4 901.6 207.9 902.1 207.6 902.4 201.6 902.9 201.4 902.9 181.1 899.9 151.6 899.4 151.4 898.9 145.1 898.4 144.9 897.9 140.9ZM1033.4 130.6 1033.4 132.9ZM931.6 130.9 931.1 162.9 931.9 170.6 931.9 175.6 932.4 178.4 932.6 189.4 933.4 195.4 933.6 204.4 934.4 204.4 934.9 158.4 933.4 144.9 932.9 134.9 932.4 130.9ZM1033.1 126.9 1033.1 128.9ZM1322.9 112.4 1322.9 116.1ZM1253.6 112.6 1252.6 112.6 1251.6 127.1 1251.6 132.6 1250.9 140.9 1249.9 170.4 1248.6 192.4 1248.1 211.1 1247.4 218.1 1247.6 228.9 1248.1 229.1 1248.1 232.6 1248.9 232.9 1248.9 236.6 1251.4 236.6 1251.4 232.9 1252.4 232.6 1252.4 229.1 1253.4 228.9 1253.4 225.4 1253.9 225.1 1254.6 192.4 1254.4 136.9ZM1409.1 99.6 1408.1 142.6 1408.6 149.4 1409.1 170.4 1409.9 170.4 1410.9 136.9 1410.4 126.9 1409.9 99.6ZM1233.6 96.4 1232.6 121.1 1233.6 140.6 1234.1 140.6 1235.1 123.1 1235.1 116.1 1234.1 96.4ZM1065.6 94.9 1065.4 121.1 1066.1 155.9 1067.1 175.9 1067.6 192.1 1068.4 192.4 1068.4 195.1 1068.9 195.4 1069.1 198.4 1069.4 221.4 1069.9 221.6 1069.9 225.1 1070.6 225.4 1071.1 232.6 1071.9 232.9 1071.9 236.6 1072.9 236.9 1072.9 240.6 1074.1 240.9 1074.1 244.6 1075.4 244.9 1075.4 248.9 1078.4 248.9 1078.4 244.9 1079.4 244.6 1079.4 240.9 1080.4 240.6 1080.4 236.9 1081.1 236.6 1081.1 232.9 1081.6 232.9 1081.6 236.6 1082.9 236.9 1082.9 240.6 1086.1 240.6 1086.1 236.9 1086.9 236.6 1086.9 232.9 1087.6 232.6 1087.6 229.1 1088.4 228.9 1088.9 221.4 1089.4 228.9 1089.9 229.1 1089.9 232.6 1090.4 232.9 1090.4 236.6 1091.4 236.9 1091.4 240.6 1092.6 240.9 1092.6 244.6 1096.9 244.6 1096.9 240.9 1098.4 240.6 1098.4 236.9 1099.6 236.6 1099.6 232.9 1100.4 232.6 1100.4 229.1 1100.9 228.9 1101.4 221.6 1102.1 221.4 1102.1 218.1 1102.9 217.9 1102.9 214.6 1103.6 214.4 1104.4 201.6 1104.9 201.4 1103.9 158.4 1102.4 130.9 1101.4 130.9 1101.1 138.6 1100.6 140.9 1099.4 175.6 1098.9 175.6 1098.4 170.6 1097.6 170.4 1097.6 168.1 1094.1 168.1 1094.1 170.4 1093.4 170.6 1092.9 175.6 1092.4 175.9 1092.4 178.1 1091.9 178.4 1091.9 180.9 1091.1 181.1 1091.1 183.6 1090.6 183.9 1090.6 186.4 1090.1 186.6 1089.6 192.1 1088.9 192.4 1088.9 195.1 1088.1 195.1 1087.6 189.6 1088.9 189.4 1089.1 181.1 1089.9 175.6 1089.9 138.9 1088.4 107.6 1087.4 107.6 1085.9 138.9 1085.9 175.6 1085.1 175.6 1085.1 173.1 1082.1 173.1 1082.1 175.6 1081.6 175.9 1081.6 178.1 1081.1 178.4 1080.9 183.6 1079.9 183.9 1079.6 181.1 1078.9 180.9 1078.9 178.4 1078.1 178.1 1078.1 175.9 1077.4 175.6 1077.4 173.1 1076.6 172.9 1076.6 170.6 1075.6 170.4 1075.6 168.1 1072.1 167.9 1071.9 160.9 1071.1 155.9 1070.9 147.1 1069.9 138.6 1069.4 127.1 1068.9 124.9 1067.6 105.9 1067.1 104.1 1066.4 94.9ZM1362.9 84.6 1362.1 84.6 1360.9 132.6 1359.9 145.1 1359.4 160.6 1358.6 165.6 1358.6 170.4 1357.6 178.4 1356.6 201.6 1356.6 217.9 1357.4 232.6 1358.6 232.6 1358.6 229.1 1359.4 228.9 1359.4 225.4 1360.1 225.1 1360.1 221.6 1360.9 221.4 1361.4 214.6 1361.9 214.4 1362.4 207.9 1362.9 207.6 1364.4 180.9 1364.6 153.9ZM1354.9 84.6 1354.1 84.6 1352.9 127.1 1352.9 160.6 1353.6 167.9 1354.4 167.9 1354.4 165.6 1354.9 165.4 1355.6 158.1 1356.1 134.6 1355.9 114.4ZM1346.6 84.6 1345.9 90.1 1346.6 94.6 1347.4 94.6 1348.1 89.1 1347.4 84.6ZM1074.1 84.6 1073.1 102.6 1074.1 132.6 1074.9 132.6 1075.9 99.6 1074.9 84.6ZM1081.4 80.6 1079.9 105.9 1079.9 114.1 1081.4 140.6 1082.1 140.6 1083.6 115.9 1083.6 104.4 1082.1 80.6ZM1042.1 77.9 1040.6 98.1 1040.6 102.6 1041.9 124.9 1042.4 128.6 1042.9 128.6 1044.1 112.4 1044.1 105.9 1044.6 99.6 1043.1 77.9ZM1009.4 75.1 1008.6 89.1 1008.6 100.9 1009.4 114.1 1010.1 114.1 1010.9 99.4 1010.9 90.4 1010.4 85.9 1010.1 76.4 1009.9 75.1ZM1375.9 65.6 1375.6 87.4 1374.6 115.9 1374.1 115.9 1373.4 104.4 1372.6 104.4 1371.6 110.9 1371.1 119.4 1370.4 123.4 1370.4 126.9 1369.9 128.9 1370.6 151.4 1370.1 155.9 1369.6 156.1 1369.6 183.6 1370.4 192.4 1370.4 198.1 1371.1 207.6 1371.6 207.9 1371.9 214.4 1372.6 214.6 1372.6 217.9 1373.9 218.1 1373.9 221.4 1375.4 221.6 1375.4 225.1 1377.1 225.4 1377.1 228.9 1379.9 228.9 1379.9 225.4 1380.9 225.1 1380.9 221.6 1381.6 221.4 1381.6 218.1 1382.6 217.9 1382.4 195.4 1381.9 192.1 1381.6 181.1 1381.1 178.1 1380.9 168.1 1380.4 165.4 1379.9 153.9 1380.6 149.1 1380.6 142.9 1382.9 107.6 1383.6 107.6 1384.1 119.4 1385.6 119.4 1386.1 121.4 1386.6 140.6 1385.9 140.9 1385.4 149.1 1384.4 156.1 1384.6 180.9 1385.4 204.4 1385.9 207.9 1385.9 214.4 1386.6 225.1 1387.1 225.4 1387.4 232.6 1387.9 232.9 1387.9 236.6 1388.4 236.9 1388.6 244.6 1389.4 244.6 1390.1 211.1 1390.1 183.9 1389.6 156.1 1388.9 149.4 1389.4 149.1 1389.6 145.1 1390.1 144.9 1390.4 140.9 1390.9 140.6 1391.4 134.9 1391.9 134.9 1392.1 186.4 1392.6 186.6 1393.1 195.1 1393.6 195.4 1394.4 204.4 1396.6 204.4 1397.4 195.4 1397.9 195.1 1398.4 186.6 1398.9 186.4 1398.9 158.4 1397.1 132.6 1396.4 109.1 1397.4 65.6ZM1316.4 65.6 1316.4 115.9 1316.6 117.6 1317.1 117.9 1317.6 121.4 1316.6 156.1 1316.6 189.4 1317.1 201.4 1318.1 201.6 1318.1 204.4 1320.1 204.4 1320.1 201.6 1321.1 201.4 1321.9 151.6 1322.4 151.6 1322.6 158.1 1323.4 165.4 1323.9 165.6 1324.4 170.4 1325.6 170.4 1325.6 168.1 1326.1 167.9 1326.1 165.6 1326.6 165.4 1327.4 158.1 1327.4 153.9 1327.9 151.4 1327.6 123.4 1326.4 98.1 1325.6 90.4 1324.6 90.4 1323.4 107.6 1323.4 112.4 1322.9 112.4 1323.1 65.6ZM1306.4 65.6 1304.9 151.6 1304.9 198.1 1305.4 201.6 1305.4 207.6 1306.4 221.4 1307.4 221.6 1307.4 225.1 1308.4 225.4 1308.4 228.9 1309.6 228.9 1309.6 225.4 1310.6 225.1 1310.6 221.6 1311.4 221.4 1312.6 198.1 1312.6 145.1 1311.4 94.6 1311.4 71.1 1311.1 65.6ZM1241.1 65.6 1241.9 124.9 1242.6 140.6 1243.4 140.6 1244.1 130.6 1244.6 114.1 1245.1 65.6ZM1059.6 65.6 1059.6 80.4 1060.4 94.6 1061.9 94.6 1062.6 78.9 1062.6 65.6ZM1028.4 65.6 1028.6 123.1 1029.4 149.4 1029.1 189.4 1029.9 204.6 1029.9 214.4 1030.1 217.9 1030.6 218.1 1030.9 225.1 1031.4 225.4 1032.1 236.6 1032.9 236.9 1032.9 240.6 1033.9 240.9 1033.9 244.6 1035.1 244.9 1035.1 248.9 1036.9 248.9 1036.9 244.9 1037.9 244.6 1037.9 240.9 1038.9 240.6 1038.9 236.9 1039.9 236.6 1039.9 232.9 1040.6 232.6 1040.6 229.1 1041.4 228.9 1041.4 225.4 1042.1 225.1 1042.1 221.6 1042.9 221.4 1042.9 218.1 1043.4 217.9 1043.4 214.6 1043.9 214.4 1044.9 195.4 1043.6 195.4 1043.6 198.1 1042.6 198.4 1042.6 201.4 1041.6 201.6 1041.6 204.4 1040.9 204.6 1040.9 207.6 1039.9 207.9 1039.9 211.1 1038.9 211.4 1038.9 214.4 1037.9 214.4 1037.1 186.6 1036.1 178.1 1036.1 173.1 1034.6 160.6 1034.1 147.1 1033.4 138.6 1033.4 132.9 1033.9 132.9 1034.9 149.1 1036.1 158.4 1036.6 165.4 1037.4 165.4 1036.9 119.6 1037.6 65.6 1032.9 65.6 1032.9 125.1 1032.4 114.1 1032.4 65.6ZM1019.6 65.6 1015.6 65.6 1015.4 132.6 1014.6 147.1 1013.6 192.4 1013.9 214.4 1014.9 240.6 1015.6 240.6 1017.1 189.4 1017.4 163.1 1019.4 130.6 1019.9 107.4ZM970.4 65.6 970.4 162.9 971.1 170.6 971.6 183.6 972.4 183.6 972.9 170.6 973.6 162.9 973.6 65.6ZM969.9 65.6 959.4 65.6 959.6 121.1 961.6 149.1 962.4 149.1 963.6 123.1 963.4 79.1 963.9 79.1 963.9 84.4 964.6 90.1 966.6 90.1 967.1 84.6 968.9 84.4 969.4 81.6ZM952.1 65.6 952.1 140.6 951.4 192.4 951.6 221.4 952.1 221.6 952.1 225.1 952.6 225.4 952.6 228.9 953.1 229.1 953.1 232.6 953.6 232.9 953.6 236.6 954.9 236.6 954.9 232.9 955.6 232.6 955.6 229.1 956.1 228.9 956.1 225.4 956.6 225.1 957.1 214.4 957.4 127.1 956.9 91.9 956.1 74.9 956.1 66.1 955.9 65.6ZM941.9 65.6 942.4 81.6 942.9 84.4 944.6 84.4 945.4 77.6 945.6 65.6ZM929.6 65.6 929.9 83.1 930.6 91.6 932.4 91.6 933.1 83.1 933.4 65.6ZM923.6 65.6 924.1 107.4 924.9 117.6 926.1 117.6 927.1 99.4 927.4 65.6ZM915.4 65.6 915.6 100.9 916.4 104.4 916.6 109.1 917.1 109.4 917.4 112.4 918.1 112.6 918.1 151.4 919.1 160.9 919.1 165.4 919.9 170.6 919.9 175.6 921.6 192.4 921.6 198.1 922.6 211.1 923.1 211.1 922.1 153.9 921.1 138.9 920.6 136.6 920.6 132.9 920.1 130.6 919.9 123.4 919.4 121.1 919.1 114.4 918.6 112.4 920.4 99.4 920.4 65.6ZM912.1 65.6 912.9 76.1 914.1 76.1 914.9 65.6ZM906.4 65.6 907.1 97.9 907.6 99.6 908.1 107.4 908.6 107.4 909.6 97.9 910.1 87.4 910.4 65.6Z"/>
<path fill="#0000e0" fill-rule="evenodd" d="M1406.1 218.1 1405.4 236.6 1405.9 236.9 1405.9 240.6 1406.6 240.9 1407.1 248.9 1407.9 249.1 1407.9 253.4 1409.1 253.4 1409.4 232.9 1408.9 232.6 1408.6 225.4 1408.1 225.1 1408.1 221.6 1407.4 221.4 1407.4 218.1ZM1128.6 189.6 1127.9 201.4 1128.4 201.6 1128.9 211.1 1130.4 211.1 1131.1 198.4 1130.6 198.1 1130.4 192.4 1129.9 192.1 1129.9 189.6ZM1267.1 186.6 1267.1 192.1 1268.4 192.1 1268.1 186.6ZM1256.4 178.4 1255.9 186.4 1256.4 189.6 1256.4 195.1 1257.1 195.1 1257.6 183.9 1257.4 178.4ZM1238.9 178.4 1236.9 198.4 1236.4 225.1 1236.9 232.6 1237.4 232.9 1237.4 236.6 1238.1 236.9 1238.1 240.6 1240.4 240.6 1240.9 232.9 1241.4 232.6 1241.4 229.1 1241.9 228.9 1242.1 221.6 1241.6 201.6 1240.6 192.1 1240.6 186.6 1240.1 186.4 1239.4 178.4ZM1150.6 175.9 1148.9 175.9 1148.9 178.1 1148.1 178.4 1148.1 180.9 1147.6 181.1 1147.6 183.6 1147.1 183.9 1147.1 186.4 1146.6 186.6 1146.1 192.1 1145.6 192.4 1144.9 201.6 1144.9 207.6 1144.1 214.6 1144.1 225.1 1144.6 229.1 1144.9 240.6 1145.6 240.9 1145.6 244.6 1146.4 244.9 1146.4 248.9 1147.9 249.1 1147.9 253.4 1149.1 253.4 1149.1 249.1 1150.6 248.9 1150.6 244.9 1151.4 244.6 1151.4 240.9 1152.1 240.6 1152.4 232.9 1152.9 232.6 1153.6 221.4 1152.6 195.4ZM942.9 175.9 942.9 178.1 942.4 178.4 941.9 186.4 941.4 186.6 940.9 192.4 940.4 204.6 940.9 228.9 941.4 229.1 941.4 232.6 942.1 232.9 942.1 236.6 942.9 236.9 942.9 240.6 945.1 240.6 945.1 236.9 945.9 236.6 945.9 232.9 946.6 232.6 947.4 211.4 946.9 198.4 945.1 178.4 944.6 178.1 944.6 175.9ZM1133.9 149.4 1133.9 151.4 1133.4 151.6 1132.9 156.1 1132.9 160.6 1132.4 163.1 1133.1 192.1 1133.9 198.4 1133.9 204.4 1134.6 214.4 1135.1 214.6 1135.6 221.4 1137.1 221.4 1137.6 214.4 1137.9 198.1 1137.1 165.6 1136.6 160.9 1136.1 160.6 1135.9 156.1 1135.4 155.9 1135.4 153.9 1134.9 153.6 1134.4 149.4ZM932.4 147.1 931.6 160.6 932.6 170.6 932.6 175.6 933.1 175.9 933.1 178.1 933.6 178.1 934.1 172.9 934.1 156.1 933.4 149.4 932.9 149.1 932.9 147.1ZM896.4 142.9 896.1 146.9 895.6 147.1 895.6 189.4 896.6 201.4 897.1 201.6 897.1 204.4 897.6 204.6 897.6 207.6 898.4 207.9 898.4 211.1 899.6 211.4 899.6 214.4 900.4 214.4 900.4 211.4 901.4 211.1 901.6 204.6 902.1 204.4 902.6 183.9 900.9 167.9 900.9 163.1 900.4 158.4 899.9 158.1 899.1 149.4 898.6 149.1 897.9 142.9ZM1102.4 134.9 1101.4 134.9 1099.6 170.6 1099.6 178.1 1098.9 178.1 1098.4 173.1 1097.9 172.9 1097.9 170.6 1096.9 170.4 1096.9 168.1 1094.6 168.1 1094.6 170.4 1093.9 170.6 1093.4 175.6 1092.9 175.9 1092.4 180.9 1091.9 181.1 1091.9 183.6 1091.1 183.9 1090.6 189.4 1090.1 189.6 1090.1 192.1 1089.6 192.4 1089.1 198.4 1088.9 217.9 1089.4 218.1 1089.6 225.1 1090.1 225.4 1090.9 236.6 1091.9 236.9 1091.9 240.6 1092.9 240.9 1092.9 244.6 1096.4 244.6 1096.4 240.9 1097.9 240.6 1097.9 236.9 1099.1 236.6 1099.1 232.9 1099.9 232.6 1099.9 229.1 1100.4 228.9 1100.4 225.4 1100.9 225.1 1101.4 218.1 1102.6 217.9 1103.4 207.9 1103.9 207.6 1104.4 201.4 1104.1 178.4 1103.4 151.6ZM919.1 130.9 918.6 151.4 919.4 156.1 919.4 160.6 920.6 172.9 921.6 172.9 921.4 149.4 920.9 146.9 920.9 142.9 919.9 136.6 919.9 132.9 919.4 132.6ZM1253.4 117.9 1252.9 117.9 1252.4 121.4 1251.4 136.9 1248.9 201.4 1248.4 204.6 1248.1 217.9 1247.6 221.6 1247.9 228.9 1248.6 229.1 1248.6 232.6 1249.4 232.9 1249.4 236.6 1250.9 236.6 1250.9 232.9 1251.9 232.6 1251.9 229.1 1252.9 228.9 1252.9 225.4 1253.4 225.1 1254.1 207.6 1254.1 138.9ZM1409.1 114.4 1408.6 146.9 1409.1 155.9 1409.9 155.9 1410.4 146.9 1410.4 130.9 1409.9 114.4ZM1233.6 110.9 1233.1 116.1 1233.1 123.1 1233.6 128.6 1234.1 128.6 1234.6 123.1 1234.6 116.1 1234.1 110.9ZM1066.1 99.6 1065.6 115.9 1066.4 153.6 1067.6 186.4 1068.1 192.1 1068.6 192.4 1068.6 195.1 1069.1 195.4 1069.1 198.1 1069.6 198.4 1069.9 221.4 1070.4 221.6 1070.4 225.1 1071.1 225.4 1071.1 228.9 1071.6 229.1 1071.6 232.6 1072.1 232.9 1072.1 236.6 1073.4 236.9 1073.4 240.6 1074.4 240.9 1074.4 244.6 1075.9 244.9 1075.9 248.9 1078.1 248.9 1078.1 244.9 1079.1 244.6 1079.1 240.9 1079.9 240.6 1079.9 236.9 1080.6 236.6 1080.6 232.9 1082.1 232.9 1082.1 236.6 1083.4 236.9 1083.4 240.6 1085.4 240.6 1085.4 236.9 1086.4 236.6 1086.4 232.9 1087.1 232.6 1087.1 229.1 1087.9 228.9 1087.9 195.4 1087.6 192.4 1087.1 192.1 1087.1 189.6 1088.6 189.4 1089.1 178.4 1089.6 175.6 1089.6 138.9 1088.6 116.1 1088.1 112.6 1087.6 112.6 1086.1 138.9 1086.1 175.6 1086.9 181.1 1086.9 186.4 1086.4 186.4 1086.1 181.1 1085.6 180.9 1085.6 178.4 1085.1 178.1 1085.1 175.9 1084.6 175.6 1084.6 173.1 1082.6 173.1 1082.6 175.6 1081.9 175.9 1081.6 180.9 1081.1 181.1 1080.9 186.4 1080.1 186.6 1079.9 183.9 1079.1 183.6 1079.1 181.1 1078.4 180.9 1078.4 178.4 1077.6 178.1 1077.6 175.9 1076.9 175.6 1076.9 173.1 1076.1 172.9 1076.1 170.6 1075.1 170.4 1075.1 168.1 1073.1 168.1 1073.1 170.4 1072.1 170.4 1068.4 117.9 1067.9 115.9 1067.1 104.4ZM1354.9 96.4 1354.4 96.4 1353.1 128.9 1353.6 162.9 1354.6 162.9 1354.6 160.9 1355.1 160.6 1355.9 130.6ZM1362.6 94.9 1362.1 96.4 1360.6 142.6 1359.6 160.6 1359.1 163.1 1359.1 167.9 1358.4 173.1 1358.4 178.1 1357.9 181.1 1357.6 192.1 1356.9 201.6 1357.1 225.1 1357.6 225.4 1357.6 228.9 1358.9 228.9 1358.9 225.4 1359.9 225.1 1359.9 221.6 1360.4 221.4 1360.9 214.6 1361.6 214.4 1362.1 207.9 1362.6 207.6 1363.9 183.6 1364.4 156.1 1363.9 144.9 1363.4 110.9ZM1074.4 90.4 1073.6 96.4 1073.6 107.4 1074.1 117.6 1074.9 117.6 1075.4 107.4 1075.4 96.4ZM1009.4 87.6 1008.9 96.1 1009.4 102.6 1010.1 102.6 1010.4 90.4 1010.1 87.6ZM1082.1 86.1 1081.6 86.1 1081.1 89.1 1080.1 107.6 1080.6 124.9 1081.6 136.6 1082.6 130.6 1083.4 115.9 1083.4 104.4 1082.9 99.4 1082.9 93.4ZM1042.1 81.9 1040.9 100.9 1042.1 121.1 1042.6 121.4 1042.6 123.1 1042.6 121.4 1043.1 121.1 1044.4 99.6 1043.4 84.6 1042.9 81.9ZM1376.1 65.6 1375.9 88.9 1374.6 119.4 1374.1 119.4 1373.4 107.6 1372.6 107.6 1371.4 116.1 1370.9 124.9 1370.1 128.9 1370.9 153.6 1370.4 153.9 1369.9 158.4 1369.9 178.1 1370.6 195.1 1371.6 207.6 1372.1 207.9 1372.4 214.4 1373.1 214.6 1373.1 217.9 1374.4 218.1 1374.4 221.4 1375.9 221.6 1375.9 225.1 1377.9 225.4 1377.9 228.9 1378.9 228.9 1378.9 225.4 1380.4 225.1 1380.4 221.6 1381.4 221.4 1381.4 218.1 1382.1 217.9 1382.4 211.4 1381.9 195.4 1379.4 153.9 1379.6 151.6 1380.1 151.4 1380.6 136.9 1381.4 130.6 1382.9 104.4 1383.6 104.4 1384.4 119.4 1385.6 119.4 1385.6 116.1 1386.1 116.1 1386.9 140.6 1386.1 140.9 1385.6 149.1 1384.6 156.1 1385.1 192.1 1385.6 195.4 1386.4 217.9 1386.9 218.1 1387.4 228.9 1387.9 229.1 1387.9 232.6 1389.1 232.6 1389.6 225.1 1389.9 186.6 1389.4 156.1 1388.6 149.4 1389.4 149.1 1389.9 142.9 1390.4 142.6 1390.9 136.9 1391.4 136.6 1391.6 130.9 1392.1 130.9 1392.4 136.9 1392.6 186.4 1393.1 192.1 1393.6 192.4 1394.1 201.4 1394.9 201.6 1394.9 204.4 1396.1 204.4 1396.1 201.6 1396.9 201.4 1397.4 192.4 1397.9 192.1 1398.4 186.4 1398.4 153.9 1396.9 132.6 1396.1 109.1 1397.1 65.6ZM1316.6 65.6 1316.6 105.6 1316.9 115.9 1317.4 119.4 1317.9 119.6 1316.9 153.9 1316.9 186.4 1317.6 201.4 1320.6 201.4 1321.4 186.4 1322.1 134.9 1322.6 134.9 1322.4 151.4 1322.9 153.9 1323.4 162.9 1323.9 163.1 1323.9 165.4 1324.4 165.6 1324.4 167.9 1325.6 167.9 1325.6 165.6 1326.1 165.4 1326.1 163.1 1326.6 162.9 1327.1 153.9 1327.6 151.4 1327.1 116.1 1326.6 112.4 1325.9 96.4 1325.4 93.4 1324.9 93.4 1324.6 97.9 1324.1 99.6 1324.1 104.1 1323.1 116.1 1322.9 134.6 1322.4 134.6 1323.1 65.6ZM1306.6 65.6 1305.1 153.9 1305.1 195.1 1306.9 221.4 1307.9 221.6 1307.9 225.1 1310.1 225.1 1310.1 221.6 1310.9 221.4 1311.9 207.6 1311.9 201.6 1312.4 198.1 1312.4 145.1 1311.4 109.1 1311.1 69.9 1310.9 65.6ZM1241.4 65.6 1241.9 117.6 1242.4 130.6 1242.9 134.6 1243.4 134.6 1244.4 115.9 1244.9 65.6ZM1059.9 65.6 1060.4 84.4 1060.6 85.9 1061.6 85.9 1062.1 80.4 1062.4 65.6ZM1033.1 65.6 1033.4 126.9 1036.1 158.1 1036.9 158.1 1037.1 145.1 1036.6 119.6 1037.4 65.6ZM1028.6 65.6 1028.9 124.9 1029.6 149.4 1029.4 189.4 1030.1 201.6 1030.1 211.1 1030.9 221.4 1031.4 221.6 1031.6 228.9 1032.1 229.1 1032.1 232.6 1032.6 232.9 1032.6 236.6 1033.4 236.9 1033.4 240.6 1034.4 240.9 1034.4 244.6 1037.4 244.6 1037.4 240.9 1038.4 240.6 1038.4 236.9 1039.4 236.6 1039.4 232.9 1040.1 232.6 1040.1 229.1 1040.9 228.9 1040.9 225.4 1041.6 225.1 1041.6 221.6 1042.4 221.4 1042.4 218.1 1043.1 217.9 1044.1 204.4 1044.1 198.4 1043.1 198.4 1043.1 201.4 1042.1 201.6 1042.1 204.4 1041.1 204.6 1041.1 207.6 1040.4 207.9 1040.4 211.1 1039.4 211.4 1039.4 214.4 1038.6 214.6 1038.6 217.9 1037.6 217.9 1036.6 183.9 1035.4 172.9 1035.4 168.1 1034.4 160.6 1032.4 123.1 1032.1 65.6ZM1019.4 65.6 1015.9 65.6 1015.6 134.6 1014.9 149.4 1013.9 198.4 1014.9 228.9 1015.4 228.9 1016.1 217.9 1017.1 158.4 1019.1 128.6 1019.1 117.9 1019.6 107.4ZM970.6 65.6 970.9 162.9 971.6 172.9 972.4 172.9 973.1 162.9 973.4 65.6ZM969.6 65.6 959.6 65.6 959.9 121.1 961.4 140.6 962.4 140.6 963.1 126.9 963.1 69.9 963.6 69.9 964.6 87.4 965.1 87.6 965.1 88.9 966.1 88.9 966.1 87.6 966.6 87.4 966.9 83.4 968.6 83.1 969.1 80.4ZM952.4 65.6 952.4 140.6 951.6 195.4 951.9 217.9 952.4 225.1 952.9 225.4 952.9 228.9 953.6 229.1 953.6 232.6 955.1 232.6 955.1 229.1 955.6 228.9 955.6 225.4 956.1 225.1 956.1 221.6 956.6 221.4 957.1 186.4 957.1 127.1 956.6 91.9 955.6 65.6ZM942.1 65.6 942.6 80.4 942.9 81.6 944.4 81.6 945.1 76.1 945.4 65.6ZM929.9 65.6 930.4 84.4 930.9 87.4 932.1 87.4 932.9 80.4 933.1 65.6ZM923.9 65.6 924.4 99.4 925.1 107.4 925.9 107.4 926.4 104.1 926.9 93.1 927.1 65.6ZM920.1 65.6 915.6 65.6 915.9 100.9 916.6 104.4 916.9 109.1 917.4 109.4 917.4 110.6 917.9 110.9 917.9 112.4 917.9 110.9 918.6 110.6 919.6 104.1 920.1 96.1ZM912.4 65.6 912.9 72.4 914.1 72.4 914.6 65.6ZM906.6 65.6 907.1 91.6 907.6 99.4 908.1 102.6 908.6 102.6 909.6 93.1 910.1 65.6Z"/>
<path fill="#0000ff" fill-rule="evenodd" d="M1406.4 221.6 1405.9 236.6 1406.4 236.9 1406.4 240.6 1406.9 240.9 1406.9 244.6 1407.4 244.9 1407.4 248.9 1408.9 248.9 1409.1 232.9 1408.6 232.6 1408.6 229.1 1408.1 228.9 1407.6 221.6ZM1128.6 198.4 1128.6 201.4 1129.4 201.6 1129.6 204.4 1129.6 201.6 1130.4 201.4 1130.4 198.4ZM1238.4 186.6 1237.1 201.6 1236.6 225.1 1236.9 228.9 1237.4 229.1 1237.4 232.6 1237.9 232.9 1237.9 236.6 1238.9 236.9 1238.9 240.6 1239.6 240.6 1239.6 236.9 1240.6 236.6 1240.6 232.9 1241.1 232.6 1241.1 229.1 1241.6 228.9 1241.9 221.6 1241.1 198.4 1240.1 186.6ZM1150.4 178.4 1149.1 178.4 1149.1 180.9 1148.1 181.1 1148.1 183.6 1147.6 183.9 1147.6 186.4 1147.1 186.6 1147.1 189.4 1146.6 189.6 1146.1 195.1 1145.6 195.4 1145.6 201.4 1144.6 211.4 1144.4 225.1 1145.1 232.9 1145.1 240.6 1145.9 240.9 1145.9 244.6 1146.9 244.9 1146.9 248.9 1150.1 248.9 1150.1 244.9 1151.1 244.6 1151.1 240.9 1151.9 240.6 1152.6 225.4 1153.1 225.1 1153.4 221.4 1152.1 192.4 1151.4 183.9 1150.9 183.6ZM943.4 178.4 943.4 180.9 942.6 181.1 942.6 183.6 942.1 183.9 940.9 198.4 940.6 217.9 941.6 232.6 942.4 232.9 942.4 236.6 945.6 236.6 945.6 232.9 946.4 232.6 946.9 225.1 946.9 207.9 945.6 186.6 945.1 186.4 944.9 181.1 943.9 180.9 943.9 178.4ZM1133.6 153.9 1132.6 163.1 1133.4 192.1 1133.9 195.4 1133.9 201.4 1134.6 211.1 1135.1 211.4 1135.1 214.4 1135.6 214.6 1135.6 217.9 1136.9 217.9 1137.6 198.1 1137.6 186.6 1137.1 180.9 1136.9 165.6 1136.4 160.9 1135.9 160.6 1135.9 158.4 1135.4 158.1 1135.1 153.9ZM896.4 147.1 896.4 149.1 895.9 149.4 895.6 151.6 895.9 189.4 896.9 201.4 897.4 201.6 897.4 204.4 898.1 204.6 898.1 207.6 898.9 207.9 898.9 211.1 900.6 211.1 900.6 207.9 901.4 207.6 901.6 201.6 902.1 201.4 901.9 178.4 898.6 149.4 898.1 149.1 898.1 147.1ZM1102.1 138.9 1101.6 138.9 1101.1 142.9 1099.6 180.9 1099.1 180.9 1099.1 178.4 1098.4 178.1 1098.4 175.9 1097.9 175.6 1097.9 173.1 1097.1 172.9 1097.1 170.6 1094.6 170.6 1094.6 172.9 1093.9 173.1 1093.4 178.1 1092.6 178.4 1092.6 180.9 1092.1 181.1 1092.1 183.6 1091.6 183.9 1091.6 186.4 1091.1 186.6 1091.1 189.4 1090.6 189.6 1090.6 192.1 1089.9 192.4 1089.6 195.4 1089.6 221.4 1090.1 221.6 1090.4 228.9 1090.9 229.1 1091.1 236.6 1092.1 236.9 1092.1 240.6 1093.4 240.9 1093.4 244.6 1095.9 244.6 1095.9 240.9 1097.4 240.6 1097.4 236.9 1098.9 236.6 1098.9 232.9 1099.4 232.6 1099.9 225.4 1100.6 225.1 1101.1 218.1 1102.1 217.9 1102.1 214.6 1102.9 214.4 1103.1 207.9 1103.6 207.6 1104.1 201.4 1103.6 165.6 1102.9 147.1ZM1409.4 132.9 1408.9 140.6 1409.6 144.9 1410.1 138.9ZM1253.1 125.1 1252.6 125.1 1252.1 128.9 1251.1 145.1 1250.4 170.4 1249.4 186.6 1249.1 201.4 1248.6 204.6 1248.6 211.1 1248.1 214.6 1247.9 225.1 1248.1 228.9 1248.9 229.1 1248.9 232.6 1251.6 232.6 1251.6 229.1 1252.6 228.9 1252.6 225.4 1253.1 225.1 1253.9 207.6 1253.9 138.9 1253.6 128.9ZM1087.6 117.9 1087.1 121.4 1087.1 126.9 1086.4 136.9 1086.4 175.6 1087.4 189.4 1088.4 189.4 1089.4 178.1 1089.4 136.9 1088.6 121.4 1088.1 117.9ZM1354.6 112.6 1354.1 114.4 1353.6 123.4 1353.9 151.4 1354.6 151.4 1355.4 138.6 1355.4 121.4ZM1362.6 109.4 1361.9 112.6 1360.9 142.6 1359.9 160.6 1359.4 163.1 1359.4 167.9 1358.6 173.1 1358.6 178.1 1358.1 181.1 1357.9 192.1 1357.4 195.4 1357.1 211.1 1357.6 225.1 1359.4 225.1 1359.4 221.6 1360.1 221.4 1360.6 214.6 1361.4 214.4 1361.9 207.9 1362.4 207.6 1363.9 178.1 1364.1 156.1 1363.1 114.4ZM1066.1 107.6 1065.9 121.1 1066.9 162.9 1067.4 168.1 1067.4 175.6 1068.4 192.1 1068.9 192.4 1068.9 195.1 1069.4 195.4 1069.4 198.1 1069.9 198.4 1070.1 221.4 1070.6 221.6 1070.6 225.1 1071.4 225.4 1071.9 232.6 1072.6 232.9 1072.6 236.6 1073.6 236.9 1073.6 240.6 1074.9 240.9 1074.9 244.6 1078.9 244.6 1078.9 240.9 1079.6 240.6 1079.6 236.9 1080.4 236.6 1080.9 229.1 1081.6 229.1 1081.6 232.6 1082.6 232.9 1082.6 236.6 1085.9 236.6 1085.9 232.9 1086.6 232.6 1086.6 229.1 1087.4 228.9 1087.4 225.4 1087.9 225.1 1087.4 192.4 1086.9 192.1 1086.9 189.6 1086.4 189.4 1086.1 183.9 1085.6 183.6 1085.6 181.1 1085.1 180.9 1084.6 175.9 1082.4 175.9 1082.4 178.1 1081.9 178.4 1081.6 183.6 1081.1 183.9 1081.1 186.4 1080.6 186.6 1080.6 189.4 1079.9 189.6 1079.4 183.9 1078.6 183.6 1078.6 181.1 1077.9 180.9 1077.9 178.4 1077.1 178.1 1077.1 175.9 1076.4 175.6 1076.4 173.1 1075.6 172.9 1075.6 170.6 1072.9 170.6 1072.9 172.9 1072.1 172.9 1071.1 162.9 1071.1 158.4 1070.6 155.9 1070.4 147.1 1069.9 144.9 1069.6 136.9 1069.1 134.6 1068.1 117.9 1067.6 115.9 1067.6 112.6 1066.9 107.6ZM1324.9 98.1 1324.4 101.1 1323.1 119.6 1322.6 151.4 1323.6 162.9 1324.4 163.1 1324.4 165.4 1325.6 165.4 1325.6 163.1 1326.4 162.9 1327.1 155.9 1327.4 138.9 1326.6 110.9 1326.1 107.4 1325.9 99.6 1325.4 99.4 1325.4 98.1ZM1074.1 98.1 1074.1 104.1 1074.9 104.1 1075.1 99.6 1074.9 98.1ZM1081.4 91.9 1080.4 105.9 1080.4 114.1 1081.4 128.6 1082.4 128.6 1083.4 109.4 1082.6 94.9 1082.1 91.9ZM1042.1 86.1 1041.4 93.4 1041.1 102.6 1042.1 115.9 1043.1 115.9 1044.1 99.6 1043.1 86.1ZM1376.4 65.6 1375.9 93.1 1374.6 123.1 1374.1 123.1 1373.9 116.1 1373.4 112.6 1372.9 112.4 1372.6 110.9 1372.6 112.4 1372.1 112.6 1371.6 116.1 1371.6 119.4 1370.4 128.9 1371.1 153.6 1370.6 153.9 1370.1 158.4 1370.4 183.6 1370.9 195.1 1371.9 207.6 1372.4 207.9 1372.6 214.4 1373.4 214.6 1373.4 217.9 1374.6 218.1 1374.6 221.4 1376.1 221.6 1376.1 225.1 1380.1 225.1 1380.1 221.6 1381.1 221.4 1381.1 218.1 1381.9 217.9 1381.6 195.4 1379.1 153.9 1379.6 153.6 1380.1 149.1 1380.4 138.9 1381.1 127.1 1381.6 124.9 1381.9 114.4 1382.4 112.4 1383.1 101.1 1383.6 101.1 1384.6 119.4 1385.4 119.4 1385.6 114.4 1386.1 114.4 1386.9 140.6 1386.4 140.9 1385.6 147.1 1385.6 151.4 1384.9 156.1 1385.6 198.1 1386.1 201.6 1386.1 207.6 1387.1 221.4 1387.6 221.6 1387.6 225.1 1389.1 225.1 1389.6 183.9 1389.1 156.1 1388.4 149.4 1389.1 149.1 1389.4 145.1 1389.9 144.9 1390.1 140.9 1390.6 140.6 1391.9 130.6 1391.9 127.1 1392.4 127.1 1392.9 186.4 1393.4 192.1 1393.9 192.4 1394.6 201.4 1396.4 201.4 1396.4 198.4 1396.9 198.1 1397.1 192.4 1397.6 192.1 1398.1 186.4 1398.4 158.4 1396.6 132.6 1396.4 114.4 1395.9 105.6 1396.9 65.6ZM1316.9 65.6 1317.1 114.1 1317.4 115.9 1318.1 116.1 1316.9 160.9 1316.9 180.9 1317.6 198.1 1318.1 198.4 1318.1 201.4 1320.1 201.4 1321.4 180.9 1321.4 156.1 1322.4 124.9 1322.9 65.6ZM1306.6 65.6 1306.4 100.9 1305.4 145.1 1305.4 195.1 1307.4 221.4 1310.4 221.4 1312.1 198.1 1312.4 180.9 1312.1 138.9 1311.1 105.6 1310.9 66.1 1310.6 65.6ZM1241.6 65.6 1241.9 112.4 1242.4 124.9 1242.9 128.6 1243.4 128.6 1244.4 109.1 1244.6 65.6ZM1060.1 65.6 1060.4 74.9 1060.6 76.1 1061.6 76.1 1062.1 65.6ZM1033.4 65.6 1033.6 126.9 1035.6 149.1 1036.1 149.4 1036.4 151.4 1037.1 65.6ZM1028.9 65.6 1028.9 110.6 1029.9 151.6 1029.6 189.4 1030.1 195.4 1030.4 211.1 1031.1 221.4 1031.6 221.6 1031.9 228.9 1032.4 229.1 1032.4 232.6 1032.9 232.9 1032.9 236.6 1033.9 236.9 1033.9 240.6 1034.9 240.9 1034.9 244.6 1036.6 244.6 1036.6 240.9 1037.6 240.6 1037.6 236.9 1038.9 236.6 1038.9 232.9 1039.9 232.6 1039.9 229.1 1040.6 228.9 1040.6 225.4 1041.4 225.1 1041.9 218.1 1042.6 217.9 1042.6 214.6 1043.1 214.4 1043.4 204.6 1041.6 204.6 1041.6 207.6 1040.6 207.9 1040.6 211.1 1039.6 211.4 1039.6 214.4 1038.9 214.6 1038.9 217.9 1038.1 218.1 1038.1 221.4 1037.6 221.4 1036.4 183.9 1035.4 175.6 1035.4 170.6 1034.1 160.6 1033.6 145.1 1032.1 121.1 1031.9 65.6ZM1019.1 65.6 1016.1 65.6 1015.6 96.4 1015.9 132.6 1015.4 140.9 1015.1 167.9 1014.1 198.4 1014.9 214.4 1015.6 214.4 1016.1 204.4 1016.6 158.4 1017.1 155.9 1017.1 151.6 1017.6 149.1 1017.6 145.1 1018.1 142.6 1018.9 130.6 1019.4 110.6ZM970.9 65.6 971.1 158.1 971.4 162.9 972.6 162.9 973.1 65.6ZM969.6 65.6 963.4 65.6 964.1 80.4 964.9 85.9 966.4 85.9 966.9 83.1 966.9 79.1 967.4 79.1 967.4 80.4 968.6 80.4 969.1 77.6ZM959.9 65.6 960.1 119.4 960.9 130.6 961.9 134.6 961.9 132.9 962.4 132.6 962.9 124.9 962.9 65.6ZM952.6 65.6 952.6 130.6 951.9 204.4 952.6 225.1 953.4 225.4 953.4 228.9 955.4 228.9 955.4 225.4 955.9 225.1 955.9 221.6 956.4 221.4 956.9 192.1 956.6 101.1 955.6 67.4 955.4 65.6ZM942.1 65.6 943.1 78.9 944.4 78.9 945.1 70.9 945.1 65.6ZM929.9 65.6 930.4 80.4 930.9 83.1 931.4 83.4 931.6 84.4 932.6 80.4 933.1 65.6ZM924.1 65.6 924.9 96.1 926.1 96.1 926.9 77.6 926.9 65.6ZM915.6 65.6 916.1 100.9 917.4 109.1 918.6 109.1 919.9 99.4 920.1 65.6ZM912.6 65.6 913.1 69.6 913.9 69.6 914.4 65.6ZM906.9 65.6 907.4 91.6 908.1 97.9 908.9 97.9 909.6 87.4 909.9 65.6Z"/>
<path fill="#001fff" fill-rule="evenodd" d="M1406.4 229.1 1406.1 236.6 1406.6 236.9 1406.6 240.6 1407.4 240.9 1407.4 244.6 1408.4 244.6 1408.4 240.9 1408.9 240.6 1408.9 232.9 1408.4 232.6 1408.4 229.1ZM1238.4 192.4 1238.4 195.1 1237.9 195.4 1236.9 225.1 1237.1 228.9 1237.6 229.1 1237.6 232.6 1238.4 232.9 1238.4 236.6 1240.1 236.6 1240.1 232.9 1240.9 232.6 1240.9 229.1 1241.4 228.9 1241.6 225.1 1240.9 207.6 1240.9 198.4 1240.4 198.1 1240.1 192.4ZM1148.4 183.9 1148.4 186.4 1147.6 186.6 1147.6 189.4 1146.9 189.6 1146.9 192.1 1146.4 192.4 1145.4 204.6 1145.4 211.1 1144.6 221.4 1146.1 244.6 1147.4 244.9 1147.4 248.9 1149.6 248.9 1149.6 244.9 1150.9 244.6 1150.9 240.9 1151.6 240.6 1151.9 232.9 1152.9 221.4 1152.9 214.6 1152.1 204.4 1152.1 198.4 1151.1 186.6 1150.6 186.4 1150.6 183.9ZM943.1 183.9 943.1 186.4 942.4 186.6 942.4 189.4 941.9 189.6 941.4 195.4 940.9 217.9 941.6 228.9 942.1 229.1 942.1 232.6 943.1 232.9 943.1 236.6 944.9 236.6 944.9 232.9 945.9 232.6 945.9 229.1 946.4 228.9 946.9 214.6 946.4 201.6 945.9 198.1 945.9 192.4 945.4 192.1 945.1 186.6 944.4 186.4 944.4 183.9ZM1133.9 156.1 1133.9 158.1 1133.4 158.4 1132.9 163.1 1133.4 186.4 1134.9 211.1 1135.9 211.4 1135.9 214.4 1136.4 214.4 1136.4 211.4 1137.1 211.1 1137.4 186.6 1136.6 172.9 1136.6 165.6 1136.4 163.1 1135.9 162.9 1135.6 158.4 1134.9 158.1 1134.9 156.1ZM896.4 151.6 896.4 153.6 895.9 153.9 895.6 156.1 895.6 175.6 895.9 183.6 896.9 192.4 897.1 201.4 897.9 201.6 897.9 204.4 898.6 204.6 898.6 207.6 900.9 207.6 900.9 204.6 901.4 204.4 901.4 201.6 901.9 201.4 901.9 183.9 900.9 175.6 900.9 170.6 899.6 158.4 899.1 158.1 898.4 151.6ZM1102.4 145.1 1101.4 145.1 1099.9 180.9 1098.6 180.9 1098.6 178.4 1097.9 178.1 1097.9 175.9 1097.1 175.6 1097.1 173.1 1094.6 173.1 1094.6 175.6 1093.6 175.9 1093.1 180.9 1092.6 181.1 1092.6 183.6 1092.1 183.9 1092.1 186.4 1091.4 186.6 1091.4 189.4 1090.9 189.6 1090.9 192.1 1090.4 192.4 1089.9 198.4 1089.6 217.9 1090.1 218.1 1090.6 228.9 1091.1 229.1 1091.4 236.6 1092.6 236.9 1092.6 240.6 1097.1 240.6 1097.1 236.9 1098.6 236.6 1098.6 232.9 1099.1 232.6 1099.1 229.1 1099.6 228.9 1099.6 225.4 1100.1 225.1 1100.6 218.1 1101.9 217.9 1101.9 214.6 1102.4 214.4 1102.9 207.9 1103.4 207.6 1103.9 201.4 1103.9 189.6 1103.4 175.6 1103.4 160.9ZM1253.4 134.9 1252.4 134.9 1251.1 149.4 1248.9 211.1 1248.1 221.6 1248.4 228.9 1249.1 229.1 1249.1 232.6 1251.4 232.6 1251.4 229.1 1252.4 228.9 1252.4 225.4 1252.9 225.1 1253.4 207.9 1253.9 201.4 1253.9 149.4ZM1362.6 125.1 1362.1 125.1 1360.1 160.6 1359.6 163.1 1359.6 167.9 1358.6 175.9 1358.4 186.4 1357.9 189.6 1357.4 201.6 1357.9 221.4 1359.6 221.4 1359.6 218.1 1360.4 217.9 1360.9 211.4 1361.6 211.1 1361.6 207.9 1362.1 207.6 1362.6 201.4 1363.1 183.9 1363.6 180.9 1363.9 162.9 1363.1 128.9ZM1087.6 123.4 1086.6 136.9 1086.6 178.1 1087.4 186.4 1088.4 186.4 1089.4 175.6 1089.1 134.9 1088.1 123.4ZM1066.6 114.4 1066.1 130.6 1067.4 170.4 1068.4 192.1 1069.1 192.4 1069.1 195.1 1069.6 195.4 1069.6 198.1 1070.1 198.4 1070.4 201.6 1070.4 221.4 1070.9 221.6 1070.9 225.1 1071.6 225.4 1072.1 232.6 1072.9 232.9 1072.9 236.6 1073.9 236.9 1073.9 240.6 1075.1 240.9 1075.1 244.6 1078.4 244.6 1078.4 240.9 1079.4 240.6 1079.4 236.9 1080.1 236.6 1080.6 229.1 1082.1 229.1 1082.1 232.6 1083.4 232.9 1083.4 236.6 1085.1 236.6 1085.1 232.9 1086.4 232.6 1086.4 229.1 1087.1 228.9 1087.4 204.6 1086.6 189.6 1086.1 189.4 1086.1 186.6 1085.6 186.4 1085.4 181.1 1084.6 180.9 1084.6 178.4 1082.6 178.4 1082.6 180.9 1081.9 181.1 1081.9 183.6 1081.4 183.9 1080.6 192.1 1079.9 192.4 1079.1 183.9 1078.4 183.6 1078.4 181.1 1077.6 180.9 1077.6 178.4 1076.9 178.1 1076.9 175.9 1075.9 175.6 1075.9 173.1 1072.9 173.1 1072.9 175.6 1072.1 175.6 1071.1 165.4 1070.6 153.9 1070.1 151.4 1070.1 147.1 1069.6 144.9 1069.1 132.9 1068.1 124.9 1068.1 121.4 1067.1 114.4ZM1325.4 102.9 1324.4 105.9 1323.6 114.4 1322.9 138.9 1322.9 153.6 1323.6 160.6 1324.1 160.9 1324.1 162.9 1325.9 162.9 1325.9 160.9 1326.4 160.6 1327.1 153.6 1326.9 119.6 1326.4 115.9 1325.9 104.4 1325.4 104.1ZM1081.4 98.1 1080.6 105.9 1080.6 114.1 1081.4 123.1 1082.1 123.1 1083.1 109.4 1082.6 101.1 1082.1 98.1ZM1042.1 90.4 1041.4 98.1 1041.4 102.6 1042.1 110.6 1043.1 110.6 1043.9 98.1 1042.9 90.4ZM1318.6 80.4 1318.6 87.6ZM1396.9 65.6 1376.6 65.6 1376.4 67.4 1376.1 90.1 1374.6 126.9 1374.1 126.9 1373.9 119.6 1373.4 116.1 1372.1 116.1 1371.1 123.4 1371.1 126.9 1370.6 128.9 1371.1 153.6 1370.4 158.4 1370.4 170.4 1371.1 195.1 1372.1 207.6 1372.6 207.9 1372.6 211.1 1373.1 211.4 1373.1 214.4 1373.6 214.6 1373.6 217.9 1374.9 218.1 1374.9 221.4 1376.6 221.6 1376.6 225.1 1379.6 225.1 1379.6 221.6 1380.6 221.4 1380.6 218.1 1381.4 217.9 1381.6 214.4 1381.4 195.4 1380.6 186.4 1380.4 175.9 1379.9 172.9 1379.6 163.1 1379.1 160.6 1379.1 153.9 1379.9 149.1 1380.4 134.9 1380.9 132.6 1381.6 116.1 1382.4 110.6 1383.1 98.1 1383.6 98.1 1383.6 104.1 1384.6 117.6 1385.4 117.6 1385.6 112.6 1386.1 112.6 1386.9 128.9 1387.1 142.6 1386.4 142.9 1385.1 156.1 1385.6 192.1 1386.9 214.4 1387.4 214.6 1387.4 217.9 1388.6 217.9 1389.4 201.4 1389.1 160.9 1388.4 149.4 1389.1 149.1 1389.4 145.1 1389.9 144.9 1390.6 136.9 1391.1 136.6 1391.9 127.1 1392.4 127.1 1392.6 128.9 1392.9 183.6 1393.6 192.1 1394.1 192.4 1394.4 198.1 1396.6 198.1 1396.9 192.4 1397.4 192.1 1398.1 183.6 1398.1 156.1 1396.4 130.6 1395.9 110.6 1395.9 98.1ZM1322.9 65.6 1319.1 65.6 1318.9 69.9 1318.6 65.6 1317.1 65.6 1317.4 85.9 1317.9 90.1 1318.1 89.1 1318.6 89.1 1318.1 126.9 1317.1 156.1 1317.1 183.6 1318.4 198.1 1319.9 198.1 1319.9 195.4 1320.4 195.1 1321.1 180.9 1321.1 163.1 1322.1 132.6 1322.4 87.6ZM1306.9 65.6 1305.4 158.4 1305.6 198.1 1306.1 201.6 1306.4 211.1 1306.9 211.4 1306.9 214.4 1307.4 214.6 1307.4 217.9 1310.4 217.9 1312.1 195.1 1312.1 149.4 1310.9 100.9 1310.9 71.1 1310.6 65.6ZM1244.6 65.6 1241.6 65.6 1242.1 112.4 1242.6 121.1 1243.1 121.4 1243.1 123.1 1243.1 121.4 1243.6 121.1 1244.1 112.4ZM1060.6 65.6 1060.9 68.4 1061.4 68.4 1061.6 65.6ZM1033.6 65.6 1033.6 124.9 1035.1 140.6 1035.6 140.9 1035.6 142.6 1036.1 142.6 1037.1 65.6ZM1028.9 65.6 1029.1 123.1 1030.1 156.1 1029.9 189.4 1030.9 217.9 1031.4 218.1 1031.4 221.4 1031.9 221.6 1032.6 232.6 1033.4 232.9 1033.4 236.6 1034.4 236.9 1034.4 240.6 1037.1 240.6 1037.1 236.9 1037.9 236.6 1037.9 232.9 1039.1 232.6 1039.1 229.1 1040.1 228.9 1040.1 225.4 1040.9 225.1 1040.9 221.6 1041.6 221.4 1041.6 218.1 1042.4 217.9 1042.6 211.4 1040.1 211.4 1040.1 214.4 1039.4 214.6 1039.4 217.9 1038.6 218.1 1038.6 221.4 1037.9 221.6 1037.9 225.1 1037.4 225.1 1036.4 186.6 1035.6 180.9 1035.4 173.1 1034.4 165.4 1034.4 160.9 1033.9 158.1 1032.6 128.9 1032.1 124.9 1031.9 65.6ZM1018.9 65.6 1016.4 65.6 1016.1 71.1 1015.9 151.4 1016.6 151.4 1016.6 149.4 1017.1 149.1 1018.6 130.6 1019.4 102.6ZM971.1 65.6 971.6 110.6 972.1 112.4 972.6 99.4 972.9 65.6ZM969.4 65.6 963.6 65.6 963.9 73.6 964.9 83.1 966.4 83.1 966.9 76.4 967.4 76.4 967.4 77.6 968.6 77.6 969.1 74.9ZM959.9 65.6 960.6 121.1 961.1 124.9 962.1 124.9 962.6 121.1 962.9 65.6ZM952.9 65.6 952.1 207.6 952.6 221.4 953.1 221.6 953.1 225.1 955.6 225.1 955.6 221.6 956.1 221.4 956.9 175.6 956.4 96.4 955.4 67.4 955.1 65.6ZM942.4 65.6 943.1 76.1 944.1 76.1 944.6 73.6 945.1 65.6ZM930.1 65.6 930.6 77.6 931.1 80.4 931.9 80.4 932.6 74.9 932.9 65.6ZM924.4 65.6 924.6 81.6 925.1 85.9 925.9 85.9 926.6 76.1 926.6 65.6ZM915.9 65.6 916.1 99.4 916.9 105.6 917.4 105.9 917.4 107.4 918.6 107.4 919.6 100.9 919.9 65.6ZM913.1 65.6 913.9 65.9ZM907.1 65.6 907.6 90.1 908.1 93.1 908.9 93.1 909.4 87.4 909.6 65.6Z"/>
<path fill="#003dff" fill-rule="evenodd" d="M1406.6 232.9 1406.6 236.6 1408.4 236.6 1408.4 232.9ZM1238.1 198.4 1237.1 225.1 1237.4 228.9 1238.1 229.1 1238.1 232.6 1240.4 232.6 1240.4 229.1 1240.9 228.9 1241.1 225.1 1240.6 204.6 1240.1 198.4ZM942.9 189.6 942.9 192.1 942.1 192.4 941.6 198.4 941.6 204.4 941.1 207.9 941.1 217.9 941.9 228.9 942.6 229.1 942.6 232.6 945.4 232.6 945.4 229.1 945.9 228.9 946.6 217.9 945.6 195.4 945.1 195.1 945.1 192.4 944.6 192.1 944.6 189.6ZM1149.6 186.6 1148.9 186.6 1148.9 189.4 1147.6 189.6 1147.6 192.1 1146.9 192.4 1146.9 195.1 1146.4 195.4 1145.9 207.6 1144.9 218.1 1145.9 240.6 1146.6 240.9 1146.6 244.6 1150.4 244.6 1150.4 240.9 1151.1 240.6 1151.1 236.9 1151.6 236.6 1152.6 221.4 1152.1 204.6 1150.9 189.6 1149.6 189.4ZM1133.6 160.9 1133.6 162.9 1133.1 163.1 1133.9 192.1 1135.1 207.6 1136.6 207.6 1137.1 198.1 1137.1 186.6 1136.4 172.9 1136.4 165.6 1136.1 163.1 1135.6 162.9 1135.6 160.9ZM896.4 156.1 896.4 158.1 895.9 158.4 896.1 180.9 897.6 201.4 898.4 201.6 898.4 204.4 900.9 204.4 900.9 201.6 901.4 201.4 901.6 183.9 899.1 158.4 898.6 158.1 898.6 156.1ZM1102.4 151.6 1101.4 151.6 1100.9 156.1 1099.9 186.4 1099.4 186.4 1098.9 181.1 1098.1 180.9 1098.1 178.4 1097.1 178.1 1097.1 175.9 1094.6 175.9 1094.6 178.1 1093.6 178.4 1093.6 180.9 1092.9 181.1 1092.9 183.6 1092.4 183.9 1092.4 186.4 1091.9 186.6 1091.4 192.1 1090.6 192.4 1089.9 214.4 1090.6 225.1 1091.1 225.4 1091.4 232.6 1091.9 232.9 1091.9 236.6 1092.9 236.9 1092.9 240.6 1096.6 240.6 1096.6 236.9 1098.1 236.6 1098.1 232.9 1098.9 232.6 1098.9 229.1 1099.4 228.9 1099.4 225.4 1099.9 225.1 1100.4 218.1 1101.1 217.9 1101.1 214.6 1102.1 214.4 1102.9 204.6 1103.4 204.4 1103.4 173.1 1103.1 160.9ZM1252.6 140.9 1252.6 142.6 1252.1 142.9 1251.6 147.1 1250.9 160.9 1250.1 186.4 1248.4 221.6 1248.6 228.9 1252.1 228.9 1252.1 225.4 1252.9 225.1 1253.6 201.4 1253.6 153.9 1253.1 142.9 1252.6 142.6ZM1362.9 138.9 1361.6 138.9 1360.6 158.1 1359.9 163.1 1359.9 167.9 1358.6 178.4 1357.6 201.6 1357.6 211.1 1358.1 217.9 1360.1 217.9 1360.1 214.6 1360.6 214.4 1360.6 211.4 1361.4 211.1 1361.4 207.9 1361.9 207.6 1362.4 201.4 1362.6 189.6 1363.4 180.9 1363.6 160.6ZM1087.4 130.9 1086.9 136.9 1086.6 175.6 1087.1 180.9 1087.6 181.1 1087.6 183.6 1088.4 183.6 1089.1 175.6 1089.1 140.9 1088.4 130.9ZM1066.6 123.4 1066.6 138.6 1067.9 178.1 1068.6 192.1 1069.1 192.4 1069.1 195.1 1069.9 195.4 1069.9 198.1 1070.4 198.4 1070.6 201.6 1070.6 221.4 1071.1 221.6 1071.1 225.1 1071.9 225.4 1072.4 232.6 1073.1 232.9 1073.1 236.6 1074.1 236.9 1074.1 240.6 1075.6 240.9 1075.6 244.6 1078.1 244.6 1078.1 240.9 1079.1 240.6 1079.1 236.9 1079.9 236.6 1080.6 225.4 1081.4 225.4 1081.4 228.9 1082.6 229.1 1082.6 232.6 1085.9 232.6 1085.9 229.1 1086.6 228.9 1086.6 225.4 1087.1 225.1 1086.9 195.4 1086.4 189.6 1085.9 189.4 1085.4 183.9 1084.6 183.6 1084.6 181.1 1082.6 181.1 1082.6 183.6 1081.9 183.9 1081.4 189.4 1080.9 189.6 1080.6 195.1 1080.1 195.4 1079.9 192.4 1079.4 192.1 1078.9 183.9 1078.1 183.6 1078.1 181.1 1077.1 180.9 1077.1 178.4 1076.1 178.1 1076.1 175.9 1072.9 175.9 1072.9 178.1 1072.1 178.1 1071.1 167.9 1071.1 163.1 1070.4 158.1 1070.4 153.9 1069.9 151.4 1069.6 142.9 1068.6 134.6 1068.4 127.1 1067.9 123.4ZM1325.4 107.6 1325.1 109.1 1324.4 109.4 1323.4 125.1 1322.9 151.4 1323.6 158.1 1324.1 158.4 1324.1 160.6 1325.9 160.6 1325.9 158.4 1326.4 158.1 1327.1 151.4 1326.6 119.6 1325.9 109.4 1325.4 109.1ZM1081.4 104.4 1080.9 107.6 1080.9 112.4 1081.4 115.9 1082.4 115.9 1082.9 110.6 1082.4 104.4ZM1042.1 94.9 1041.6 100.9 1042.1 105.6 1042.9 105.6 1042.9 104.4 1043.4 104.1 1043.6 99.6 1043.4 96.4 1042.9 96.1 1042.9 94.9ZM1396.6 65.6 1376.6 65.6 1376.1 94.6 1374.9 119.6 1374.6 132.6 1374.1 132.6 1374.1 127.1 1373.6 124.9 1373.4 119.6 1372.1 119.6 1372.1 121.1 1371.6 121.4 1371.4 126.9 1370.9 128.9 1371.4 153.6 1370.6 158.4 1370.6 180.9 1371.1 183.9 1371.4 195.1 1372.4 207.6 1372.9 207.9 1372.9 211.1 1373.4 211.4 1373.4 214.4 1373.9 214.6 1373.9 217.9 1375.4 218.1 1375.4 221.4 1377.4 221.6 1377.4 225.1 1378.9 225.1 1378.9 221.6 1380.4 221.4 1380.4 218.1 1381.1 217.9 1381.4 214.4 1381.1 195.4 1380.6 183.9 1380.1 180.9 1379.9 170.6 1378.9 160.6 1378.9 153.9 1379.1 151.6 1379.6 151.4 1380.4 132.9 1380.9 130.6 1381.6 114.4 1382.1 112.4 1383.1 96.4 1383.6 96.4 1383.9 105.6 1384.6 114.1 1385.4 114.1 1385.9 107.6 1386.4 107.6 1387.1 144.9 1386.4 145.1 1385.4 153.9 1385.1 160.6 1386.1 198.1 1386.9 207.6 1387.4 207.9 1387.4 211.1 1388.4 211.1 1389.1 198.1 1388.9 158.4 1388.1 149.4 1389.1 149.1 1389.9 140.9 1390.4 140.6 1391.9 128.6 1392.1 123.4 1392.6 123.4 1393.1 186.4 1393.6 186.6 1394.4 195.1 1396.6 195.1 1397.4 186.6 1397.9 186.4 1397.9 156.1 1396.6 138.6 1395.6 107.4ZM1322.6 65.6 1319.1 65.6 1318.1 132.6 1317.1 160.9 1317.4 183.6 1318.4 195.1 1319.6 195.1 1319.6 192.4 1320.4 192.1 1320.9 183.6 1321.1 156.1 1322.1 124.9ZM1306.9 65.6 1306.6 102.6 1305.6 147.1 1305.6 195.1 1307.1 214.4 1308.1 214.6 1308.1 217.9 1309.9 217.9 1309.9 214.6 1310.6 214.4 1311.6 201.4 1312.1 162.9 1311.9 138.9 1310.9 107.4 1310.6 65.6ZM1241.9 65.6 1242.1 104.1 1242.6 115.9 1243.4 115.9 1243.9 112.4 1244.4 65.6ZM1033.6 65.6 1033.9 123.1 1034.9 132.6 1035.9 132.6 1036.9 65.6ZM1029.1 65.6 1029.4 126.9 1030.1 149.4 1029.9 186.4 1030.6 198.4 1031.1 217.9 1031.6 218.1 1031.6 221.4 1032.1 221.6 1032.4 228.9 1033.1 229.1 1033.1 232.6 1033.6 232.9 1033.6 236.6 1037.1 236.6 1037.4 225.4 1036.4 201.4 1036.1 183.9 1034.4 167.9 1034.4 163.1 1033.6 158.1 1033.4 147.1 1031.9 121.1 1031.6 65.6ZM1018.6 65.6 1016.6 65.6 1016.4 71.1 1016.4 140.6 1017.4 140.6 1017.9 132.9 1018.4 130.6 1019.1 105.6ZM969.4 65.6 963.6 65.6 964.4 77.6 965.1 81.6 966.1 81.6 966.9 75.1 967.4 74.9 967.6 76.1 968.4 76.1 968.4 75.1 968.9 74.9ZM960.1 65.6 960.9 110.6 961.1 112.4 962.1 112.4 962.6 65.6ZM953.4 65.6 952.9 76.4 952.4 207.6 952.9 221.4 955.6 221.4 956.6 183.6 956.4 105.9 954.9 65.6ZM942.6 65.6 942.6 69.6 943.1 72.4 944.4 72.4 944.9 65.6ZM930.4 65.6 930.6 73.6 931.1 76.1 931.9 76.1 932.4 73.6 932.6 65.6ZM924.6 65.6 924.9 73.6 925.1 74.9 925.9 74.9 926.4 70.9 926.4 65.6ZM916.1 65.6 916.4 100.9 916.9 104.1 917.4 104.4 917.4 105.6 918.4 105.6 918.4 104.4 918.9 104.1 919.4 100.9 919.6 65.6ZM907.4 65.6 907.6 80.4 908.1 85.9 908.6 85.9 909.1 81.6 909.4 65.6Z"/>
<path fill="#005cff" fill-rule="evenodd" d="M1238.6 207.9 1238.6 211.1 1238.1 211.4 1237.6 218.1 1237.9 228.9 1240.4 228.9 1240.4 225.4 1240.9 225.1 1240.4 211.4 1239.9 211.1 1239.9 207.9ZM942.6 195.4 942.6 198.1 942.1 198.4 941.6 204.6 941.6 221.4 942.1 221.6 942.6 228.9 945.4 228.9 945.4 225.4 945.9 225.1 946.4 217.9 946.1 207.9 945.4 198.4 944.9 198.1 944.9 195.4ZM1147.6 192.4 1147.6 195.1 1147.1 195.4 1147.1 198.1 1146.6 198.4 1145.1 221.4 1145.6 225.4 1146.1 240.6 1147.1 240.9 1147.1 244.6 1149.9 244.6 1149.9 240.9 1150.9 240.6 1151.1 232.9 1151.6 232.6 1152.4 221.4 1152.4 214.6 1151.6 207.6 1151.4 198.4 1150.9 198.1 1150.4 192.4ZM1133.6 163.1 1134.1 192.1 1134.6 198.1 1135.1 198.4 1135.1 201.4 1136.4 201.4 1136.9 195.1 1136.9 186.6 1136.4 180.9 1136.1 168.1 1135.6 163.1ZM896.6 160.9 896.6 186.4 897.4 195.1 897.9 195.4 898.1 201.4 900.9 201.4 901.4 186.4 901.1 181.1 900.6 180.9 899.4 165.6 898.9 165.4 898.6 160.9ZM1102.4 156.1 1101.4 156.1 1100.1 186.4 1099.1 186.4 1099.1 183.9 1098.4 183.6 1098.4 181.1 1097.4 180.9 1097.4 178.4 1094.4 178.4 1094.4 180.9 1093.4 181.1 1092.9 186.4 1092.1 186.6 1092.1 189.4 1091.6 189.6 1091.6 192.1 1091.1 192.4 1090.6 198.4 1090.4 217.9 1090.6 221.4 1091.1 221.6 1091.4 228.9 1091.9 229.1 1092.1 236.6 1093.6 236.9 1093.6 240.6 1095.9 240.6 1095.9 236.9 1097.9 236.6 1097.9 232.9 1098.4 232.6 1098.9 225.4 1099.6 225.1 1099.6 221.6 1100.1 221.4 1100.6 214.6 1101.4 214.4 1101.4 211.4 1102.1 211.1 1102.1 207.9 1102.6 207.6 1102.6 204.6 1103.1 204.4 1103.4 186.6 1102.9 175.6 1102.9 163.1ZM1362.4 149.4 1361.9 149.4 1361.9 151.4 1361.4 151.6 1360.1 163.1 1360.1 167.9 1358.9 178.4 1357.9 201.6 1357.9 211.1 1358.4 211.4 1358.4 214.4 1360.1 214.4 1360.1 211.4 1361.1 211.1 1361.1 207.9 1361.6 207.6 1362.1 201.4 1362.1 195.4 1362.6 192.1 1363.1 180.9 1363.1 156.1ZM1252.6 149.4 1252.1 149.4 1251.6 153.9 1248.6 221.6 1249.1 228.9 1251.9 228.9 1251.9 225.4 1252.4 225.1 1253.4 204.4 1253.4 163.1 1253.1 153.9ZM1087.4 136.9 1086.9 151.6 1086.9 175.6 1087.1 178.1 1087.6 178.4 1087.6 180.9 1088.4 180.9 1088.9 175.6 1088.9 145.1 1088.4 136.9ZM1067.1 130.9 1067.1 144.9 1068.1 178.1 1068.9 192.1 1069.4 192.4 1069.4 195.1 1069.9 195.4 1069.9 198.1 1070.6 198.4 1070.9 201.6 1070.9 221.4 1071.4 221.6 1071.4 225.1 1072.1 225.4 1072.6 232.6 1073.4 232.9 1073.4 236.6 1074.4 236.9 1074.4 240.6 1078.9 240.6 1078.9 236.9 1079.6 236.6 1079.6 232.9 1080.1 232.6 1080.9 221.6 1081.4 221.6 1081.9 228.9 1086.1 228.9 1086.1 225.4 1086.6 225.1 1086.4 192.4 1085.9 192.1 1085.9 189.6 1085.4 189.4 1085.4 186.6 1084.6 186.4 1084.6 183.9 1082.6 183.9 1082.6 186.4 1081.9 186.6 1081.9 189.4 1081.4 189.6 1081.4 192.1 1080.9 192.4 1080.6 204.6 1079.9 195.4 1079.4 195.1 1078.9 186.6 1078.4 186.4 1078.4 183.9 1077.6 183.6 1077.6 181.1 1076.6 180.9 1076.6 178.4 1072.6 178.4 1072.6 180.9 1072.1 180.9 1070.9 167.9 1070.9 163.1 1070.1 158.1 1069.6 147.1 1069.1 144.9 1069.1 140.9 1068.4 136.6 1068.1 130.9ZM1324.9 112.6 1324.9 114.1 1324.4 114.4 1323.6 125.1 1323.1 151.4 1323.9 158.1 1326.1 158.1 1326.9 151.4 1326.4 119.6 1325.9 114.4 1325.4 114.1 1325.4 112.6ZM953.6 71.1 953.1 80.6 952.4 201.4 953.1 217.9 953.9 218.1 953.9 221.4 954.9 221.4 954.9 218.1 955.4 217.9 955.9 211.1 956.4 189.4 956.4 116.1 955.9 91.9 955.1 76.4 954.6 71.1ZM1396.6 65.6 1376.9 65.6 1376.6 66.1 1376.4 90.1 1375.1 116.1 1374.9 132.6 1374.6 134.6 1373.9 134.6 1373.6 125.1 1373.1 124.9 1373.1 123.4 1372.1 123.4 1372.1 124.9 1371.6 125.1 1371.1 128.9 1371.4 155.9 1370.9 158.4 1370.9 180.9 1371.6 189.6 1371.9 201.4 1372.4 201.6 1372.6 207.6 1373.1 207.9 1373.1 211.1 1373.6 211.4 1373.6 214.4 1374.1 214.6 1374.1 217.9 1375.6 218.1 1375.6 221.4 1380.1 221.4 1380.1 218.1 1380.9 217.9 1381.1 214.4 1381.1 198.4 1380.6 195.1 1380.1 178.4 1379.6 175.6 1379.6 170.6 1379.1 167.9 1378.6 156.1 1379.6 149.1 1380.1 134.9 1380.6 132.6 1381.4 121.1 1381.4 116.1 1381.9 114.1 1383.4 93.4 1383.9 93.4 1383.9 102.6 1384.6 110.6 1385.4 110.6 1385.9 107.4 1385.9 102.9 1386.4 102.9 1386.4 115.9 1386.9 123.4 1387.4 146.9 1386.6 147.1 1386.6 149.1 1386.1 149.4 1385.4 156.1 1385.9 186.4 1386.9 201.4 1388.6 201.4 1388.9 195.1 1388.6 156.1 1387.9 149.4 1388.9 149.1 1390.1 138.9 1390.6 138.6 1392.4 121.1 1393.1 138.9 1393.4 186.4 1393.9 186.6 1394.1 192.1 1395.1 192.4 1395.1 195.1 1395.9 195.1 1395.9 192.4 1396.9 192.1 1397.1 186.6 1397.6 186.4 1397.6 153.9 1396.1 132.6 1395.6 114.1 1395.6 98.1ZM1322.6 65.6 1319.1 65.6 1319.1 87.4 1318.4 112.6 1318.4 126.9 1317.4 153.9 1317.4 180.9 1318.1 189.4 1318.6 189.6 1318.6 192.1 1319.6 192.1 1319.6 189.6 1320.1 189.4 1320.9 178.1 1321.1 151.6 1321.9 132.6 1322.1 86.1ZM1306.9 65.6 1306.6 109.1 1305.6 156.1 1305.9 195.1 1306.9 211.1 1307.6 211.4 1307.6 214.4 1310.1 214.4 1310.1 211.4 1310.6 211.1 1311.6 198.1 1311.9 189.4 1311.9 147.1 1310.6 100.9 1310.6 67.4 1310.4 65.6ZM1241.9 65.6 1242.4 102.6 1242.9 109.1 1243.4 109.1 1243.9 100.9 1244.4 65.6ZM1033.9 65.6 1034.1 114.1 1034.6 124.9 1035.4 124.9 1036.1 109.1 1036.6 65.6ZM1029.1 65.6 1029.4 121.1 1030.4 151.6 1030.1 186.4 1031.4 217.9 1031.9 218.1 1032.1 225.1 1032.9 225.4 1032.9 228.9 1033.4 229.1 1033.4 232.6 1034.6 232.9 1034.6 236.6 1036.4 236.6 1036.4 232.9 1036.9 232.6 1037.1 221.6 1036.6 214.4 1035.9 183.9 1034.6 172.9 1034.6 168.1 1033.6 160.6 1031.6 119.4 1031.6 65.6ZM1017.9 65.6 1017.4 65.6 1016.9 68.6 1016.4 86.1 1016.4 119.4 1017.1 130.6 1018.1 126.9 1018.9 107.4 1018.6 76.4ZM969.1 65.6 963.9 65.6 964.1 72.4 964.9 78.9 966.1 78.9 966.9 74.9 966.9 72.6 967.4 72.6 967.4 73.6 968.6 73.6ZM960.1 65.6 961.1 93.1 961.9 93.1 962.6 65.6ZM942.6 65.6 943.1 69.6 944.4 69.6 944.6 65.6ZM930.6 65.6 930.9 70.9 932.1 70.9 932.4 65.6ZM916.1 65.6 916.6 100.9 917.1 101.1 917.6 104.1 918.1 104.1 918.1 102.9 918.9 102.6 919.1 100.9 919.6 65.6ZM907.6 65.6 908.1 73.6 908.6 73.6 909.1 65.6Z"/>
<path fill="#007aff" fill-rule="evenodd" d="M1238.4 221.6 1238.4 225.1 1240.1 225.1 1240.1 221.6ZM942.6 201.6 942.6 204.4 942.1 204.6 941.6 211.4 941.6 217.9 942.1 218.1 942.1 221.4 942.6 221.6 942.6 225.1 945.1 225.1 945.1 221.6 945.6 221.4 945.9 217.9 945.4 204.6 944.9 204.4 944.9 201.6ZM1148.4 195.4 1148.4 198.1 1147.4 198.4 1146.6 207.6 1146.1 207.9 1145.4 221.4 1146.4 232.9 1146.6 240.6 1150.4 240.6 1150.4 236.9 1150.9 236.6 1151.1 229.1 1151.6 228.9 1152.1 221.4 1151.9 211.4 1151.1 201.6 1150.6 201.4 1150.6 198.4 1149.4 198.1 1149.4 195.4ZM1082.9 186.6 1082.9 189.4 1081.9 189.6 1081.9 192.1 1081.1 192.4 1081.9 225.1 1082.9 225.4 1082.9 228.9 1085.1 228.9 1085.1 225.4 1086.1 225.1 1086.1 192.4 1085.4 192.1 1085.4 189.6 1084.4 189.4 1084.4 186.6ZM1134.6 173.1 1134.4 189.4 1134.6 192.1 1135.1 192.4 1135.1 195.1 1136.1 195.1 1136.4 183.9 1135.4 173.1ZM897.4 173.1 897.4 189.4 897.9 189.6 897.9 192.1 898.4 192.4 898.4 195.1 900.4 195.1 900.9 183.9 900.4 183.6 899.9 175.9 899.4 175.6 899.4 173.1ZM1102.4 168.1 1101.4 168.1 1100.9 173.1 1100.4 189.4 1099.1 189.4 1098.6 183.9 1097.4 183.6 1097.4 181.1 1094.4 181.1 1094.4 183.6 1093.4 183.9 1093.4 186.4 1092.6 186.6 1092.1 192.1 1091.4 192.4 1090.6 217.9 1091.1 218.1 1091.4 225.1 1091.9 225.4 1092.6 236.6 1097.4 236.6 1097.4 232.9 1098.1 232.6 1098.1 229.1 1098.6 228.9 1099.1 221.6 1099.6 221.4 1099.6 218.1 1100.1 217.9 1100.6 207.9 1102.1 207.6 1102.1 204.6 1102.6 204.4 1102.6 201.6 1103.1 201.4ZM1252.6 165.6 1251.6 165.6 1251.1 170.6 1250.6 186.4 1250.1 189.6 1248.9 225.1 1249.9 225.4 1249.9 228.9 1251.1 228.9 1251.1 225.4 1252.1 225.1 1252.4 214.6 1252.9 211.1 1253.1 175.9ZM1362.4 160.9 1361.1 160.9 1361.1 162.9 1360.6 163.1 1359.1 178.4 1358.1 201.6 1358.4 211.1 1360.6 211.1 1360.6 207.9 1361.4 207.6 1361.9 201.4 1362.1 189.6 1362.9 180.9 1362.9 165.6ZM1386.1 151.6 1385.6 156.1 1385.6 165.4 1386.4 189.4 1386.9 195.1 1388.1 195.1 1388.6 189.4 1388.4 156.1 1387.9 151.6ZM1087.6 151.6 1087.1 175.6 1087.6 175.9 1087.6 178.1 1088.1 178.1 1088.1 175.9 1088.6 175.6 1088.4 153.9 1088.1 151.6ZM1068.1 147.1 1067.9 160.6 1068.6 175.9 1068.6 183.6 1069.1 192.1 1069.6 192.4 1069.6 195.1 1070.4 195.4 1070.4 198.1 1070.9 198.4 1071.1 201.6 1071.1 221.4 1071.6 221.6 1071.6 225.1 1072.4 225.4 1072.9 232.6 1073.6 232.9 1073.6 236.6 1074.9 236.9 1074.9 240.6 1078.4 240.6 1078.4 236.9 1079.4 236.6 1079.4 232.9 1079.9 232.6 1080.1 225.4 1080.6 225.1 1080.9 221.4 1080.4 201.6 1079.9 201.4 1079.6 195.4 1079.1 195.1 1078.1 183.9 1077.1 183.6 1077.1 181.1 1072.6 181.1 1072.6 183.6 1071.9 183.6 1071.9 178.4 1069.9 160.6 1069.9 156.1 1069.1 149.4 1068.6 149.1 1068.6 147.1ZM1324.6 117.9 1324.1 121.4 1323.6 132.9 1323.4 151.4 1323.9 155.9 1326.1 155.9 1326.6 151.4 1326.4 128.9 1325.9 119.6 1325.4 119.4 1325.4 117.9ZM1017.1 80.6 1016.4 100.9 1017.1 117.6 1017.6 117.6 1018.6 105.6 1018.6 91.9 1017.9 80.6ZM953.9 80.6 953.4 86.1 952.6 201.4 953.6 214.4 955.1 214.4 955.9 204.4 956.4 178.1 956.4 125.1 955.4 86.1 954.9 80.6ZM1386.4 70.9 1386.4 83.4ZM1396.4 65.6 1376.9 65.6 1376.6 84.4 1375.1 119.6 1375.1 128.6 1373.6 140.9 1373.6 128.9 1373.1 128.6 1373.1 127.1 1371.9 127.1 1371.9 128.6 1371.4 128.9 1371.6 155.9 1371.1 158.4 1371.1 180.9 1371.6 192.1 1372.1 195.4 1372.1 201.4 1372.6 201.6 1372.9 207.6 1373.4 207.9 1373.4 211.1 1373.9 211.4 1373.9 214.4 1374.4 214.6 1374.4 217.9 1376.1 218.1 1376.1 221.4 1379.6 221.4 1379.6 218.1 1380.6 217.9 1380.9 214.4 1380.6 192.4 1380.1 189.4 1379.6 173.1 1379.1 170.4 1378.4 156.1 1378.9 151.6 1379.4 151.4 1380.1 132.9 1380.6 130.6 1381.1 119.6 1383.4 91.9 1383.9 91.9 1383.9 100.9 1384.6 107.4 1385.4 107.4 1385.9 101.1 1386.4 101.1 1387.4 149.1 1388.9 149.1 1389.4 142.9 1389.9 142.6 1391.9 126.9 1392.1 119.6 1392.6 119.6 1393.4 142.9 1393.6 186.4 1394.1 186.6 1394.1 189.4 1394.9 189.6 1394.9 192.1 1396.1 192.1 1396.1 189.6 1396.9 189.4 1396.9 186.6 1397.4 186.4 1397.6 158.4 1395.9 130.6 1395.4 109.1ZM1322.4 65.6 1319.4 65.6 1318.4 132.6 1317.4 158.4 1317.6 180.9 1318.1 186.4 1320.1 186.4 1320.6 180.9 1321.1 147.1 1321.9 124.9ZM1306.9 65.6 1306.9 102.6 1305.9 145.1 1305.9 189.4 1306.1 198.1 1306.9 207.6 1307.4 207.9 1307.4 211.1 1310.4 211.1 1310.6 204.6 1311.6 195.1 1311.9 172.9 1311.6 138.9 1310.6 107.4 1310.4 65.6ZM1242.1 65.6 1242.6 94.6 1242.9 96.1 1243.4 96.1 1243.9 87.4 1244.1 65.6ZM1036.6 65.6 1034.1 65.6 1034.4 102.6 1034.9 107.4 1035.4 107.4 1035.9 100.9ZM1029.4 65.6 1029.6 123.1 1030.6 151.6 1030.4 189.4 1031.1 211.1 1031.9 221.4 1032.4 221.6 1032.4 225.1 1033.1 225.4 1033.1 228.9 1034.1 229.1 1034.1 232.6 1036.4 232.6 1036.9 221.6 1036.1 204.4 1035.9 186.6 1034.9 178.1 1034.9 173.1 1033.4 160.6 1032.1 128.9 1031.6 124.9 1031.4 65.6ZM969.1 65.6 963.9 65.6 964.9 76.1 966.4 76.1 966.9 69.9 967.4 69.9 967.4 70.9 968.6 70.9ZM960.4 65.6 960.6 76.1 960.9 77.6 961.9 77.6 962.4 72.4 962.4 65.6ZM943.1 65.6 943.4 67.1 944.1 67.1 944.4 65.6ZM930.9 65.6 930.9 67.1 932.1 67.1 932.1 65.6ZM916.4 65.6 916.9 99.4 917.1 100.9 918.6 100.9 919.1 91.6 919.4 65.6Z"/>
<path fill="#0099ff" fill-rule="evenodd" d="M942.6 207.9 942.6 211.1 942.1 211.4 942.1 217.9 942.6 218.1 942.6 221.4 944.9 221.4 944.9 218.1 945.6 217.9 945.1 207.9ZM1147.9 201.6 1147.9 204.4 1147.1 204.6 1147.1 207.6 1146.6 207.9 1145.9 218.1 1146.1 228.9 1146.6 229.1 1146.9 236.6 1150.1 236.6 1150.1 232.9 1150.9 232.6 1151.1 225.4 1151.6 225.1 1151.9 218.1 1151.1 207.9 1150.6 207.6 1150.1 201.6ZM1083.1 189.6 1083.1 192.1 1081.6 192.4 1081.9 211.1 1082.6 221.4 1083.1 221.6 1083.1 225.1 1084.9 225.1 1085.6 214.4 1085.6 192.4 1084.1 192.1 1084.1 189.6ZM1094.1 183.9 1094.1 186.4 1093.1 186.6 1093.1 189.4 1092.4 189.6 1092.4 192.1 1091.9 192.4 1091.1 204.6 1091.1 217.9 1091.4 221.4 1091.9 221.6 1092.1 228.9 1092.6 229.1 1092.6 232.6 1093.1 232.9 1093.1 236.6 1096.9 236.6 1096.9 232.9 1097.6 232.6 1098.1 225.4 1098.9 225.1 1098.9 221.6 1099.4 221.4 1099.4 218.1 1099.9 217.9 1100.1 204.6 1101.9 204.4 1101.9 201.6 1102.6 201.4 1102.6 192.4 1102.1 186.6 1101.1 186.6 1100.4 195.4 1100.1 192.4 1099.4 192.1 1099.4 189.6 1098.6 189.4 1098.6 186.6 1097.6 186.4 1097.6 183.9ZM1252.4 181.1 1251.1 181.1 1249.6 211.4 1249.6 225.1 1251.6 225.1 1252.1 217.9 1252.1 211.4 1252.9 201.4 1252.9 189.6ZM1361.9 168.1 1361.1 168.1 1361.1 170.4 1360.4 170.6 1359.4 181.1 1358.6 198.4 1358.6 207.6 1360.6 207.6 1360.6 204.6 1361.1 204.4 1362.1 183.9 1362.6 180.9 1362.4 170.6 1361.9 170.4ZM1069.1 165.6 1069.1 189.4 1069.4 192.1 1070.1 192.4 1070.6 198.1 1071.4 198.4 1071.4 221.4 1071.9 221.6 1071.9 225.1 1072.6 225.4 1073.1 232.6 1073.9 232.9 1073.9 236.6 1075.4 236.9 1075.4 240.6 1077.9 240.6 1077.9 236.9 1079.1 236.6 1079.1 232.9 1079.6 232.6 1079.9 225.4 1080.4 225.1 1080.6 221.4 1080.1 201.6 1079.6 201.4 1079.4 195.4 1078.9 195.1 1078.6 189.6 1078.1 189.4 1077.6 183.9 1076.1 183.6 1076.1 181.1 1073.6 181.1 1073.6 183.6 1072.6 183.9 1072.6 186.4 1071.9 186.4 1070.6 170.6 1070.1 170.4 1069.9 165.6ZM1386.4 153.9 1386.4 155.9 1385.9 156.1 1385.9 162.9 1386.9 183.6 1387.9 183.6 1388.1 156.1 1387.6 155.9 1387.6 153.9ZM1324.6 127.1 1323.6 140.9 1323.6 151.4 1323.9 153.6 1326.1 153.6 1326.1 132.9 1325.6 127.1ZM1017.4 94.9 1016.9 100.9 1017.1 104.1 1017.9 104.1 1018.4 99.6 1017.9 94.9ZM954.1 89.1 953.6 91.9 953.4 101.1 952.9 201.4 953.4 207.6 955.1 207.6 956.1 183.6 956.1 121.4 955.4 93.4 954.9 89.1ZM1386.6 65.6 1386.4 104.1 1387.4 134.9 1387.4 149.1 1388.9 149.1 1389.6 140.9 1390.1 140.6 1391.4 130.6 1392.4 116.1 1392.9 116.1 1393.6 145.1 1393.9 183.6 1394.1 186.4 1394.6 186.6 1394.6 189.4 1396.4 189.4 1396.4 186.6 1396.9 186.4 1397.1 183.6 1397.4 156.1 1395.6 130.6 1395.6 117.9 1395.1 105.6 1396.4 65.6ZM1386.1 65.6 1376.9 65.6 1376.6 88.9 1375.1 121.4 1375.1 132.6 1374.4 138.6 1373.9 138.9 1373.6 142.6 1373.1 142.6 1372.9 136.9 1372.1 136.9 1371.4 156.1 1371.4 183.6 1371.9 186.6 1372.4 201.4 1372.9 201.6 1373.1 207.6 1373.6 207.9 1373.6 211.1 1374.1 211.4 1374.1 214.4 1374.9 214.6 1374.9 217.9 1376.9 218.1 1376.9 221.4 1378.9 221.4 1378.9 218.1 1380.4 217.9 1380.6 214.4 1380.4 192.4 1378.1 156.1 1378.6 155.9 1379.4 149.1 1379.9 134.9 1380.9 126.9 1380.9 121.4 1383.6 90.1 1383.6 79.1 1384.1 79.1 1384.1 100.9 1384.6 104.1 1385.4 104.1 1385.9 100.9ZM1322.4 65.6 1319.4 65.6 1319.6 76.1 1318.9 101.1 1318.6 126.9 1317.6 153.9 1317.6 172.9 1318.1 183.6 1320.1 183.6 1320.6 175.6 1320.6 163.1 1321.6 132.6 1321.9 84.6ZM1307.1 65.6 1307.1 91.6 1305.9 153.9 1306.1 195.1 1307.1 207.6 1307.9 207.9 1307.9 211.1 1309.6 211.1 1309.6 207.9 1310.4 207.6 1310.6 201.6 1311.1 201.4 1311.6 189.4 1311.6 145.1 1310.4 102.6 1310.4 65.6ZM1242.4 65.6 1242.6 81.6 1242.9 83.1 1243.4 83.1 1243.9 74.9 1243.9 65.6ZM1034.4 65.6 1034.6 87.4 1034.9 88.9 1035.6 88.9 1036.4 65.6ZM1029.6 65.6 1029.9 123.1 1031.1 156.1 1030.6 168.1 1030.6 192.1 1031.4 204.6 1031.4 214.4 1031.6 217.9 1032.1 218.1 1032.1 221.4 1032.9 221.6 1032.9 225.1 1033.6 225.4 1033.6 228.9 1036.1 228.9 1036.4 207.9 1035.9 201.4 1035.4 181.1 1032.9 158.1 1032.4 140.9 1031.4 124.9 1031.4 65.6ZM968.9 65.6 964.1 65.6 964.9 73.6 966.4 73.6 966.9 67.4 967.4 67.4 967.6 69.6 968.4 69.6ZM960.6 65.6 960.6 69.6 961.1 72.4 961.9 72.4 962.1 65.6ZM916.6 65.6 917.1 91.6 917.6 94.6 918.4 94.6 918.9 87.4 919.1 65.6Z"/>
<path fill="#00b8ff" fill-rule="evenodd" d="M943.1 214.6 943.1 217.9 944.6 217.9 944.6 214.6ZM1147.4 207.9 1147.4 211.1 1146.9 211.4 1146.9 214.4 1146.4 214.6 1146.1 218.1 1146.6 228.9 1147.4 229.1 1147.4 232.6 1150.1 232.6 1150.1 229.1 1150.6 228.9 1150.6 225.4 1151.1 225.1 1151.4 221.4 1150.9 211.4 1150.4 211.1 1150.4 207.9ZM1250.9 195.4 1250.6 207.6 1251.9 207.6 1252.4 198.4 1252.1 195.4ZM1082.4 195.4 1082.6 201.4 1084.6 201.4 1084.9 195.4ZM1094.1 186.6 1094.1 189.4 1093.1 189.6 1093.1 192.1 1092.1 192.4 1091.4 217.9 1091.9 218.1 1092.6 228.9 1093.4 229.1 1093.4 232.6 1096.9 232.6 1096.9 229.1 1097.6 228.9 1097.6 225.4 1098.4 225.1 1098.9 218.1 1099.6 217.9 1099.9 195.4 1099.6 192.4 1098.9 192.1 1098.9 189.6 1097.9 189.4 1097.9 186.6ZM1073.4 183.9 1073.4 186.4 1072.6 186.6 1071.6 198.4 1071.6 221.4 1072.1 221.6 1072.6 228.9 1073.4 229.1 1073.4 232.6 1074.1 232.9 1074.1 236.6 1078.9 236.6 1078.9 232.9 1079.4 232.6 1079.6 225.4 1080.1 225.1 1080.4 221.4 1079.9 201.6 1079.4 201.4 1079.1 195.4 1078.6 195.1 1078.6 192.4 1078.1 192.1 1078.1 189.6 1077.6 189.4 1077.6 186.6 1076.6 186.4 1076.6 183.9ZM1069.9 183.9 1070.1 192.1 1071.6 192.1 1071.1 183.9ZM1361.9 178.4 1360.1 178.4 1359.9 192.1 1360.9 192.1 1360.9 189.6 1361.4 189.4ZM1031.4 160.9 1030.9 168.1 1030.6 186.4 1031.1 192.4 1031.1 201.4 1031.9 217.9 1032.4 218.1 1032.4 221.4 1033.1 221.6 1033.1 225.1 1036.1 225.1 1036.1 207.9 1035.4 192.1 1035.4 183.9 1033.4 163.1 1032.9 162.9 1032.9 160.9ZM1386.6 156.1 1386.4 160.6 1386.6 162.9 1387.1 163.1 1387.1 165.4 1387.1 163.1 1387.6 162.9 1387.4 156.1ZM1324.6 136.9 1323.9 145.1 1323.9 151.4 1324.6 151.6 1324.6 153.6 1325.4 153.6 1325.4 151.6 1326.1 151.4 1326.1 142.9 1325.6 136.9ZM954.1 99.6 953.4 121.4 953.1 192.1 953.4 201.4 955.1 201.4 955.9 183.6 955.9 119.6 954.9 99.6ZM1386.9 65.6 1386.6 115.9 1387.4 130.9 1387.6 149.1 1388.6 149.1 1390.1 136.9 1390.6 136.6 1391.1 128.9 1391.9 124.9 1392.4 114.4 1392.9 114.4 1393.4 126.9 1393.9 128.9 1393.6 140.6 1394.4 183.6 1394.6 186.4 1396.4 186.4 1396.9 178.1 1397.1 156.1 1396.4 149.1 1395.6 132.9 1395.1 130.6 1395.1 98.1 1395.6 90.1 1396.1 65.6ZM1386.1 65.6 1377.1 65.6 1376.9 68.6 1376.6 91.6 1375.4 117.9 1375.1 134.6 1374.9 136.6 1374.4 136.9 1373.4 146.9 1372.9 147.1 1372.1 155.9 1371.6 156.1 1371.9 189.4 1372.4 192.4 1372.9 204.4 1373.4 204.6 1373.4 207.6 1373.9 207.9 1374.4 214.4 1375.1 214.6 1375.1 217.9 1380.1 217.9 1380.4 195.4 1379.9 192.1 1379.4 175.9 1378.4 165.4 1378.1 156.1 1379.1 149.1 1379.9 132.9 1380.9 124.9 1381.4 112.6 1383.4 91.6 1383.6 73.9 1384.1 73.9 1384.4 99.4 1384.6 100.9 1385.4 100.9 1385.6 99.4ZM1322.4 65.6 1319.6 65.6 1319.6 84.4 1318.9 107.6 1318.9 121.1 1317.6 158.4 1317.9 175.6 1318.4 180.9 1319.9 180.9 1320.4 175.6 1321.6 123.1 1321.9 73.9ZM1307.1 65.6 1307.1 104.1 1306.1 140.9 1306.1 189.4 1307.6 207.6 1310.1 207.6 1310.4 201.6 1310.9 201.4 1311.6 180.9 1311.6 151.6 1310.1 91.6 1310.4 65.6ZM1242.6 65.6 1242.9 69.6 1243.4 69.6 1243.6 65.6ZM1034.6 65.6 1034.9 70.9 1035.6 70.9 1035.9 65.6ZM1029.9 65.6 1030.1 88.9 1030.6 91.6 1030.9 65.6ZM967.4 65.6 967.6 67.1 968.4 67.1 968.6 65.6ZM964.4 65.6 964.4 68.4 964.9 70.9 965.4 71.1 965.4 72.4 965.9 72.4 965.9 71.1 966.4 70.9 966.9 65.6ZM960.9 65.6 961.1 67.1 961.6 67.1 961.9 65.6ZM916.9 65.6 917.1 76.1 917.6 80.4 918.1 80.4 918.6 76.1 918.9 65.6Z"/>
<path fill="#00d6ff" fill-rule="evenodd" d="M1148.6 211.4 1148.6 214.4 1147.1 214.6 1146.6 221.4 1146.9 225.1 1148.1 225.4 1148.1 228.9 1149.4 228.9 1149.4 225.4 1150.6 225.1 1151.1 218.1 1150.6 217.9 1150.6 214.6 1149.1 214.4 1149.1 211.4ZM1093.9 189.6 1093.9 192.1 1092.9 192.4 1092.9 195.1 1092.4 195.4 1091.9 217.9 1092.4 218.1 1092.4 221.4 1092.9 221.6 1092.9 225.1 1093.6 225.4 1093.6 228.9 1096.6 228.9 1096.6 225.4 1097.6 225.1 1097.6 221.6 1098.4 221.4 1098.4 218.1 1099.1 217.9 1099.4 195.4 1099.1 192.4 1098.1 192.1 1098.1 189.6ZM1073.6 186.6 1073.6 189.4 1072.9 189.6 1072.9 192.1 1072.4 192.4 1071.9 198.4 1071.9 221.4 1072.4 221.6 1072.9 228.9 1073.6 229.1 1073.6 232.6 1074.6 232.9 1074.6 236.6 1078.4 236.6 1078.4 232.9 1079.1 232.6 1079.4 225.4 1079.9 225.1 1080.1 221.4 1079.6 201.6 1079.1 201.4 1079.1 198.4 1078.6 198.1 1078.6 195.4 1078.1 195.1 1077.6 189.6 1076.6 189.4 1076.6 186.6ZM1031.6 165.6 1031.1 170.6 1030.9 186.4 1032.1 217.9 1032.9 218.1 1032.9 221.4 1035.9 221.4 1035.9 207.9 1035.1 183.9 1033.9 170.6 1033.4 170.4 1032.9 165.6ZM1324.4 147.1 1324.4 151.4 1325.6 151.4 1325.6 147.1ZM1394.6 140.9 1394.1 149.4 1394.4 167.9 1394.9 172.9 1396.1 172.9 1396.6 167.9 1396.6 153.9 1396.1 151.4 1396.1 147.1 1395.4 140.9ZM954.1 112.6 953.6 123.4 953.4 183.6 953.9 192.1 954.9 192.1 955.6 180.9 955.9 128.9 955.4 116.1 954.9 112.6ZM1396.1 65.6 1386.9 65.6 1386.6 112.4 1387.9 149.1 1388.4 149.1 1388.4 147.1 1388.9 146.9 1389.4 140.9 1389.9 140.6 1391.6 126.9 1391.9 119.6 1392.6 114.1 1392.6 109.4 1393.1 109.4 1393.6 119.4 1394.6 119.4 1394.9 99.6ZM1385.9 65.6 1384.4 65.6 1384.4 80.4 1384.9 88.9 1385.4 87.4ZM1383.9 65.6 1377.1 65.6 1376.6 94.6 1375.4 119.6 1375.4 134.6 1374.9 138.6 1374.4 138.9 1373.6 146.9 1373.1 147.1 1372.6 153.6 1372.1 153.9 1371.9 156.1 1371.6 180.9 1372.4 189.6 1372.4 195.1 1373.1 204.4 1373.6 204.6 1373.6 207.6 1374.1 207.9 1374.6 214.4 1375.6 214.6 1375.6 217.9 1379.6 217.9 1379.6 214.6 1380.1 214.4 1380.1 195.4 1379.4 178.4 1378.9 175.6 1378.9 170.6 1377.9 160.6 1377.9 156.1 1378.9 151.4 1379.6 134.9 1380.1 132.6 1380.1 128.9 1380.6 126.9 1381.1 119.4 1381.1 114.4 1381.6 112.4 1381.9 105.9 1383.4 90.1ZM1322.1 65.6 1319.6 65.6 1319.9 83.1 1319.1 104.4 1318.9 128.6 1317.9 153.9 1317.9 167.9 1318.4 175.6 1319.9 175.6 1320.4 170.4 1321.4 130.6 1321.6 73.9ZM1307.1 65.6 1307.4 100.9 1306.9 109.4 1306.1 147.1 1306.1 183.6 1306.6 198.1 1307.1 198.4 1307.4 204.4 1310.1 204.4 1310.1 201.6 1310.6 201.4 1311.1 195.1 1311.4 186.4 1311.4 140.9 1310.1 104.1 1310.1 65.6ZM964.4 65.6 964.6 68.4 965.1 68.6 965.1 69.6 966.1 69.6 966.6 65.6Z"/>
<path fill="#00f5ff" fill-rule="evenodd" d="M1147.4 218.1 1147.4 221.4 1150.1 221.4 1150.1 218.1ZM1093.6 192.4 1093.6 195.1 1093.1 195.4 1092.4 217.9 1093.1 218.1 1093.1 221.4 1097.6 221.4 1097.6 218.1 1098.6 217.9 1098.9 195.4 1098.4 195.1 1098.4 192.4ZM1073.6 189.6 1073.6 192.1 1072.9 192.4 1071.9 204.6 1071.9 221.4 1072.6 221.6 1072.6 225.1 1073.4 225.4 1073.4 228.9 1074.1 229.1 1074.1 232.6 1075.4 232.9 1075.4 236.6 1077.6 236.6 1077.6 232.9 1078.6 232.6 1078.6 229.1 1079.1 228.9 1079.1 225.4 1079.6 225.1 1079.9 221.4 1079.6 204.6 1079.1 204.4 1078.4 195.4 1077.6 195.1 1077.6 192.4 1076.6 192.1 1076.6 189.6ZM1032.1 170.6 1032.1 172.9 1031.6 173.1 1031.1 181.1 1032.1 214.4 1032.6 214.6 1032.6 217.9 1033.6 218.1 1033.6 221.4 1035.1 221.4 1035.1 218.1 1035.6 217.9 1035.6 207.9 1034.9 183.9 1034.4 178.4 1033.9 178.1 1033.6 173.1 1033.1 172.9 1033.1 170.6ZM954.4 125.1 953.9 134.9 953.9 178.1 955.1 178.1 955.4 128.9 954.9 125.1ZM1395.9 65.6 1386.9 65.6 1386.6 104.1 1386.9 119.4 1387.6 132.9 1387.6 142.6 1388.1 146.9 1388.4 145.1 1389.1 144.9 1389.6 138.9 1390.1 138.6 1391.1 130.6 1391.1 127.1 1391.9 123.1 1392.9 109.1 1392.9 104.4 1394.1 104.1 1394.4 102.6ZM1385.6 65.6 1384.6 65.6 1384.9 70.9 1385.4 69.6ZM1383.6 65.6 1377.1 65.6 1376.9 90.1 1375.6 114.4 1375.4 138.6 1375.1 140.6 1374.6 140.9 1374.6 142.6 1374.1 142.9 1372.6 155.9 1372.1 156.1 1371.9 180.9 1372.6 189.6 1372.6 195.1 1373.4 204.4 1373.9 204.6 1373.9 207.6 1374.4 207.9 1374.4 211.1 1375.1 211.4 1375.1 214.4 1376.6 214.6 1376.6 217.9 1378.4 217.9 1378.4 214.6 1379.6 214.4 1379.9 211.1 1379.9 195.4 1379.1 178.4 1378.6 175.6 1378.6 170.6 1378.1 167.9 1377.6 158.4 1378.9 149.1 1379.6 132.9 1380.4 128.6 1381.9 104.4 1382.4 102.6 1383.4 90.1ZM1322.1 65.6 1319.6 65.6 1319.9 72.4 1320.6 76.1 1320.1 80.6 1318.9 134.6 1318.1 151.6 1318.4 170.4 1319.9 170.4 1320.4 162.9 1321.1 134.6 1321.4 99.4 1320.9 75.1 1321.4 74.9ZM1307.4 65.6 1307.6 96.1 1306.9 114.4 1306.1 156.1 1306.4 189.4 1307.4 201.4 1310.4 201.4 1311.1 192.1 1311.4 180.9 1311.4 147.1 1310.4 119.4 1310.4 109.4 1309.9 102.6 1310.1 65.6ZM964.9 65.6 964.9 67.1 966.1 67.1 966.4 65.6Z"/>
<path fill="#1affe5" fill-rule="evenodd" d="M1094.9 195.4 1094.4 201.4 1093.9 201.6 1093.1 211.4 1093.4 217.9 1097.6 217.9 1097.9 204.6 1097.1 195.4ZM1073.9 192.4 1073.9 195.1 1073.1 195.4 1073.1 198.1 1072.6 198.4 1072.1 204.6 1072.1 221.4 1072.9 221.6 1072.9 225.1 1073.6 225.4 1073.6 228.9 1074.6 229.1 1074.6 232.6 1078.1 232.6 1078.1 229.1 1078.9 228.9 1078.9 225.4 1079.4 225.1 1079.4 221.6 1079.9 221.4 1079.6 211.4 1078.9 201.6 1078.4 201.4 1077.9 195.4 1076.9 195.1 1076.9 192.4ZM1031.9 178.4 1031.4 186.4 1032.6 214.4 1033.1 214.6 1033.1 217.9 1035.1 217.9 1034.6 183.9 1034.1 183.6 1033.9 178.4ZM1320.4 107.6 1319.9 109.4 1319.4 119.6 1319.1 136.6 1318.1 158.4 1318.4 165.4 1319.1 165.6 1319.1 167.9 1319.4 165.6 1319.9 165.4 1320.4 158.1 1320.4 145.1 1320.9 132.6 1320.9 114.4ZM1395.6 65.6 1387.1 65.6 1386.9 115.9 1388.1 144.9 1388.6 144.9 1388.6 142.9 1389.1 142.6 1389.1 140.9 1389.6 140.6 1391.6 124.9 1391.9 117.9 1392.4 115.9 1392.4 110.9 1393.1 104.1 1393.4 96.1 1393.4 68.6 1393.9 68.6 1394.1 80.4 1394.9 80.4ZM1383.6 65.6 1377.4 65.6 1376.9 91.6 1375.6 117.9 1375.4 144.9 1374.4 145.1 1374.1 149.1 1373.6 149.4 1372.9 155.9 1372.4 156.1 1372.1 180.9 1372.6 192.1 1373.1 195.4 1373.1 201.4 1373.6 201.6 1373.6 204.4 1374.1 204.6 1374.1 207.6 1374.9 207.9 1374.9 211.1 1375.6 211.4 1375.6 214.4 1379.1 214.4 1379.6 207.6 1379.6 195.4 1378.9 178.4 1378.4 175.6 1378.4 170.6 1377.9 167.9 1377.4 158.4 1378.6 149.1 1379.1 136.9 1379.9 132.6 1381.4 109.4 1381.9 107.4 1383.1 91.6ZM1319.9 65.6 1320.1 70.9 1320.6 71.1 1320.6 72.4 1321.1 72.4 1321.1 71.1 1321.6 70.9 1321.9 65.6ZM1307.4 65.6 1307.4 69.6 1307.9 71.1 1307.9 100.9 1307.4 105.9 1306.6 128.9 1306.4 183.6 1307.1 198.1 1307.9 198.4 1307.9 201.4 1309.6 201.4 1309.6 198.4 1310.4 198.1 1310.9 192.1 1311.4 167.9 1310.9 128.9 1310.4 123.1 1310.1 107.6 1309.6 102.6 1309.6 71.1 1310.1 65.6Z"/>
<path fill="#42ffbd" fill-rule="evenodd" d="M1073.4 198.4 1073.4 201.4 1072.9 201.6 1072.6 204.6 1072.6 221.4 1073.1 221.6 1073.1 225.1 1074.1 225.4 1074.1 228.9 1078.4 228.9 1078.4 225.4 1078.9 225.1 1078.9 221.6 1079.4 221.4 1078.9 204.6 1078.4 204.4 1078.4 201.6 1077.6 201.4 1077.6 198.4ZM1308.1 104.4 1307.4 112.6 1306.6 136.9 1306.6 186.4 1307.4 195.1 1307.9 195.4 1307.9 198.1 1309.6 198.1 1309.6 195.4 1310.4 195.1 1311.1 180.9 1311.1 145.1 1309.9 110.9 1309.4 104.4ZM1393.4 65.6 1387.1 65.6 1386.9 112.4 1388.1 140.6 1389.4 140.6 1389.6 136.9 1390.1 136.6 1391.4 126.9 1391.6 119.6 1392.4 114.1 1392.4 109.4 1393.1 100.9ZM1383.6 65.6 1377.4 65.6 1377.1 87.4 1375.6 125.1 1375.6 151.4 1374.4 151.6 1374.4 153.6 1373.6 153.9 1373.6 155.9 1373.1 156.1 1372.4 173.1 1372.4 180.9 1373.6 201.4 1374.1 201.6 1374.1 204.4 1374.6 204.6 1374.6 207.6 1375.6 207.9 1375.6 211.1 1378.6 211.1 1378.6 207.9 1379.1 207.6 1379.4 204.4 1379.4 195.4 1378.6 178.4 1377.6 170.4 1377.6 165.6 1376.9 158.4 1377.6 151.6 1378.1 151.4 1378.9 136.9 1379.9 130.6 1380.9 114.4 1381.4 112.4 1381.6 105.9 1383.1 90.1ZM1320.1 65.6 1320.6 68.4 1321.1 68.4 1321.6 65.6ZM1307.4 65.6 1307.9 70.9 1309.6 70.9 1309.9 65.6Z"/>
<path fill="#6bff94" fill-rule="evenodd" d="M1073.6 201.6 1073.6 204.4 1073.1 204.6 1072.9 221.4 1073.9 221.6 1073.9 225.1 1078.4 225.1 1078.4 221.6 1079.1 221.4 1079.1 218.1 1077.6 201.6ZM1373.6 160.9 1372.9 170.6 1372.9 183.6 1373.4 186.6 1373.4 192.1 1374.1 201.4 1374.6 201.6 1374.6 204.4 1375.9 204.6 1375.9 207.6 1377.9 207.6 1377.9 204.6 1378.6 204.4 1378.9 195.4 1378.4 181.1 1377.6 175.6 1377.6 170.6 1377.1 170.4 1376.6 163.1 1376.1 162.9 1376.1 160.9ZM1308.1 112.6 1307.6 116.1 1306.9 132.9 1306.6 178.1 1307.4 192.1 1308.1 192.4 1308.1 195.1 1309.4 195.1 1309.4 192.4 1310.1 192.1 1310.9 183.6 1310.9 138.9 1309.4 112.6ZM1393.4 65.6 1387.4 65.6 1387.1 68.6 1387.1 117.6 1387.6 123.4 1387.6 130.6 1388.4 138.6 1389.1 138.6 1389.1 136.9 1389.9 136.6 1391.4 124.9 1391.4 121.4 1391.9 119.4 1392.4 112.4 1392.4 107.6 1393.1 99.4ZM1383.4 65.6 1377.6 65.6 1377.4 67.4 1377.1 91.6 1375.9 116.1 1375.9 132.6 1376.4 146.9 1377.6 146.9 1380.1 126.9 1380.6 116.1 1381.1 114.1 1381.9 101.1 1382.9 91.6ZM1307.6 65.6 1307.9 69.6 1309.4 69.6 1309.9 65.6Z"/>
<path fill="#94ff6b" fill-rule="evenodd" d="M1074.6 204.6 1074.6 207.6 1074.1 207.9 1073.4 221.4 1074.9 221.6 1074.9 225.1 1077.4 225.1 1077.4 221.6 1078.4 221.4 1077.6 207.9 1076.9 207.6 1076.9 204.6ZM1374.6 168.1 1374.6 170.4 1373.9 170.6 1373.4 175.9 1373.4 183.6 1374.4 192.4 1374.4 198.1 1374.9 198.4 1374.9 201.4 1378.1 201.4 1377.9 181.1 1377.1 173.1 1376.6 172.9 1376.6 170.6 1375.6 170.4 1375.6 168.1ZM1308.1 119.6 1307.1 130.9 1306.9 138.9 1306.9 180.9 1307.6 189.4 1310.1 189.4 1310.9 172.9 1310.6 136.9 1309.6 121.4 1309.1 121.1 1309.1 119.6ZM1393.1 65.6 1387.4 65.6 1387.1 115.9 1388.1 134.6 1389.9 134.6 1391.6 121.1 1392.4 105.9 1392.9 102.6ZM1383.4 65.6 1377.6 65.6 1377.1 94.6 1376.1 112.6 1376.1 130.6 1376.6 134.6 1378.6 134.6 1378.6 132.9 1379.1 132.6 1380.1 124.9 1380.6 114.4 1381.1 112.4 1381.4 105.9 1382.9 90.1ZM1307.6 65.6 1308.1 68.4 1309.4 68.4 1309.6 65.6Z"/>
<path fill="#bdff42" fill-rule="evenodd" d="M1074.6 218.1 1074.6 221.4 1077.4 221.4 1077.4 218.1ZM1374.1 178.4 1374.9 186.4 1376.6 186.4 1376.9 178.4ZM1308.1 125.1 1307.4 130.9 1306.9 149.4 1307.1 180.9 1307.6 186.4 1309.9 186.4 1310.6 175.6 1310.6 142.9 1310.1 130.9 1309.4 125.1ZM1393.1 65.6 1387.4 65.6 1387.1 105.6 1387.4 119.4 1388.4 132.6 1389.9 132.6 1389.9 130.9 1390.4 130.6 1392.4 109.1 1392.4 104.4 1392.9 100.9ZM1383.1 65.6 1377.9 65.6 1377.6 66.1 1377.4 91.6 1376.1 116.1 1376.1 123.1 1376.9 132.6 1378.4 132.6 1378.4 130.9 1378.9 130.6 1378.9 128.9 1379.4 128.6 1380.1 123.1 1380.4 116.1 1380.9 114.1 1382.9 87.4ZM1307.9 65.6 1308.1 67.1 1309.1 67.1 1309.4 65.6Z"/>
<path fill="#e5ff1a" fill-rule="evenodd" d="M1307.9 130.9 1307.1 147.1 1307.4 180.9 1307.9 181.1 1307.9 183.6 1309.6 183.6 1309.6 181.1 1310.1 180.9 1310.6 162.9 1310.4 140.9 1309.6 130.9ZM1393.1 65.6 1387.6 65.6 1387.4 115.9 1388.4 130.6 1389.9 130.6 1389.9 128.9 1390.4 128.6 1391.4 121.1 1391.4 117.9 1391.9 115.9 1392.9 94.6ZM1383.1 65.6 1377.9 65.6 1377.4 94.6 1376.4 112.6 1376.4 124.9 1376.9 128.6 1378.9 128.6 1380.1 121.1 1380.4 114.4 1380.9 112.4 1381.1 105.9 1382.6 90.1ZM1308.4 65.6 1308.9 65.9Z"/>
<path fill="#fff000" fill-rule="evenodd" d="M1308.1 134.9 1307.6 138.9 1307.4 147.1 1307.4 167.9 1307.9 178.1 1308.4 178.4 1308.4 180.9 1309.1 180.9 1309.1 178.4 1309.6 178.1 1310.4 162.9 1310.1 142.9 1309.4 134.9ZM1392.9 65.6 1387.6 65.6 1387.4 109.1 1387.6 119.4 1388.4 128.6 1390.1 128.6 1390.1 127.1 1390.6 126.9 1391.4 116.1 1391.9 114.1 1391.9 109.4 1392.6 100.9ZM1382.9 65.6 1377.9 65.6 1377.6 90.1 1376.6 109.4 1376.6 123.1 1377.1 126.9 1378.6 126.9 1378.6 125.1 1379.1 124.9 1379.1 123.4 1379.6 123.1 1380.1 116.1 1380.6 114.1 1382.6 87.4Z"/>
<path fill="#ffc700" fill-rule="evenodd" d="M1308.4 140.9 1307.6 153.9 1307.6 162.9 1308.1 170.4 1309.4 170.4 1310.1 160.6 1309.9 149.4 1309.4 140.9ZM1392.9 65.6 1387.9 65.6 1387.6 115.9 1388.6 126.9 1390.1 126.9 1391.6 115.9 1391.6 110.9 1392.6 97.9ZM1382.9 65.6 1378.1 65.6 1377.6 94.6 1376.6 114.4 1376.6 119.4 1377.1 123.1 1379.1 123.1 1379.1 121.4 1379.6 121.1 1380.1 117.6 1380.1 114.4 1380.6 112.4 1380.9 105.9 1382.4 90.1Z"/>
<path fill="#ff9e00" fill-rule="evenodd" d="M1392.6 65.6 1387.9 65.6 1387.6 110.6 1388.6 124.9 1390.1 124.9 1390.1 123.4 1390.6 123.1 1391.1 116.1 1391.6 114.1 1391.6 109.4 1392.4 100.9ZM1382.6 65.6 1378.4 65.6 1378.1 66.1 1377.9 91.6 1376.9 112.6 1377.1 121.1 1379.1 121.1 1379.1 119.6 1379.6 119.4 1380.1 115.9 1380.4 109.4 1380.9 107.4 1382.4 87.4Z"/>
<path fill="#ff7500" fill-rule="evenodd" d="M1392.6 65.6 1388.1 65.6 1387.9 68.6 1387.9 115.9 1388.9 123.1 1390.1 123.1 1390.1 121.4 1390.6 121.1 1392.1 104.1ZM1382.6 65.6 1378.4 65.6 1378.1 88.9 1377.1 110.9 1377.4 119.4 1379.1 119.4 1379.1 117.9 1379.6 117.6 1380.9 101.1 1381.4 99.4 1382.1 90.1Z"/>
<path fill="#ff4c00" fill-rule="evenodd" d="M1392.4 65.6 1388.1 65.6 1387.9 107.4 1388.1 115.9 1388.6 119.4 1389.1 119.6 1389.1 121.1 1389.9 121.1 1389.9 119.6 1390.6 119.4 1391.9 105.6ZM1382.4 65.6 1378.6 65.6 1377.4 114.4 1377.9 117.6 1378.9 117.6 1378.9 116.1 1379.4 115.9 1379.9 109.4 1380.4 107.4 1380.4 104.4 1380.9 102.6 1381.9 90.1Z"/>
<path fill="#ff2400" fill-rule="evenodd" d="M1388.4 65.6 1388.1 110.6 1388.6 117.6 1390.6 117.6 1391.9 102.6 1392.4 65.6ZM1382.1 65.6 1378.9 65.6 1378.6 67.4 1378.6 83.1 1378.1 94.9 1378.4 110.6 1379.1 110.6 1379.1 109.4 1379.6 109.1 1380.4 104.1 1380.4 101.1 1380.9 99.4 1381.1 93.4 1381.6 91.6Z"/>
<path fill="#fa0000" fill-rule="evenodd" d="M1388.4 65.6 1388.4 110.6 1388.9 115.9 1390.4 115.9 1391.9 99.4 1392.1 65.6ZM1381.9 65.6 1379.1 65.6 1378.9 68.6 1378.6 97.9 1379.1 100.9 1379.4 99.6 1380.1 99.4 1381.4 90.1Z"/>
<path fill="#d10000" fill-rule="evenodd" d="M1391.9 65.6 1388.6 65.6 1388.4 102.6 1389.1 112.4 1390.1 112.4 1390.1 110.9 1390.6 110.6 1391.6 100.9ZM1381.6 65.6 1379.4 65.6 1379.4 84.4 1379.9 90.1 1380.4 88.9 1380.9 84.4Z"/>
<path fill="#a80000" fill-rule="evenodd" d="M1388.9 65.6 1388.9 104.1 1389.1 105.6 1390.4 105.6 1390.4 104.4 1390.9 104.1 1391.4 99.4 1391.6 65.6Z"/>
<path fill="#8a0000" fill-rule="evenodd" d="M1391.4 65.6 1389.4 65.6 1389.6 99.4 1390.4 99.4Z"/></g></g>
<rect x="895.5" y="65.5" width="525.5" height="188.0" fill="none" stroke="#262626" stroke-width="1.1"/>
<path d="M895.50 253.5V248.5M895.50 65.5V70.5M1026.88 253.5V248.5M1026.88 65.5V70.5M1158.25 253.5V248.5M1158.25 65.5V70.5M1289.62 253.5V248.5M1289.62 65.5V70.5M1421.00 253.5V248.5M1421.00 65.5V70.5M895.5 67.58H901.9M1421.0 67.58H1414.6M895.5 90.22H901.9M1421.0 90.22H1414.6M895.5 117.00H901.9M1421.0 117.00H1414.6M895.5 149.77H901.9M1421.0 149.77H1414.6M895.5 192.03H901.9M1421.0 192.03H1414.6M895.5 251.58H901.9M1421.0 251.58H1414.6" stroke="#262626" stroke-width="1.1" fill="none"/>
<text x="867.20" y="75.88" font-family="&quot;Liberation Sans&quot;, sans-serif" font-size="23.2" font-weight="normal" text-anchor="end" fill="#262626" textLength="14.2" lengthAdjust="spacingAndGlyphs"  stroke="#262626" stroke-width="0.25">7</text>
<text x="867.20" y="98.52" font-family="&quot;Liberation Sans&quot;, sans-serif" font-size="23.2" font-weight="normal" text-anchor="end" fill="#262626" textLength="14.2" lengthAdjust="spacingAndGlyphs"  stroke="#262626" stroke-width="0.25">6</text>
<text x="867.20" y="125.30" font-family="&quot;Liberation Sans&quot;, sans-serif" font-size="23.2" font-weight="normal" text-anchor="end" fill="#262626" textLength="14.2" lengthAdjust="spacingAndGlyphs"  stroke="#262626" stroke-width="0.25">5</text>
<text x="867.20" y="158.07" font-family="&quot;Liberation Sans&quot;, sans-serif" font-size="23.2" font-weight="normal" text-anchor="end" fill="#262626" textLength="14.2" lengthAdjust="spacingAndGlyphs"  stroke="#262626" stroke-width="0.25">4</text>
<text x="867.20" y="200.33" font-family="&quot;Liberation Sans&quot;, sans-serif" font-size="23.2" font-weight="normal" text-anchor="end" fill="#262626" textLength="14.2" lengthAdjust="spacingAndGlyphs"  stroke="#262626" stroke-width="0.25">3</text>
<text x="867.20" y="259.88" font-family="&quot;Liberation Sans&quot;, sans-serif" font-size="23.2" font-weight="normal" text-anchor="end" fill="#262626" textLength="14.2" lengthAdjust="spacingAndGlyphs"  stroke="#262626" stroke-width="0.25">2</text>
<text x="895.50" y="281.90" font-family="&quot;Liberation Sans&quot;, sans-serif" font-size="23.2" font-weight="normal" text-anchor="middle" fill="#262626" textLength="62" lengthAdjust="spacingAndGlyphs"  stroke="#262626" stroke-width="0.25">00:00</text>
<text x="1026.88" y="281.90" font-family="&quot;Liberation Sans&quot;, sans-serif" font-size="23.2" font-weight="normal" text-anchor="middle" fill="#262626" textLength="62" lengthAdjust="spacingAndGlyphs"  stroke="#262626" stroke-width="0.25">06:00</text>
<text x="1158.25" y="281.90" font-family="&quot;Liberation Sans&quot;, sans-serif" font-size="23.2" font-weight="normal" text-anchor="middle" fill="#262626" textLength="62" lengthAdjust="spacingAndGlyphs"  stroke="#262626" stroke-width="0.25">12:00</text>
<text x="1289.62" y="281.90" font-family="&quot;Liberation Sans&quot;, sans-serif" font-size="23.2" font-weight="normal" text-anchor="middle" fill="#262626" textLength="62" lengthAdjust="spacingAndGlyphs"  stroke="#262626" stroke-width="0.25">18:00</text>
<text x="1421.00" y="281.90" font-family="&quot;Liberation Sans&quot;, sans-serif" font-size="23.2" font-weight="normal" text-anchor="middle" fill="#262626" textLength="62" lengthAdjust="spacingAndGlyphs"  stroke="#262626" stroke-width="0.25">00:00</text>
<text transform="translate(843.0 161.3) rotate(-90)" font-family="&quot;Liberation Sans&quot;, sans-serif" font-size="23.2" font-weight="bold" text-anchor="middle" fill="#262626" stroke="#262626" stroke-width="0.4" textLength="134" lengthAdjust="spacingAndGlyphs">freq (mHz)</text>
<clipPath id="cr1"><rect x="895.5" y="327.5" width="525.5" height="189.0"/></clipPath>
<g clip-path="url(#cr1)"><rect x="895.5" y="327.5" width="525.5" height="189.0" fill="#00008f"/>
<g filter="url(#blr)"><path fill="#0000bf" fill-rule="evenodd" d="M1358.4 474.1 1357.6 474.1 1357.6 477.1 1356.9 477.4 1356.4 484.4 1356.6 495.4 1358.4 495.4 1358.6 488.1 1359.1 487.9ZM923.6 470.6 923.1 484.1 923.6 491.6 924.4 491.6 924.9 477.4 924.4 470.6ZM1395.1 467.4 1394.6 473.9 1394.1 474.1 1394.1 477.1 1393.6 477.4 1393.1 487.9 1393.4 491.6 1393.9 491.9 1393.9 495.4 1394.4 495.6 1394.4 499.4 1394.9 499.6 1394.9 503.4 1396.4 503.4 1396.4 499.6 1396.9 499.4 1396.9 495.6 1397.4 495.4 1397.4 491.9 1397.9 491.6 1398.4 484.4 1398.1 480.9 1397.6 480.6 1397.6 477.4 1397.1 477.1 1397.1 474.1 1396.6 473.9 1396.6 470.6 1396.1 470.4 1396.1 467.4ZM1369.6 455.1 1369.6 457.9 1369.1 458.1 1369.1 460.9 1368.6 461.1 1368.6 464.1 1368.1 464.4 1368.1 467.1 1367.6 467.4 1367.4 480.6 1367.9 480.9 1367.9 484.1 1368.4 484.4 1368.4 487.9 1369.1 488.1 1369.1 491.6 1370.9 491.6 1370.9 488.1 1371.6 487.9 1371.6 484.4 1372.4 484.1 1372.4 480.9 1372.9 480.6 1372.9 470.6 1372.6 467.4 1372.1 467.1 1372.1 464.4 1371.6 464.1 1371.6 461.1 1371.1 460.9 1371.1 458.1 1370.6 457.9 1370.6 455.1ZM1232.9 449.4 1232.6 457.9 1232.1 461.1 1232.1 467.1 1232.9 480.6 1233.6 480.6 1233.6 474.1 1234.4 464.4 1233.4 449.4ZM1109.1 446.6 1108.4 457.9 1108.9 461.1 1109.1 470.4 1109.9 470.4 1110.6 455.1 1109.9 446.6ZM1098.1 441.1 1098.1 446.4 1097.4 452.1 1097.1 460.9 1098.4 480.6 1098.9 480.6 1100.1 458.1 1099.6 454.9 1099.1 441.1ZM951.6 441.1 951.4 449.1 950.9 452.1 950.9 457.9 951.4 461.1 951.6 470.4 952.4 470.4 953.1 452.1 952.6 449.1 952.4 441.1ZM1048.4 433.1 1047.6 452.1 1047.6 464.1 1048.6 487.9 1049.4 487.9 1050.4 458.1 1049.9 446.6 1049.4 443.4 1049.4 438.4 1048.9 433.1ZM1244.1 430.6 1243.1 446.4 1243.6 449.4 1244.1 460.9 1244.6 460.9 1245.6 443.6 1244.9 435.4 1244.9 430.6ZM1092.1 430.6 1090.9 430.6 1090.1 438.1 1089.6 438.4 1089.1 446.4 1088.6 446.6 1088.4 451.9 1087.9 452.1 1087.4 460.9 1086.9 461.1 1085.9 477.1 1085.4 477.4 1084.9 484.4 1085.1 499.4 1085.6 499.6 1085.6 503.4 1086.4 503.6 1086.4 507.6 1087.1 507.9 1087.1 511.9 1088.1 512.1 1088.1 516.4 1091.9 516.4 1091.9 512.1 1093.1 511.9 1093.1 507.9 1094.4 507.6 1094.4 503.6 1095.4 503.4 1095.4 499.6 1095.9 499.4 1095.9 495.6 1096.4 495.4 1096.9 487.9 1095.4 461.1 1094.6 452.1 1094.1 451.9 1092.9 435.6 1092.4 435.4ZM1060.4 428.1 1059.9 438.1 1059.1 443.6 1058.9 460.9 1060.4 484.1 1061.1 484.1 1061.9 473.9 1061.9 467.4 1062.4 464.1 1062.6 452.1 1061.9 443.4 1061.9 438.4 1061.4 435.4 1061.1 428.1ZM1031.6 420.9 1030.6 430.6 1030.1 443.4 1029.4 449.4 1029.4 470.4 1029.6 473.9 1030.1 474.1 1030.6 484.1 1031.4 484.4 1031.4 487.9 1032.9 487.9 1032.9 484.4 1033.4 484.1 1033.4 480.9 1033.9 480.6 1034.1 474.1 1034.6 473.9 1034.6 446.6 1032.6 420.9ZM1317.1 409.6 1316.4 425.6 1316.4 435.4 1317.1 449.1 1317.9 449.1 1318.6 435.4 1318.6 425.6 1317.9 409.6ZM1067.6 389.4 1065.1 407.4 1064.9 435.4 1065.4 446.4 1066.1 454.9 1066.6 455.1 1066.6 457.9 1067.1 458.1 1067.6 467.1 1068.1 467.4 1069.1 484.1 1069.6 484.4 1069.9 491.6 1070.9 491.9 1070.9 495.4 1071.9 495.6 1071.9 499.4 1072.9 499.6 1072.9 503.4 1073.9 503.6 1073.9 507.6 1075.1 507.9 1075.1 511.9 1077.1 511.9 1077.1 507.9 1077.6 507.6 1077.6 503.6 1078.1 503.4 1078.4 495.6 1078.9 495.4 1079.1 491.6 1077.9 467.4 1075.1 438.1 1075.1 433.1 1073.9 423.1 1073.1 409.6 1072.6 409.4 1072.4 405.4 1071.9 405.1 1071.9 403.4 1071.4 403.1 1071.1 399.1 1070.6 398.9 1070.4 395.1 1069.9 394.9 1069.9 393.1 1069.4 392.9 1069.4 391.4 1068.9 391.1 1068.9 389.4ZM1087.1 385.6 1086.4 385.6 1085.6 396.9 1085.1 399.1 1085.9 413.9 1086.9 413.9 1086.9 409.6 1087.9 400.9ZM1409.4 369.9 1408.6 369.9 1408.6 374.6 1408.1 378.4 1406.9 423.4 1407.1 440.9 1407.6 443.6 1408.1 454.9 1408.9 454.9 1409.6 443.6 1410.4 438.1 1410.4 433.1 1410.9 430.4 1410.6 397.1ZM1234.6 364.9 1233.9 381.6 1234.6 394.9 1235.4 394.9 1236.1 378.4 1235.4 369.6 1235.4 364.9ZM1241.4 330.6 1241.6 367.9 1241.9 371.4 1243.4 371.4 1243.9 355.4 1243.9 330.6ZM1041.1 330.6 1040.4 371.4 1041.4 398.9 1042.1 398.9 1042.9 376.4 1042.9 360.1 1042.4 330.6ZM1396.4 327.6 1375.9 327.6 1375.6 345.1 1374.9 349.6 1373.4 368.1 1372.9 423.1 1374.4 446.4 1375.1 446.6 1375.1 449.1 1375.6 449.4 1375.6 451.9 1376.1 452.1 1376.4 455.1 1375.6 464.4 1376.4 491.6 1376.9 491.9 1377.1 499.4 1377.9 499.6 1377.9 503.4 1379.1 503.6 1379.1 507.6 1383.9 507.6 1383.9 503.6 1385.1 503.4 1385.1 499.6 1385.9 499.4 1386.1 491.9 1386.6 491.6 1386.9 487.9 1386.1 464.4 1385.4 464.1 1385.4 461.1 1384.6 460.9 1384.6 458.1 1383.9 457.9 1383.9 455.1 1383.1 454.9 1383.1 452.1 1382.4 451.9 1382.4 449.4 1381.6 449.1 1381.6 446.6 1380.9 446.4 1379.9 425.6 1379.4 423.1 1379.4 414.1 1380.9 403.1 1381.6 387.4 1384.4 351.1 1384.9 351.1 1385.1 353.9 1385.6 354.1 1385.9 355.6 1386.1 379.9 1386.9 393.1 1387.1 467.1 1388.1 467.4 1388.1 470.4 1389.9 470.4 1389.9 467.4 1390.9 467.1 1390.9 411.9 1391.6 380.1 1392.1 374.9 1392.6 374.9 1393.1 383.6 1393.6 383.9 1393.6 385.4 1394.4 385.4 1394.4 383.9 1394.9 383.6 1394.9 380.1 1395.4 378.1 1396.1 363.1ZM1028.1 327.6 1028.1 359.9 1029.6 389.1 1030.4 389.1 1031.4 364.6 1031.1 327.6ZM964.1 327.6 964.4 349.4 964.9 352.4 966.4 352.4 967.1 343.9 967.1 327.6ZM954.1 327.6 954.6 369.6 954.9 371.4 956.1 371.4 956.6 363.1 956.9 327.6Z"/>
<path fill="#0000e0" fill-rule="evenodd" d="M1394.6 474.1 1394.6 477.1 1394.1 477.4 1393.6 484.4 1393.9 491.6 1394.4 491.9 1394.4 495.4 1395.1 495.6 1395.1 499.4 1396.4 499.4 1396.4 495.6 1396.9 495.4 1396.9 491.9 1397.4 491.6 1397.9 484.4 1397.6 480.9 1397.1 480.6 1397.1 477.4 1396.6 477.1 1396.6 474.1ZM1369.6 458.1 1369.1 464.1 1368.6 464.4 1368.6 467.1 1368.1 467.4 1367.9 480.6 1368.4 480.9 1368.4 484.1 1368.9 484.4 1368.9 487.9 1371.1 487.9 1371.1 484.4 1371.9 484.1 1371.9 480.9 1372.4 480.6 1372.4 470.6 1372.1 467.4 1371.6 467.1 1371.6 464.4 1371.1 464.1 1371.1 461.1 1370.4 460.9 1370.4 458.1ZM1098.1 452.1 1097.6 460.9 1098.1 467.1 1099.1 467.1 1099.6 458.1 1099.1 452.1ZM1048.6 452.1 1048.1 460.9 1048.6 467.1 1049.4 467.1 1049.9 458.1 1049.6 455.1 1049.1 454.9 1049.1 452.1ZM1244.1 441.1 1243.9 446.4 1244.1 449.1 1244.6 449.1 1245.1 443.6 1244.6 443.4 1244.6 441.1ZM1060.4 435.6 1059.4 446.6 1059.1 457.9 1060.4 477.1 1060.9 477.1 1060.9 474.1 1061.4 473.9 1061.9 467.1 1062.4 452.1 1061.9 449.1 1061.9 443.6 1061.1 435.6ZM1092.1 433.1 1090.9 433.1 1090.9 435.4 1090.4 435.6 1090.1 440.9 1089.6 441.1 1089.1 449.1 1088.6 449.4 1088.1 457.9 1087.6 458.1 1086.4 477.1 1085.9 477.4 1085.4 484.4 1085.6 499.4 1086.1 499.6 1086.1 503.4 1086.9 503.6 1086.9 507.6 1087.6 507.9 1087.6 511.9 1088.6 512.1 1088.6 516.4 1091.4 516.4 1091.4 512.1 1092.6 511.9 1092.6 507.9 1093.9 507.6 1093.9 503.6 1094.9 503.4 1094.9 499.6 1095.4 499.4 1095.6 491.9 1096.1 491.6 1096.4 487.9 1095.4 467.4 1092.9 438.4 1092.4 438.1ZM1317.1 423.4 1316.6 428.1 1317.1 438.1 1317.9 438.1 1318.4 428.1 1317.9 423.4ZM1031.6 423.4 1030.4 438.4 1030.4 443.4 1029.9 446.6 1029.9 473.9 1030.4 474.1 1031.1 484.1 1033.1 484.1 1033.1 480.9 1033.6 480.6 1034.4 470.4 1034.4 446.6 1033.6 440.9 1033.6 435.6 1033.1 432.9 1032.9 425.6 1032.4 425.4 1032.4 423.4ZM1086.9 391.4 1086.4 391.4 1085.6 397.1 1086.1 409.4 1086.6 409.4 1087.4 403.1 1087.4 395.1ZM1067.9 391.4 1067.9 392.9 1067.1 393.1 1066.4 399.1 1066.4 403.1 1065.4 409.6 1065.1 432.9 1065.6 443.4 1066.1 446.6 1066.1 451.9 1066.6 452.1 1067.4 460.9 1067.9 461.1 1068.6 473.9 1069.1 474.1 1069.9 487.9 1070.4 488.1 1070.4 491.6 1071.1 491.9 1071.1 495.4 1072.1 495.6 1072.1 499.4 1073.1 499.6 1073.1 503.4 1074.1 503.6 1074.1 507.6 1077.4 507.6 1077.6 499.6 1078.1 499.4 1078.6 488.1 1078.4 480.9 1077.4 470.4 1076.9 458.1 1076.4 457.9 1075.1 443.4 1075.1 438.4 1073.9 427.9 1073.9 423.4 1072.9 416.1 1072.4 407.4 1071.9 407.1 1071.9 405.4 1071.4 405.1 1071.1 401.1 1070.6 400.9 1070.4 397.1 1069.9 396.9 1069.4 393.1 1068.9 392.9 1068.9 391.4ZM1409.1 378.4 1408.4 381.9 1408.4 387.1 1407.9 391.4 1407.1 432.9 1408.1 449.1 1409.1 449.1 1410.4 432.9 1410.4 399.1 1409.6 381.9ZM1241.6 330.6 1241.9 353.9 1242.4 358.4 1242.9 358.4 1243.6 345.1 1243.6 330.6ZM1041.4 330.6 1040.9 372.9 1041.4 381.6 1041.9 381.6 1042.6 368.1 1042.1 330.6ZM1396.1 327.6 1376.1 327.6 1375.9 346.6 1375.4 348.4 1373.6 369.9 1373.4 425.4 1374.6 446.4 1375.4 446.6 1375.4 449.1 1375.9 449.4 1375.9 451.9 1376.4 452.1 1376.4 454.9 1376.9 455.1 1376.1 464.4 1376.9 491.6 1377.4 491.9 1377.6 499.4 1378.4 499.6 1378.4 503.4 1379.9 503.6 1379.9 507.6 1383.1 507.6 1383.1 503.6 1384.6 503.4 1384.6 499.6 1385.4 499.4 1385.6 491.9 1386.1 491.6 1386.4 487.9 1385.6 464.4 1384.9 464.1 1384.9 461.1 1384.1 460.9 1384.1 458.1 1383.4 457.9 1383.4 455.1 1382.6 454.9 1382.6 452.1 1381.9 451.9 1381.4 446.6 1380.6 446.4 1379.1 423.1 1379.1 414.1 1380.9 400.9 1381.4 387.4 1384.1 353.9 1384.1 349.6 1384.4 348.4 1384.9 348.4 1385.4 353.9 1386.1 354.1 1386.4 381.6 1386.9 385.6 1387.4 418.6 1387.4 467.1 1388.6 467.4 1388.6 470.4 1389.4 470.4 1389.4 467.4 1390.6 467.1 1390.6 418.6 1391.1 385.6 1392.1 373.1 1392.6 373.1 1393.1 381.6 1393.6 381.9 1393.6 383.6 1394.4 383.6 1394.4 381.9 1394.9 381.6 1395.9 367.9ZM1028.4 327.6 1028.6 366.4 1029.6 381.6 1030.1 381.6 1030.9 372.9 1031.1 363.1 1030.9 327.6ZM964.4 327.6 964.6 346.6 964.9 348.1 966.4 348.1 966.9 341.1 966.9 327.6ZM954.4 327.6 954.9 355.4 955.1 356.9 955.9 356.9 956.4 349.4 956.6 327.6Z"/>
<path fill="#0000ff" fill-rule="evenodd" d="M1394.9 477.4 1394.9 480.6 1394.1 480.9 1394.1 487.9 1394.6 488.1 1394.6 491.6 1396.9 491.6 1396.9 488.1 1397.4 487.9 1397.1 480.9 1396.6 480.6 1396.6 477.4ZM1369.1 464.4 1369.1 467.1 1368.4 467.4 1368.4 480.6 1368.9 480.9 1368.9 484.1 1371.4 484.1 1371.4 480.9 1371.9 480.6 1371.6 467.4 1371.1 467.1 1371.1 464.4ZM1060.4 443.6 1060.4 446.4 1059.9 446.6 1059.4 452.1 1059.4 457.9 1060.1 467.1 1061.1 467.1 1061.1 464.4 1061.6 464.1 1061.9 460.9 1061.9 452.1 1061.1 443.6ZM1092.4 438.4 1090.4 438.4 1090.1 443.4 1089.6 443.6 1089.1 451.9 1088.6 452.1 1088.1 460.9 1087.6 461.1 1085.9 484.4 1085.9 495.4 1086.4 503.4 1087.1 503.6 1087.1 507.6 1088.1 507.9 1088.1 511.9 1092.4 511.9 1092.4 507.9 1093.4 507.6 1093.4 503.6 1094.6 503.4 1094.6 499.6 1095.1 499.4 1095.9 487.9 1095.9 480.9 1094.9 470.4 1094.9 464.4 1093.4 446.6 1092.9 446.4ZM1031.6 428.1 1030.1 446.6 1030.1 473.9 1030.6 474.1 1030.9 480.6 1033.1 480.6 1033.1 477.4 1033.6 477.1 1034.1 470.4 1034.1 446.6 1033.4 440.9 1033.4 435.6 1032.6 428.1ZM1086.9 397.1 1086.4 397.1 1086.4 398.9 1085.9 399.1 1086.4 403.1 1086.6 401.1 1087.1 400.9ZM1067.4 395.1 1065.6 409.6 1065.4 432.9 1065.9 443.4 1066.4 446.6 1066.4 451.9 1066.9 452.1 1067.6 460.9 1068.1 461.1 1068.9 473.9 1069.4 474.1 1069.9 484.1 1070.4 484.4 1070.6 491.6 1071.6 491.9 1071.6 495.4 1072.6 495.6 1072.6 499.4 1073.6 499.6 1073.6 503.4 1074.6 503.6 1074.6 507.6 1076.9 507.6 1076.9 503.6 1077.4 503.4 1077.6 495.6 1078.1 495.4 1078.4 488.1 1077.9 484.1 1077.9 477.4 1076.9 467.1 1076.6 458.1 1076.1 457.9 1075.9 452.1 1074.6 440.9 1074.6 435.6 1073.4 425.4 1073.4 420.9 1072.6 416.1 1072.4 409.6 1071.9 409.4 1071.6 405.4 1071.1 405.1 1070.9 401.1 1070.4 400.9 1069.6 395.1ZM1409.1 387.4 1408.9 389.1 1408.4 389.4 1407.4 423.4 1407.4 432.9 1408.1 443.4 1409.1 443.4 1410.1 432.9 1410.1 399.1 1409.6 389.4 1409.1 389.1ZM1241.9 330.6 1241.9 339.6 1242.4 343.9 1242.9 343.9 1243.4 330.6ZM1396.1 327.6 1376.4 327.6 1375.9 350.9 1375.4 351.1 1373.9 369.9 1373.4 423.1 1373.9 425.6 1374.9 446.4 1375.6 446.6 1375.6 449.1 1376.1 449.4 1376.1 451.9 1376.6 452.1 1376.6 454.9 1377.1 455.1 1376.6 461.1 1376.6 477.1 1377.1 491.6 1377.6 491.9 1377.6 495.4 1378.1 495.6 1378.1 499.4 1378.9 499.6 1378.9 503.4 1380.9 503.6 1380.9 507.6 1382.1 507.6 1382.1 503.6 1384.1 503.4 1384.1 499.6 1384.9 499.4 1384.9 495.6 1385.4 495.4 1385.4 491.9 1385.9 491.6 1385.9 477.4 1385.4 464.4 1384.6 464.1 1384.6 461.1 1383.9 460.9 1383.9 458.1 1383.1 457.9 1383.1 455.1 1382.4 454.9 1382.4 452.1 1381.6 451.9 1381.6 449.4 1380.9 449.1 1380.9 446.6 1380.1 446.4 1379.9 435.6 1379.4 432.9 1378.9 423.1 1378.9 416.4 1379.9 409.4 1379.9 405.4 1380.9 398.9 1380.9 393.1 1382.4 374.6 1382.4 369.9 1384.1 350.9 1384.1 345.4 1384.6 345.4 1384.6 348.1 1385.4 352.4 1386.4 352.6 1386.4 378.1 1387.1 391.4 1387.6 467.1 1390.4 467.1 1390.6 409.6 1391.1 383.9 1392.1 371.6 1392.6 371.6 1392.9 376.4 1393.6 381.6 1394.4 381.6 1395.1 376.4 1395.1 373.1 1395.6 371.4ZM1028.4 327.6 1028.9 366.4 1029.4 372.9 1030.4 372.9 1030.9 363.1 1030.9 327.6ZM964.4 327.6 964.9 343.9 965.4 344.1 965.4 345.1 965.9 345.1 965.9 344.1 966.4 343.9 966.9 327.6ZM954.6 327.6 955.1 342.4 955.9 342.4 956.4 327.6Z"/>
<path fill="#001fff" fill-rule="evenodd" d="M1394.9 484.4 1394.9 487.9 1396.6 487.9 1396.6 484.4ZM1369.4 467.4 1369.4 470.4 1368.9 470.6 1368.9 480.6 1371.1 480.6 1370.9 467.4ZM1060.1 452.1 1060.1 457.9 1061.4 457.9 1061.4 452.1ZM1092.1 441.1 1090.6 441.1 1090.6 443.4 1090.1 443.6 1090.1 446.4 1089.6 446.6 1089.4 451.9 1088.9 452.1 1087.9 467.1 1087.4 467.4 1086.1 484.4 1086.6 503.4 1087.6 503.6 1087.6 507.6 1088.4 507.9 1088.4 511.9 1091.9 511.9 1091.9 507.9 1093.1 507.6 1093.1 503.6 1094.1 503.4 1094.1 499.6 1094.9 499.4 1095.6 487.9 1095.6 480.9 1094.4 467.1 1094.4 461.1 1093.6 452.1 1093.1 451.9 1092.6 443.6 1092.1 443.4ZM1031.6 433.1 1031.6 435.4 1031.1 435.6 1030.9 443.4 1030.1 449.4 1030.1 470.4 1030.4 473.9 1030.9 474.1 1030.9 477.1 1031.4 477.4 1031.4 480.6 1032.9 480.6 1032.9 477.4 1033.4 477.1 1033.4 474.1 1033.9 473.9 1033.9 446.6 1032.6 433.1ZM1409.4 397.1 1408.6 397.1 1408.1 405.4 1407.6 425.6 1408.1 438.1 1409.1 438.1 1409.1 435.6 1409.6 435.4 1409.9 432.9 1409.9 409.6ZM1067.4 397.1 1065.9 409.6 1065.6 432.9 1066.1 443.4 1066.6 446.6 1066.6 451.9 1067.1 452.1 1067.4 457.9 1067.9 458.1 1067.9 460.9 1068.4 461.1 1069.1 473.9 1069.6 474.1 1070.1 484.1 1070.6 484.4 1070.9 491.6 1071.9 491.9 1071.9 495.4 1072.9 495.6 1072.9 499.4 1073.9 499.6 1073.9 503.4 1076.9 503.4 1076.9 499.6 1077.4 499.4 1077.4 495.6 1077.9 495.4 1078.1 491.6 1077.6 477.4 1076.9 470.4 1076.4 458.1 1075.9 457.9 1074.6 443.4 1074.6 438.4 1073.1 425.4 1073.1 420.9 1072.4 416.1 1072.1 409.6 1071.6 409.4 1071.4 405.4 1070.9 405.1 1070.6 401.1 1070.1 400.9 1070.1 399.1 1069.6 398.9 1069.6 397.1ZM1395.9 327.6 1376.6 327.6 1376.1 341.4 1376.1 355.4 1375.6 355.6 1374.9 360.1 1374.1 369.9 1373.6 423.1 1374.4 430.6 1375.1 446.4 1375.6 446.6 1376.1 451.9 1376.9 452.1 1376.9 454.9 1377.4 455.1 1376.9 464.4 1377.1 487.9 1377.4 491.6 1377.9 491.9 1377.9 495.4 1378.4 495.6 1378.4 499.4 1379.4 499.6 1379.4 503.4 1383.6 503.4 1383.6 499.6 1384.6 499.4 1384.6 495.6 1385.1 495.4 1385.1 491.9 1385.6 491.6 1385.6 477.4 1385.1 464.4 1384.4 464.1 1384.4 461.1 1383.6 460.9 1383.6 458.1 1382.9 457.9 1382.9 455.1 1382.1 454.9 1382.1 452.1 1381.4 451.9 1381.4 449.4 1380.6 449.1 1380.6 446.6 1379.9 446.4 1379.4 430.6 1378.6 423.1 1378.6 416.4 1380.6 400.9 1380.9 391.4 1382.6 369.6 1382.6 364.9 1383.9 352.4 1384.1 337.1 1384.6 337.1 1384.9 348.1 1385.4 350.9 1386.6 351.1 1386.4 367.9 1387.4 403.4 1387.6 464.1 1387.9 467.1 1390.1 467.1 1390.9 387.4 1391.4 376.6 1391.9 374.6 1392.1 369.9 1392.6 369.9 1392.6 372.9 1393.6 379.9 1394.4 379.9 1395.4 372.9ZM1028.6 327.6 1029.1 363.1 1029.4 364.6 1030.4 364.6 1030.6 327.6ZM964.6 327.6 964.9 339.6 965.1 341.1 966.1 341.1 966.6 327.6Z"/>
<path fill="#003dff" fill-rule="evenodd" d="M1092.4 446.6 1090.1 446.6 1090.1 449.1 1089.6 449.4 1089.4 454.9 1088.9 455.1 1087.9 470.4 1087.4 470.6 1086.4 484.4 1086.6 499.4 1087.1 499.6 1087.1 503.4 1087.9 503.6 1087.9 507.6 1089.4 507.9 1089.4 511.9 1091.1 511.9 1091.1 507.9 1092.9 507.6 1092.9 503.6 1093.9 503.4 1093.9 499.6 1094.4 499.4 1094.4 495.6 1094.9 495.4 1095.4 487.9 1095.1 477.4 1094.1 467.1 1093.9 458.1 1093.4 457.9 1092.9 449.4 1092.4 449.1ZM1031.4 438.4 1030.4 449.4 1030.4 470.4 1030.6 473.9 1031.1 474.1 1031.1 477.1 1032.9 477.1 1032.9 474.1 1033.6 473.9 1033.9 470.4 1033.6 446.6 1033.1 441.1 1032.6 440.9 1032.6 438.4ZM1408.4 420.9 1408.1 430.4 1408.6 430.6 1408.9 432.9 1408.9 430.6 1409.4 430.4 1409.4 423.4 1409.1 420.9ZM1067.6 399.1 1066.1 409.6 1065.9 432.9 1066.6 443.6 1066.9 451.9 1067.4 452.1 1067.6 457.9 1068.1 458.1 1068.1 460.9 1068.6 461.1 1069.4 473.9 1069.9 474.1 1070.4 484.1 1070.9 484.4 1071.1 491.6 1072.1 491.9 1072.1 495.4 1073.1 495.6 1073.1 499.4 1074.6 499.6 1074.6 503.4 1076.4 503.4 1076.4 499.6 1077.1 499.4 1077.9 488.1 1075.6 452.1 1075.1 451.9 1074.6 446.4 1074.6 441.1 1073.1 427.9 1073.1 423.4 1072.1 416.1 1071.9 409.6 1071.4 409.4 1071.1 405.4 1070.6 405.1 1070.6 403.4 1070.1 403.1 1069.6 399.1ZM1395.9 327.6 1376.6 327.6 1376.1 361.6 1375.4 361.9 1374.4 369.9 1373.9 423.1 1374.6 430.6 1375.4 446.4 1375.9 446.6 1375.9 449.1 1376.4 449.4 1376.4 451.9 1376.9 452.1 1376.9 454.9 1377.4 455.1 1377.1 473.9 1377.6 491.6 1378.1 491.9 1378.1 495.4 1378.9 495.6 1378.9 499.4 1380.4 499.6 1380.4 503.4 1382.6 503.4 1382.6 499.6 1384.1 499.4 1384.1 495.6 1384.9 495.4 1384.9 491.9 1385.4 491.6 1385.4 477.4 1384.9 464.4 1384.1 464.1 1384.1 461.1 1383.4 460.9 1383.4 458.1 1382.6 457.9 1382.6 455.1 1381.9 454.9 1381.9 452.1 1380.9 451.9 1380.9 449.4 1379.9 449.1 1378.9 425.6 1378.4 423.1 1378.4 418.6 1380.6 398.9 1380.9 389.4 1382.6 367.9 1382.6 363.4 1383.9 350.9 1384.1 331.9 1384.6 331.9 1384.6 345.1 1385.4 349.4 1385.9 349.6 1385.9 350.9 1386.1 349.6 1386.6 349.6 1386.6 379.9 1387.4 397.1 1387.9 464.1 1388.4 464.4 1388.4 467.1 1389.6 467.1 1389.6 464.4 1390.1 464.1 1390.4 414.1 1390.9 385.6 1392.1 368.1 1392.6 368.1 1392.6 371.4 1393.6 378.1 1394.4 378.1 1394.4 376.6 1394.9 376.4 1394.9 373.1 1395.4 371.4ZM1028.9 327.6 1029.4 350.9 1029.9 352.4 1030.4 343.9 1030.4 327.6ZM964.6 327.6 964.9 335.6 965.1 336.9 966.1 336.9 966.6 327.6Z"/>
<path fill="#005cff" fill-rule="evenodd" d="M1092.1 449.4 1090.6 449.4 1090.6 451.9 1089.9 452.1 1089.9 454.9 1089.4 455.1 1089.4 457.9 1088.9 458.1 1087.9 473.9 1087.4 474.1 1086.6 484.4 1086.9 499.4 1087.4 499.6 1087.4 503.4 1088.4 503.6 1088.4 507.6 1092.4 507.6 1092.4 503.6 1093.6 503.4 1094.6 488.1 1095.1 487.9 1094.1 467.4 1092.9 452.1 1092.1 451.9ZM1031.4 443.6 1031.4 446.4 1030.9 446.6 1030.6 470.4 1031.1 470.6 1031.1 473.9 1033.1 473.9 1033.1 470.6 1033.6 470.4 1033.4 449.4 1032.9 443.6ZM1067.9 401.1 1067.9 403.1 1067.4 403.4 1067.4 405.1 1066.9 405.4 1066.4 409.6 1066.1 432.9 1066.9 443.6 1067.1 451.9 1067.6 452.1 1067.9 457.9 1068.4 458.1 1068.4 460.9 1068.9 461.1 1069.6 473.9 1070.1 474.1 1070.6 484.1 1071.1 484.4 1071.4 491.6 1072.4 491.9 1072.4 495.4 1073.6 495.6 1073.6 499.4 1076.6 499.4 1076.6 495.6 1077.1 495.4 1077.1 491.9 1077.6 491.6 1077.1 477.4 1076.4 470.4 1076.4 464.4 1072.9 427.9 1072.9 423.4 1071.9 416.1 1071.6 409.6 1071.1 409.4 1070.9 405.4 1070.1 405.1 1070.1 403.4 1069.4 403.1 1069.4 401.1ZM1395.9 327.6 1384.6 327.6 1384.9 346.6 1385.1 348.1 1385.6 348.4 1385.6 349.4 1386.4 349.4 1386.4 348.4 1386.9 348.4 1386.6 378.1 1387.4 391.4 1387.9 451.9 1388.4 464.1 1389.6 464.1 1389.9 460.9 1390.6 391.4 1391.1 378.4 1391.9 372.9 1391.9 369.9 1392.4 367.9 1392.4 364.9 1392.9 364.9 1393.1 374.6 1393.6 374.9 1393.6 376.4 1394.4 376.4 1394.4 374.9 1394.9 374.6 1395.4 366.4ZM1376.9 327.6 1376.4 341.4 1376.4 366.4 1375.4 366.6 1374.4 380.1 1374.1 423.1 1374.9 430.6 1375.6 446.4 1376.1 446.6 1376.1 449.1 1376.6 449.4 1376.6 451.9 1377.1 452.1 1377.1 454.9 1377.6 455.1 1377.9 458.1 1377.4 464.4 1377.6 487.9 1378.1 488.1 1378.6 495.4 1379.4 495.6 1379.4 499.4 1383.6 499.4 1383.6 495.6 1384.4 495.4 1384.4 491.9 1384.9 491.6 1385.1 487.9 1384.6 464.4 1383.9 464.1 1383.9 461.1 1383.1 460.9 1383.1 458.1 1382.1 457.9 1382.1 455.1 1381.4 454.9 1381.4 452.1 1379.9 451.9 1378.4 425.4 1378.4 418.6 1378.9 416.1 1379.4 407.4 1380.4 400.9 1380.9 387.4 1382.9 363.1 1382.9 358.6 1383.6 352.4 1384.1 327.6ZM964.9 327.6 964.9 331.6 965.4 334.4 965.9 334.4 966.4 327.6Z"/>
<path fill="#007aff" fill-rule="evenodd" d="M1089.9 455.1 1089.9 457.9 1089.4 458.1 1089.4 460.9 1088.9 461.1 1087.9 477.1 1087.4 477.4 1087.1 480.9 1087.1 495.4 1087.6 503.4 1089.1 503.6 1089.1 507.6 1091.6 507.6 1091.6 503.6 1093.1 503.4 1093.1 499.6 1093.9 499.4 1094.6 487.9 1094.6 480.9 1093.9 473.9 1093.9 467.4 1093.1 458.1 1092.6 457.9 1092.6 455.1ZM1031.4 449.4 1031.1 470.4 1033.1 470.4 1032.9 449.4ZM1067.4 405.4 1066.6 411.9 1066.4 435.4 1067.6 454.9 1068.1 455.1 1068.9 464.1 1069.4 464.4 1070.1 477.1 1070.6 477.4 1070.9 484.1 1071.4 484.4 1071.6 491.6 1072.9 491.9 1072.9 495.4 1076.9 495.4 1077.1 484.4 1076.4 473.9 1076.4 467.4 1073.6 435.6 1072.9 430.4 1072.9 425.6 1071.4 413.9 1071.4 409.6 1070.9 409.4 1070.4 405.4ZM1395.6 327.6 1384.9 327.6 1384.9 345.1 1385.4 348.1 1386.9 348.4 1386.9 381.6 1387.4 387.4 1387.9 443.4 1388.6 457.9 1389.4 457.9 1389.9 451.9 1390.6 387.4 1391.1 376.6 1391.6 374.6 1392.6 361.9 1393.1 361.9 1393.1 372.9 1393.6 373.1 1393.6 374.6 1394.4 374.6 1394.4 373.1 1394.9 372.9ZM1376.9 327.6 1376.4 345.4 1376.6 372.9 1375.4 373.1 1374.6 383.9 1374.4 423.1 1375.1 430.6 1375.9 446.4 1376.4 446.6 1376.4 449.1 1376.9 449.4 1376.9 451.9 1377.4 452.1 1377.6 457.9 1378.1 458.1 1377.6 464.4 1377.6 473.9 1378.4 491.6 1378.9 491.9 1378.9 495.4 1380.4 495.6 1380.4 499.4 1382.6 499.4 1382.6 495.6 1384.1 495.4 1384.1 491.9 1384.6 491.6 1384.9 487.9 1384.4 464.4 1383.6 464.1 1383.6 461.1 1382.6 460.9 1382.6 458.1 1381.6 457.9 1381.6 455.1 1379.9 454.9 1379.1 446.4 1378.1 418.6 1380.1 403.1 1381.1 381.9 1383.6 350.9 1384.1 327.6ZM965.1 327.6 965.4 330.4 965.9 330.4 966.1 327.6Z"/>
<path fill="#0099ff" fill-rule="evenodd" d="M1090.1 458.1 1089.6 464.1 1089.1 464.4 1088.9 470.4 1088.4 470.6 1087.4 484.4 1087.6 499.4 1088.1 499.6 1088.1 503.4 1092.6 503.4 1092.6 499.6 1093.4 499.4 1093.4 495.6 1093.9 495.4 1094.4 480.9 1092.4 458.1ZM1067.6 407.4 1067.6 409.4 1067.1 409.6 1066.6 423.4 1066.6 435.4 1067.4 451.9 1067.9 452.1 1067.9 454.9 1068.4 455.1 1069.4 467.1 1069.9 467.4 1070.4 477.1 1070.9 477.4 1071.1 484.1 1071.6 484.4 1072.1 491.6 1073.4 491.9 1073.4 495.4 1076.1 495.4 1076.1 491.9 1076.9 491.6 1076.6 477.4 1076.1 473.9 1076.1 467.4 1074.9 452.1 1072.9 432.9 1072.9 428.1 1070.4 407.4ZM1393.1 343.9 1393.1 351.1ZM1395.6 327.6 1384.9 327.6 1385.1 345.1 1385.4 346.6 1386.9 346.9 1386.9 379.9 1387.6 397.1 1388.4 449.1 1389.6 449.1 1390.4 397.1 1391.4 373.1 1391.9 371.4 1391.9 368.1 1392.4 366.4 1392.9 359.9 1393.1 371.4 1393.6 371.6 1393.6 372.9 1394.4 372.9 1394.4 371.6 1394.9 371.4ZM1376.9 327.6 1376.9 383.6 1376.4 383.6 1376.4 381.9 1375.6 381.9 1374.9 387.4 1374.6 423.1 1375.1 425.6 1375.1 430.4 1375.6 433.1 1375.6 438.1 1376.6 449.1 1377.1 449.4 1377.1 451.9 1377.6 452.1 1377.9 457.9 1378.6 458.1 1378.6 460.9 1378.1 461.1 1377.9 464.4 1378.1 484.1 1378.6 491.6 1379.4 491.9 1379.4 495.4 1383.6 495.4 1383.6 491.9 1384.4 491.6 1384.6 487.9 1383.9 464.4 1383.1 464.1 1383.1 461.1 1382.1 460.9 1382.1 458.1 1379.6 457.9 1379.6 452.1 1378.6 443.4 1377.6 420.9 1378.1 420.6 1379.4 409.4 1379.4 405.4 1380.4 398.9 1380.4 393.1 1381.9 374.6 1381.9 369.9 1383.6 349.4 1384.1 327.6Z"/>
<path fill="#00b8ff" fill-rule="evenodd" d="M1090.1 464.4 1090.1 467.1 1089.4 467.4 1089.4 470.4 1088.9 470.6 1088.6 477.1 1088.1 477.4 1087.6 484.4 1088.1 499.4 1089.1 499.6 1089.1 503.4 1091.6 503.4 1091.6 499.6 1092.9 499.4 1092.9 495.6 1093.4 495.4 1094.1 484.4 1092.9 467.4 1092.1 467.1 1092.1 464.4ZM1379.9 458.1 1379.9 460.9 1378.6 461.1 1378.4 464.4 1378.4 480.6 1378.9 491.6 1380.4 491.9 1380.4 495.4 1382.6 495.4 1382.6 491.9 1384.1 491.6 1384.4 487.9 1383.6 464.4 1382.6 464.1 1382.6 461.1 1380.9 460.9 1380.9 458.1ZM1378.1 452.1 1378.4 457.9 1379.4 457.9 1379.1 452.1ZM1067.6 409.6 1066.9 425.6 1066.9 435.4 1067.6 451.9 1068.1 452.1 1068.4 457.9 1068.9 458.1 1068.9 460.9 1069.4 461.1 1069.6 467.1 1070.1 467.4 1070.4 473.9 1070.9 474.1 1071.1 480.6 1071.6 480.9 1071.6 484.1 1072.1 484.4 1072.6 491.6 1076.4 491.6 1076.4 480.9 1075.4 458.1 1074.9 457.9 1071.1 414.1 1070.6 413.9 1070.4 409.6ZM1377.1 394.9 1377.1 397.1ZM1387.1 327.9 1387.1 330.6ZM1395.4 327.6 1393.6 327.6 1393.4 337.1 1393.1 327.6 1384.9 327.6 1385.4 345.1 1386.6 345.1 1386.6 341.4 1387.1 341.4 1386.9 378.1 1387.6 393.1 1388.1 435.4 1388.6 443.4 1389.4 443.4 1389.9 435.4 1390.4 393.1 1390.9 378.4 1391.4 376.4 1392.9 356.9 1392.9 337.1 1393.4 337.1 1393.4 369.6 1394.6 369.6ZM1383.9 327.6 1377.1 327.6 1376.6 344.1 1376.6 372.9 1377.1 381.9 1377.1 392.9 1376.6 392.9 1376.6 391.4 1375.4 391.4 1374.9 397.1 1375.1 423.1 1375.9 430.4 1376.4 430.6 1376.4 432.9 1377.1 432.9 1377.1 420.9 1377.9 420.6 1379.1 407.4 1380.1 400.9 1380.6 387.4 1382.1 369.6 1382.1 364.9 1383.4 352.4Z"/>
<path fill="#00d6ff" fill-rule="evenodd" d="M1090.1 470.6 1090.1 473.9 1089.1 474.1 1089.1 477.1 1088.6 477.4 1088.1 484.4 1088.6 495.4 1089.1 495.6 1089.1 499.4 1092.1 499.4 1092.1 495.6 1092.9 495.4 1093.1 488.1 1093.6 487.9 1093.6 480.9 1093.1 480.6 1092.9 474.1 1092.1 473.9 1092.1 470.6ZM1379.6 461.1 1379.6 464.1 1378.9 464.4 1378.9 487.9 1379.4 488.1 1379.4 491.6 1383.6 491.6 1383.9 480.9 1383.1 464.4 1381.6 464.1 1381.6 461.1ZM1068.1 414.1 1067.4 420.9 1067.1 428.1 1067.9 451.9 1068.4 452.1 1068.6 457.9 1069.1 458.1 1069.1 460.9 1069.6 461.1 1069.9 467.1 1070.4 467.4 1070.6 473.9 1071.1 474.1 1071.1 477.1 1071.6 477.4 1071.6 480.6 1072.1 480.9 1072.1 484.1 1072.6 484.4 1072.6 487.9 1073.9 488.1 1073.9 491.6 1075.1 491.6 1075.1 488.1 1075.9 487.9 1075.9 474.1 1074.1 446.6 1073.6 446.4 1073.6 443.6 1070.9 416.4 1070.4 416.1 1070.4 414.1ZM1395.4 327.6 1393.6 327.6 1393.9 355.4 1394.4 355.4 1394.6 353.9ZM1393.1 327.6 1387.4 327.6 1386.9 367.9 1387.1 383.6 1387.6 389.4 1387.9 416.1 1388.6 435.4 1389.4 435.4 1389.6 432.9 1390.4 389.4 1391.1 374.9 1391.6 372.9 1392.1 363.4 1392.6 361.6ZM1385.1 327.6 1385.6 341.1 1386.4 341.1 1386.9 327.6ZM1383.9 327.6 1377.1 327.6 1376.6 366.4 1377.4 389.4 1377.4 416.1 1378.1 416.1 1378.9 407.4 1380.1 398.9 1380.9 381.9 1383.4 350.9Z"/>
<path fill="#00f5ff" fill-rule="evenodd" d="M1089.9 477.4 1089.9 480.6 1088.9 480.9 1088.6 484.4 1089.1 491.6 1092.4 491.6 1092.4 488.1 1093.1 487.9 1092.9 480.9 1092.1 480.6 1092.1 477.4ZM1379.6 464.4 1379.4 487.9 1380.6 488.1 1380.6 491.6 1382.4 491.6 1382.4 488.1 1383.4 487.9 1383.4 480.9 1382.9 477.1 1382.6 467.4 1382.1 467.1 1382.1 464.4ZM1068.6 418.6 1068.6 420.6 1068.1 420.9 1067.4 430.6 1068.1 451.9 1068.6 452.1 1068.9 457.9 1069.4 458.1 1069.4 460.9 1069.9 461.1 1070.1 467.1 1070.6 467.4 1070.9 473.9 1071.4 474.1 1071.4 477.1 1072.1 477.4 1072.1 480.6 1072.9 480.9 1072.9 484.1 1075.1 484.1 1075.4 467.4 1073.6 443.6 1073.1 443.4 1071.4 423.4 1070.9 423.1 1070.9 420.9 1070.1 420.6 1070.1 418.6ZM1394.1 327.6 1394.1 334.4 1394.6 334.4 1394.9 327.6ZM1392.9 327.6 1387.4 327.6 1387.1 381.6 1387.6 387.4 1387.9 411.6 1388.6 427.9 1389.4 427.9 1389.6 425.4 1390.6 381.9 1392.6 359.9ZM1385.4 327.6 1385.6 334.4 1386.4 334.4 1386.6 327.6ZM1383.6 327.6 1377.4 327.6 1377.1 329.4 1376.9 376.4 1377.6 395.1 1377.6 411.6 1378.4 411.6 1378.4 409.6 1378.9 409.4 1379.9 400.9 1380.1 393.1 1381.4 378.1 1381.4 373.1 1383.4 348.1Z"/>
<path fill="#1affe5" fill-rule="evenodd" d="M1068.4 425.6 1068.4 427.9 1067.9 428.1 1067.9 443.4 1068.4 451.9 1068.9 452.1 1069.1 457.9 1069.6 458.1 1069.6 460.9 1070.1 461.1 1070.9 470.4 1071.4 470.6 1071.4 473.9 1072.1 474.1 1072.1 477.1 1074.6 477.1 1074.9 461.1 1073.4 443.6 1072.9 443.4 1071.9 430.6 1071.4 430.4 1070.9 425.6ZM1392.9 327.6 1387.6 327.6 1387.4 329.4 1387.1 379.9 1387.6 385.6 1387.9 407.1 1388.6 420.6 1389.4 420.6 1389.6 418.4 1390.6 380.1 1392.6 358.4ZM1383.6 327.6 1377.4 327.6 1376.9 345.4 1376.9 372.9 1378.1 407.1 1378.6 407.1 1378.6 405.4 1379.1 405.1 1379.9 398.9 1380.4 387.4 1381.9 369.6 1381.9 364.9 1383.1 350.9Z"/>
<path fill="#42ffbd" fill-rule="evenodd" d="M1068.6 433.1 1068.6 451.9 1069.1 452.1 1069.1 454.9 1069.6 455.1 1069.6 457.9 1070.1 458.1 1070.1 460.9 1070.6 461.1 1071.1 467.1 1072.1 467.4 1072.1 470.4 1073.6 470.4 1073.6 467.4 1074.1 467.1 1074.1 458.1 1072.6 441.1 1072.1 440.9 1071.9 435.6 1071.4 435.4 1071.4 433.1ZM1392.9 327.6 1387.6 327.6 1387.1 378.1 1387.9 389.4 1388.1 409.4 1388.6 413.9 1389.4 413.9 1389.9 409.4 1390.6 378.4 1391.4 372.9 1391.9 363.4 1392.4 361.6ZM1383.6 327.6 1377.4 327.6 1377.1 378.1 1378.1 398.9 1379.4 398.9 1380.1 392.9 1380.6 381.9 1381.9 367.9 1381.9 363.4 1383.1 349.4Z"/>
<path fill="#6bff94" fill-rule="evenodd" d="M1069.4 441.1 1069.1 451.9 1069.6 452.1 1069.6 454.9 1070.4 455.1 1070.4 457.9 1071.4 458.1 1071.4 460.9 1072.9 460.9 1073.1 452.1 1072.6 446.6 1072.1 446.4 1072.1 443.6 1071.4 443.4 1071.4 441.1ZM1392.6 327.6 1387.6 327.6 1387.4 381.6 1388.6 409.4 1389.4 409.4 1390.6 376.6 1391.1 374.6 1391.4 368.1 1391.9 366.4 1392.4 359.9ZM1383.4 327.6 1377.6 327.6 1377.1 344.1 1377.1 372.9 1377.6 389.1 1378.6 396.9 1379.1 396.9 1379.1 395.1 1379.6 394.9 1379.9 389.4 1380.4 387.1 1381.1 373.1 1381.9 366.4 1381.9 361.9 1382.6 355.4 1383.1 345.1Z"/>
<path fill="#94ff6b" fill-rule="evenodd" d="M1392.6 327.6 1387.9 327.6 1387.4 379.9 1387.9 383.9 1388.1 396.9 1388.6 403.1 1389.4 403.1 1390.1 383.9 1391.1 369.9 1391.6 367.9 1392.1 361.6ZM1383.4 327.6 1377.6 327.6 1377.4 376.4 1377.9 389.1 1378.4 392.9 1379.4 392.9 1380.6 381.6 1381.6 363.4 1382.9 349.4Z"/>
<path fill="#bdff42" fill-rule="evenodd" d="M1392.4 327.6 1387.9 327.6 1387.6 381.6 1388.6 396.9 1389.4 396.9 1390.1 381.9 1392.1 359.9ZM1383.1 327.6 1377.9 327.6 1377.4 344.1 1377.4 372.9 1378.1 387.1 1378.6 387.4 1378.6 389.1 1379.4 389.1 1379.4 387.4 1379.9 387.1 1379.9 383.9 1380.6 379.9 1381.6 366.4 1381.6 361.9 1382.4 355.4 1382.9 345.1Z"/>
<path fill="#e5ff1a" fill-rule="evenodd" d="M1392.4 327.6 1388.1 327.6 1387.9 328.1 1387.6 379.9 1388.6 391.1 1389.4 391.1 1389.9 387.1 1390.6 373.1 1391.1 371.4 1391.4 364.9 1391.9 363.1ZM1383.1 327.6 1377.9 327.6 1377.6 374.6 1378.1 383.6 1378.6 383.9 1378.6 385.4 1379.4 385.4 1379.4 383.9 1379.9 383.6 1380.4 376.6 1380.9 374.6 1381.4 363.4 1382.6 349.4Z"/>
<path fill="#fff000" fill-rule="evenodd" d="M1392.4 327.6 1388.1 327.6 1387.6 367.9 1387.9 381.6 1388.4 387.1 1389.6 387.1 1390.4 374.9 1390.9 372.9 1391.4 363.4 1391.9 361.6ZM1382.9 327.6 1378.1 327.6 1377.6 345.4 1377.6 371.4 1378.1 379.9 1378.6 380.1 1378.6 381.6 1379.6 381.6 1380.6 374.6 1382.4 350.9Z"/>
<path fill="#ffc700" fill-rule="evenodd" d="M1392.1 327.6 1388.1 327.6 1387.9 379.9 1388.4 383.6 1389.6 383.6 1390.4 373.1 1390.9 371.4 1391.1 364.9 1391.6 363.1ZM1382.9 327.6 1378.1 327.6 1377.9 372.9 1378.6 378.1 1379.6 378.1 1379.6 376.6 1380.1 376.4 1380.6 372.9 1382.4 348.1Z"/>
<path fill="#ff9e00" fill-rule="evenodd" d="M1392.1 327.6 1388.4 327.6 1387.9 360.1 1388.4 381.6 1389.6 381.6 1390.4 371.6 1390.9 369.6 1391.1 363.4 1391.6 361.6ZM1382.6 327.6 1378.4 327.6 1377.9 356.9 1378.1 371.4 1378.6 374.6 1379.9 374.6 1380.6 369.6 1381.1 360.1 1382.1 350.9Z"/>
<path fill="#ff7500" fill-rule="evenodd" d="M1391.9 327.6 1388.4 327.6 1388.4 378.1 1389.6 378.1 1391.4 361.6ZM1382.4 327.6 1378.6 327.6 1378.4 330.6 1378.1 358.4 1378.4 367.9 1378.9 371.4 1379.6 371.4 1379.6 369.9 1380.1 369.6 1380.6 366.4 1380.9 360.1 1381.9 350.9Z"/>
<path fill="#ff4c00" fill-rule="evenodd" d="M1391.9 327.6 1388.6 327.6 1388.6 372.9 1389.9 372.9 1391.4 359.9ZM1382.1 327.6 1378.9 327.6 1378.6 328.1 1378.4 353.9 1378.9 363.1 1380.4 363.1 1380.6 358.6 1381.1 356.9 1381.9 345.1Z"/>
<path fill="#ff2400" fill-rule="evenodd" d="M1391.6 327.6 1388.9 327.6 1388.9 367.9 1390.1 367.9 1391.1 359.9ZM1379.1 327.6 1378.9 353.9 1379.1 355.4 1380.6 355.4 1380.9 351.1 1381.4 349.4 1381.9 327.6Z"/>
<path fill="#fa0000" fill-rule="evenodd" d="M1391.4 327.6 1389.1 327.6 1388.9 361.6 1389.4 361.9 1389.4 363.1 1390.1 363.1 1390.1 361.9 1390.6 361.6ZM1379.4 327.6 1379.6 341.1 1379.9 342.4 1380.6 342.4 1381.6 327.6Z"/></g></g>
<rect x="895.5" y="327.5" width="525.5" height="189.0" fill="none" stroke="#262626" stroke-width="1.1"/>
<path d="M895.50 516.5V511.5M895.50 327.5V332.5M1026.88 516.5V511.5M1026.88 327.5V332.5M1158.25 516.5V511.5M1158.25 327.5V332.5M1289.62 516.5V511.5M1289.62 327.5V332.5M1421.00 516.5V511.5M1421.00 327.5V332.5M895.5 329.59H901.9M1421.0 329.59H1414.6M895.5 352.36H901.9M1421.0 352.36H1414.6M895.5 379.28H901.9M1421.0 379.28H1414.6M895.5 412.22H901.9M1421.0 412.22H1414.6M895.5 454.70H901.9M1421.0 454.70H1414.6M895.5 514.57H901.9M1421.0 514.57H1414.6" stroke="#262626" stroke-width="1.1" fill="none"/>
<text x="867.20" y="337.89" font-family="&quot;Liberation Sans&quot;, sans-serif" font-size="23.2" font-weight="normal" text-anchor="end" fill="#262626" textLength="14.2" lengthAdjust="spacingAndGlyphs"  stroke="#262626" stroke-width="0.25">7</text>
<text x="867.20" y="360.66" font-family="&quot;Liberation Sans&quot;, sans-serif" font-size="23.2" font-weight="normal" text-anchor="end" fill="#262626" textLength="14.2" lengthAdjust="spacingAndGlyphs"  stroke="#262626" stroke-width="0.25">6</text>
<text x="867.20" y="387.58" font-family="&quot;Liberation Sans&quot;, sans-serif" font-size="23.2" font-weight="normal" text-anchor="end" fill="#262626" textLength="14.2" lengthAdjust="spacingAndGlyphs"  stroke="#262626" stroke-width="0.25">5</text>
<text x="867.20" y="420.52" font-family="&quot;Liberation Sans&quot;, sans-serif" font-size="23.2" font-weight="normal" text-anchor="end" fill="#262626" textLength="14.2" lengthAdjust="spacingAndGlyphs"  stroke="#262626" stroke-width="0.25">4</text>
<text x="867.20" y="463.00" font-family="&quot;Liberation Sans&quot;, sans-serif" font-size="23.2" font-weight="normal" text-anchor="end" fill="#262626" textLength="14.2" lengthAdjust="spacingAndGlyphs"  stroke="#262626" stroke-width="0.25">3</text>
<text x="867.20" y="522.87" font-family="&quot;Liberation Sans&quot;, sans-serif" font-size="23.2" font-weight="normal" text-anchor="end" fill="#262626" textLength="14.2" lengthAdjust="spacingAndGlyphs"  stroke="#262626" stroke-width="0.25">2</text>
<text x="895.50" y="544.90" font-family="&quot;Liberation Sans&quot;, sans-serif" font-size="23.2" font-weight="normal" text-anchor="middle" fill="#262626" textLength="62" lengthAdjust="spacingAndGlyphs"  stroke="#262626" stroke-width="0.25">00:00</text>
<text x="1026.88" y="544.90" font-family="&quot;Liberation Sans&quot;, sans-serif" font-size="23.2" font-weight="normal" text-anchor="middle" fill="#262626" textLength="62" lengthAdjust="spacingAndGlyphs"  stroke="#262626" stroke-width="0.25">06:00</text>
<text x="1158.25" y="544.90" font-family="&quot;Liberation Sans&quot;, sans-serif" font-size="23.2" font-weight="normal" text-anchor="middle" fill="#262626" textLength="62" lengthAdjust="spacingAndGlyphs"  stroke="#262626" stroke-width="0.25">12:00</text>
<text x="1289.62" y="544.90" font-family="&quot;Liberation Sans&quot;, sans-serif" font-size="23.2" font-weight="normal" text-anchor="middle" fill="#262626" textLength="62" lengthAdjust="spacingAndGlyphs"  stroke="#262626" stroke-width="0.25">18:00</text>
<text x="1421.00" y="544.90" font-family="&quot;Liberation Sans&quot;, sans-serif" font-size="23.2" font-weight="normal" text-anchor="middle" fill="#262626" textLength="62" lengthAdjust="spacingAndGlyphs"  stroke="#262626" stroke-width="0.25">00:00</text>
<text transform="translate(843.0 423.8) rotate(-90)" font-family="&quot;Liberation Sans&quot;, sans-serif" font-size="23.2" font-weight="bold" text-anchor="middle" fill="#262626" stroke="#262626" stroke-width="0.4" textLength="134" lengthAdjust="spacingAndGlyphs">freq (mHz)</text>
<clipPath id="cr2"><rect x="895.5" y="589.5" width="525.5" height="189.0"/></clipPath>
<g clip-path="url(#cr2)"><rect x="895.5" y="589.5" width="525.5" height="189.0" fill="#00008f"/>
<g filter="url(#blr)"><path fill="#0000bf" fill-rule="evenodd" d="M1093.6 726.4 1092.1 726.4 1091.6 732.4 1090.9 732.6 1090.9 735.9 1090.4 736.1 1089.9 742.6 1089.4 742.9 1089.9 757.4 1090.4 757.6 1090.4 761.4 1091.6 761.4 1091.6 757.6 1092.6 757.4 1092.6 753.9 1093.4 753.6 1093.4 750.1 1094.1 749.9 1094.1 746.4 1094.6 746.1 1094.4 736.1ZM1069.1 669.4 1068.9 702.9 1069.4 705.6 1070.4 719.9 1070.9 720.1 1071.4 729.1 1071.9 729.4 1071.9 732.4 1072.4 732.4 1072.9 716.9 1072.9 700.4 1072.1 694.9 1071.6 685.4 1071.1 685.1 1069.6 669.4ZM1253.1 661.1 1252.9 669.1 1252.4 671.6 1252.4 678.1 1253.1 685.4 1253.1 689.9 1253.9 689.9 1253.9 685.4 1254.6 678.1 1254.6 671.6 1254.1 669.1 1253.9 661.1ZM1375.9 622.1 1374.6 653.4 1374.9 722.9 1375.9 732.6 1376.6 746.1 1377.4 746.4 1377.4 749.9 1378.1 750.1 1378.1 753.6 1378.9 753.9 1378.9 757.4 1379.9 757.6 1379.9 761.4 1381.1 761.6 1381.1 765.4 1382.9 765.4 1382.9 761.6 1383.6 761.4 1383.6 757.6 1384.1 757.4 1384.6 746.4 1385.1 746.1 1385.1 742.9 1383.1 717.1 1382.6 716.9 1382.6 714.1 1382.1 713.9 1381.9 708.6 1381.4 708.4 1381.4 705.6 1380.9 705.4 1380.1 697.4 1376.6 622.1ZM1394.1 589.6 1386.4 589.6 1386.1 628.4 1386.9 651.1 1389.1 680.4 1389.9 680.4 1390.6 673.6 1390.6 669.4 1391.1 667.1 1391.6 655.1 1392.4 647.4 1392.4 642.1 1392.9 638.4 1393.6 621.9ZM1378.1 589.6 1377.9 631.6 1378.4 633.6 1378.4 636.6 1378.9 638.6 1378.9 641.9 1379.6 647.4 1380.9 647.4 1380.9 645.9 1381.4 645.6 1381.9 641.9 1381.9 638.6 1383.1 629.9 1383.1 589.6ZM1307.4 589.6 1307.9 608.6 1309.1 608.6 1309.6 604.4 1309.9 589.6ZM1241.9 589.6 1241.9 615.9 1242.6 641.9 1244.1 641.9 1244.9 618.9 1244.9 589.6Z"/>
<path fill="#0000e0" fill-rule="evenodd" d="M1093.4 729.4 1092.1 729.4 1092.1 732.4 1091.4 732.6 1091.4 735.9 1090.9 736.1 1090.4 742.6 1089.9 742.9 1090.4 757.4 1092.1 757.4 1092.1 753.9 1092.9 753.6 1092.9 750.1 1093.6 749.9 1093.6 746.4 1094.4 746.1ZM1069.4 678.4 1069.1 700.1 1069.6 703.1 1069.6 708.4 1070.1 708.6 1071.4 722.9 1072.1 722.9 1072.4 697.6 1070.6 680.6 1070.1 680.4 1070.1 678.4ZM1253.1 671.6 1253.1 678.1 1253.9 678.1 1253.9 671.6ZM1376.1 630.1 1374.9 655.1 1375.1 719.9 1375.6 723.1 1375.6 729.1 1376.9 746.1 1377.6 746.4 1377.6 749.9 1378.4 750.1 1378.4 753.6 1379.4 753.9 1379.4 757.4 1380.4 757.6 1380.4 761.4 1383.1 761.4 1383.9 750.1 1384.4 749.9 1384.6 742.9 1382.6 717.1 1382.1 716.9 1381.9 711.4 1381.4 711.1 1381.4 708.6 1380.9 708.4 1380.4 700.4 1379.9 700.1 1379.6 687.6 1377.9 656.9 1377.6 643.9 1377.1 640.1 1376.6 630.1ZM1393.9 589.6 1386.6 589.6 1386.4 626.6 1386.9 645.6 1388.4 671.4 1389.1 678.1 1389.9 678.1 1390.6 671.4 1390.9 663.1 1392.1 647.4 1392.1 642.1 1392.6 638.4 1393.4 620.4ZM1378.4 589.6 1378.1 629.9 1379.6 645.6 1380.9 645.6 1380.9 643.9 1381.4 643.6 1381.6 638.6 1382.9 629.9 1382.9 589.6ZM1309.4 589.6 1307.9 589.6 1307.9 595.1 1308.4 597.6 1308.6 596.6 1309.1 596.4ZM1242.1 589.6 1242.4 618.9 1243.1 628.4 1243.6 628.4 1244.4 620.4 1244.6 589.6Z"/>
<path fill="#0000ff" fill-rule="evenodd" d="M1093.1 732.6 1091.9 732.6 1091.9 735.9 1091.1 736.1 1090.6 742.6 1090.1 742.9 1090.4 753.6 1092.6 753.6 1092.6 750.1 1093.4 749.9 1093.4 746.4 1093.9 746.1 1093.6 736.1 1093.1 735.9ZM1070.1 685.4 1070.1 687.4 1069.6 687.6 1069.4 700.1 1070.4 711.1 1070.9 711.4 1070.9 713.9 1071.9 713.9 1072.1 697.6 1071.4 690.1 1070.9 689.9 1070.9 687.6 1070.1 687.4ZM1376.4 640.4 1376.4 641.9 1375.9 642.1 1375.1 657.1 1375.4 719.9 1376.6 732.6 1377.4 746.1 1377.9 746.4 1377.9 749.9 1378.9 750.1 1378.9 753.6 1379.6 753.9 1379.6 757.4 1380.9 757.6 1380.9 761.4 1382.4 761.4 1382.4 757.6 1383.4 757.4 1384.4 742.9 1382.4 717.1 1381.9 716.9 1381.9 714.1 1381.4 713.9 1381.1 708.6 1380.6 708.4 1380.4 703.1 1379.9 702.9 1377.6 651.4 1377.1 643.9ZM1393.6 589.6 1386.9 589.6 1386.6 629.9 1387.4 653.1 1389.1 675.9 1389.9 675.9 1390.6 669.1 1391.9 649.1 1392.1 638.6 1392.6 634.9 1393.1 625.1ZM1378.4 589.6 1378.4 631.6 1379.4 638.6 1379.6 643.6 1380.9 643.6 1382.6 631.6 1382.9 589.6ZM1242.4 589.6 1242.6 610.1 1242.9 612.9 1243.9 612.9 1244.4 603.1 1244.4 589.6Z"/>
<path fill="#001fff" fill-rule="evenodd" d="M1092.9 736.1 1091.9 736.1 1091.9 739.1 1090.9 739.4 1090.9 742.6 1090.4 742.9 1090.4 749.9 1093.1 749.9 1093.6 742.9 1093.4 739.4 1092.9 739.1ZM1069.9 695.1 1070.4 705.4 1071.6 705.4 1071.4 695.1ZM1375.9 653.4 1375.4 663.1 1375.6 719.9 1376.9 732.6 1377.6 746.1 1378.4 746.4 1378.4 749.9 1379.1 750.1 1379.1 753.6 1380.1 753.9 1380.1 757.4 1382.9 757.4 1382.9 753.9 1383.4 753.6 1383.6 746.4 1384.1 746.1 1384.1 742.9 1382.1 717.1 1381.6 716.9 1381.6 714.1 1381.1 713.9 1380.9 708.6 1380.4 708.4 1380.1 703.1 1379.6 702.9 1378.4 673.9 1377.1 653.4ZM1393.6 589.6 1387.1 589.6 1386.9 591.4 1387.1 643.6 1388.4 667.1 1388.9 671.4 1389.4 671.6 1389.4 673.6 1389.6 671.6 1390.1 671.4 1390.6 667.1 1391.6 645.9 1392.1 641.9 1392.9 626.6ZM1378.6 589.6 1378.6 631.6 1379.9 641.9 1380.9 641.9 1382.4 631.6 1382.6 589.6ZM1242.6 589.6 1242.9 597.6 1243.1 598.9 1243.9 598.9 1244.1 589.6Z"/>
<path fill="#003dff" fill-rule="evenodd" d="M1092.6 739.4 1091.9 739.4 1091.9 742.6 1090.6 742.9 1090.6 746.1 1091.4 746.4 1091.4 749.9 1092.4 749.9 1092.4 746.4 1093.4 746.1 1093.4 742.9 1092.6 742.6ZM1376.1 667.4 1375.9 716.9 1377.9 746.1 1378.6 746.4 1378.6 749.9 1379.4 750.1 1379.4 753.6 1382.9 753.6 1383.6 742.9 1382.6 732.4 1382.1 720.1 1381.6 719.9 1381.4 714.1 1380.9 713.9 1380.6 708.6 1380.1 708.4 1379.9 703.1 1379.4 702.9 1377.1 667.4ZM1393.4 589.6 1387.1 589.6 1387.1 638.4 1388.4 665.1 1388.9 669.1 1389.4 669.4 1389.4 671.4 1389.6 669.4 1390.1 669.1 1390.6 665.1 1392.9 621.9ZM1378.6 589.6 1378.6 629.9 1379.9 640.1 1380.9 640.1 1382.4 629.9 1382.4 589.6Z"/>
<path fill="#005cff" fill-rule="evenodd" d="M1376.6 687.6 1376.1 700.4 1376.4 722.9 1377.4 732.6 1378.1 746.1 1378.9 746.4 1378.9 749.9 1380.1 750.1 1380.1 753.6 1382.4 753.6 1382.4 750.1 1383.1 749.9 1383.4 742.9 1382.1 729.1 1381.9 720.1 1381.4 719.9 1381.1 714.1 1380.6 713.9 1380.4 708.6 1379.9 708.4 1379.9 705.6 1379.4 705.4 1379.1 700.4 1378.6 700.1 1377.9 687.6ZM1393.4 589.6 1387.4 589.6 1387.1 633.4 1387.6 651.1 1388.9 667.1 1390.1 667.1 1391.4 651.1 1391.4 645.9 1392.6 626.6ZM1378.9 589.6 1378.9 631.6 1379.6 636.6 1381.4 636.6 1382.1 631.6 1382.4 589.6Z"/>
<path fill="#007aff" fill-rule="evenodd" d="M1376.9 703.1 1376.6 719.9 1378.4 746.1 1379.4 746.4 1379.4 749.9 1382.6 749.9 1383.1 742.9 1381.1 717.1 1380.6 716.9 1380.4 711.4 1379.9 711.1 1379.9 708.6 1379.4 708.4 1379.4 705.6 1378.6 705.4 1378.6 703.1ZM1393.1 589.6 1387.4 589.6 1387.1 628.4 1387.9 653.1 1388.9 665.1 1390.1 665.1 1391.4 649.1 1392.6 621.9ZM1379.1 589.6 1379.1 631.6 1379.6 634.9 1381.1 634.9 1381.1 633.6 1381.6 633.4 1381.9 631.6 1382.1 589.6Z"/>
<path fill="#0099ff" fill-rule="evenodd" d="M1377.4 711.4 1377.1 722.9 1378.1 732.6 1378.9 746.1 1380.6 746.4 1380.6 749.9 1381.4 749.9 1381.4 746.4 1382.6 746.1 1382.6 742.9 1381.6 732.4 1381.1 720.1 1380.6 719.9 1380.6 717.1 1380.1 716.9 1379.6 711.4ZM1393.1 589.6 1387.6 589.6 1387.4 593.9 1387.4 633.4 1387.9 651.1 1388.9 662.9 1390.1 662.9 1391.1 651.1 1391.1 645.9 1392.4 626.6ZM1379.1 589.6 1379.4 631.6 1379.9 631.9 1379.9 633.4 1381.1 633.4 1381.1 631.9 1381.6 631.6 1382.1 589.6Z"/>
<path fill="#00b8ff" fill-rule="evenodd" d="M1377.9 717.1 1377.9 722.9 1378.9 732.6 1379.6 746.1 1382.1 746.1 1380.4 720.1 1379.9 719.9 1379.9 717.1ZM1392.9 589.6 1387.6 589.6 1387.4 628.4 1388.1 653.1 1389.1 660.9 1389.9 660.9 1389.9 659.1 1390.4 658.9 1390.4 655.1 1391.1 649.1 1392.4 621.9ZM1379.4 589.6 1379.6 629.9 1381.4 629.9 1381.9 589.6Z"/>
<path fill="#00d6ff" fill-rule="evenodd" d="M1392.9 589.6 1387.9 589.6 1387.6 592.6 1387.6 633.4 1388.1 642.1 1388.1 651.1 1388.9 656.9 1390.1 656.9 1390.9 651.1 1391.1 640.4 1391.6 636.6 1392.1 625.1ZM1379.6 589.6 1380.1 608.6 1380.4 610.1 1380.9 610.1 1381.4 600.4 1381.4 589.6Z"/>
<path fill="#00f5ff" fill-rule="evenodd" d="M1392.6 589.6 1387.9 589.6 1387.6 626.6 1388.1 645.6 1388.9 654.9 1390.1 654.9 1390.9 647.4 1390.9 642.1 1391.4 638.4 1392.1 621.9Z"/>
<path fill="#1affe5" fill-rule="evenodd" d="M1392.6 589.6 1388.1 589.6 1387.9 592.6 1387.9 631.6 1388.9 651.1 1390.1 651.1 1391.1 640.1 1391.9 625.1Z"/>
<path fill="#42ffbd" fill-rule="evenodd" d="M1392.4 589.6 1388.1 589.6 1388.1 631.6 1389.1 645.6 1390.1 645.6 1391.1 634.9 1391.9 617.4Z"/>
<path fill="#6bff94" fill-rule="evenodd" d="M1388.4 589.6 1388.4 628.4 1388.9 636.6 1390.4 636.6 1391.4 625.1 1392.1 589.6Z"/>
<path fill="#94ff6b" fill-rule="evenodd" d="M1388.6 589.6 1388.6 623.6 1389.1 628.4 1390.4 628.4 1390.9 625.1 1391.4 614.4 1391.9 589.6Z"/>
<path fill="#bdff42" fill-rule="evenodd" d="M1388.9 589.6 1389.1 608.6 1389.6 612.9 1390.4 612.9 1391.1 605.9 1391.6 589.6Z"/></g></g>
<rect x="895.5" y="589.5" width="525.5" height="189.0" fill="none" stroke="#262626" stroke-width="1.1"/>
<path d="M895.50 778.5V773.5M895.50 589.5V594.5M1026.88 778.5V773.5M1026.88 589.5V594.5M1158.25 778.5V773.5M1158.25 589.5V594.5M1289.62 778.5V773.5M1289.62 589.5V594.5M1421.00 778.5V773.5M1421.00 589.5V594.5M895.5 591.59H901.9M1421.0 591.59H1414.6M895.5 614.36H901.9M1421.0 614.36H1414.6M895.5 641.28H901.9M1421.0 641.28H1414.6M895.5 674.22H901.9M1421.0 674.22H1414.6M895.5 716.70H901.9M1421.0 716.70H1414.6M895.5 776.57H901.9M1421.0 776.57H1414.6" stroke="#262626" stroke-width="1.1" fill="none"/>
<text x="867.20" y="599.89" font-family="&quot;Liberation Sans&quot;, sans-serif" font-size="23.2" font-weight="normal" text-anchor="end" fill="#262626" textLength="14.2" lengthAdjust="spacingAndGlyphs"  stroke="#262626" stroke-width="0.25">7</text>
<text x="867.20" y="622.66" font-family="&quot;Liberation Sans&quot;, sans-serif" font-size="23.2" font-weight="normal" text-anchor="end" fill="#262626" textLength="14.2" lengthAdjust="spacingAndGlyphs"  stroke="#262626" stroke-width="0.25">6</text>
<text x="867.20" y="649.58" font-family="&quot;Liberation Sans&quot;, sans-serif" font-size="23.2" font-weight="normal" text-anchor="end" fill="#262626" textLength="14.2" lengthAdjust="spacingAndGlyphs"  stroke="#262626" stroke-width="0.25">5</text>
<text x="867.20" y="682.52" font-family="&quot;Liberation Sans&quot;, sans-serif" font-size="23.2" font-weight="normal" text-anchor="end" fill="#262626" textLength="14.2" lengthAdjust="spacingAndGlyphs"  stroke="#262626" stroke-width="0.25">4</text>
<text x="867.20" y="725.00" font-family="&quot;Liberation Sans&quot;, sans-serif" font-size="23.2" font-weight="normal" text-anchor="end" fill="#262626" textLength="14.2" lengthAdjust="spacingAndGlyphs"  stroke="#262626" stroke-width="0.25">3</text>
<text x="867.20" y="784.87" font-family="&quot;Liberation Sans&quot;, sans-serif" font-size="23.2" font-weight="normal" text-anchor="end" fill="#262626" textLength="14.2" lengthAdjust="spacingAndGlyphs"  stroke="#262626" stroke-width="0.25">2</text>
<text transform="translate(843.0 685.8) rotate(-90)" font-family="&quot;Liberation Sans&quot;, sans-serif" font-size="23.2" font-weight="bold" text-anchor="middle" fill="#262626" stroke="#262626" stroke-width="0.4" textLength="134" lengthAdjust="spacingAndGlyphs">freq (mHz)</text>
</svg></body></html>
